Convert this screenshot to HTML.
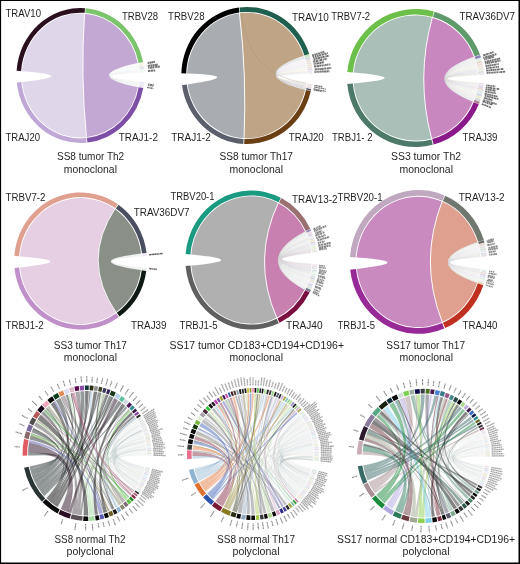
<!DOCTYPE html>
<html><head><meta charset="utf-8"><title>Figure</title>
<style>
html,body{margin:0;padding:0;background:#fff;}
body{width:520px;height:564px;overflow:hidden;font-family:"Liberation Sans",sans-serif;}
svg{display:block;}
</style></head><body>
<svg width="520" height="564" viewBox="0 0 520 564" font-family="Liberation Sans, sans-serif">
<rect width="520" height="564" fill="#fff"/>
<path d="M16.6 70.8A64 67.5 0 0 1 85 8.2L84.6 12.8A59.4 62.9 0 0 0 21.1 71.1Z" fill="#2a0f1e"/>
<path d="M85.6 8.2A64 67.5 0 0 1 143.1 61.9L138.6 62.9A59.4 62.9 0 0 0 85.3 12.8Z" fill="#7cc46c"/>
<path d="M143.3 88.1A64 67.5 0 0 1 87.4 142.6L86.9 138A59.4 62.9 0 0 0 138.7 87.3Z" fill="#7d4fa5"/>
<path d="M86.5 142.7A64 67.5 0 0 1 16.8 82.6L21.3 82.1A59.4 62.9 0 0 0 86.1 138.1Z" fill="#bfa8d6"/>
<path d="M22 71.2A58.5 62 0 0 1 84.6 13.7Q80.4 75.5 86.4 137.2A58.5 62 0 0 1 22.2 82Q80.4 75.5 22 71.2Z" fill="#e0d6ea"/>
<path d="M84.6 13.7A58.5 62 0 0 1 137.7 63Q80.4 75.5 137.9 87.1A58.5 62 0 0 1 86.4 137.2Q80.4 75.5 84.6 13.7Z" fill="#c4a8d4"/>
<path d="M84.6 13Q80.4 75.5 86.5 137.9" fill="none" stroke="#fff" stroke-width="0.9"/>
<g fill-opacity="0.04" stroke-opacity="0.25" stroke-width="0.25">
<path d="M137.7 63A58.5 62 0 0 1 138 64.7Q80.4 75.5 138.1 85.7A58.5 62 0 0 1 137.9 87.1Q80.4 75.5 137.7 63Z" fill="#c8ccd4" stroke="#c8ccd4"/>
<path d="M138 64.7A58.5 62 0 0 1 138.3 66.3Q80.4 75.5 138.3 84.2A58.5 62 0 0 1 138.1 85.7Q80.4 75.5 138 64.7Z" fill="#d0d8cc" stroke="#d0d8cc"/>
<path d="M138.3 66.3A58.5 62 0 0 1 138.5 67.9Q80.4 75.5 138.1 85.7A58.5 62 0 0 1 137.9 87.1Q80.4 75.5 138.3 66.3Z" fill="#d0ecd8" stroke="#d0ecd8"/>
<path d="M138.5 67.9A58.5 62 0 0 1 138.6 69.5Q80.4 75.5 138.3 84.2A58.5 62 0 0 1 138.1 85.7Q80.4 75.5 138.5 67.9Z" fill="#cfdfe8" stroke="#cfdfe8"/>
<path d="M138.6 69.5A58.5 62 0 0 1 138.7 70.4Q80.4 75.5 138.5 82.8A58.5 62 0 0 1 138.3 84.2Q80.4 75.5 138.6 69.5Z" fill="#d6e6d0" stroke="#d6e6d0"/>
<path d="M138.7 70.4A58.5 62 0 0 1 138.8 71.3Q80.4 75.5 138.6 81.4A58.5 62 0 0 1 138.5 82.8Q80.4 75.5 138.7 70.4Z" fill="#c8d8c8" stroke="#c8d8c8"/>
<path d="M138.8 71.3A58.5 62 0 0 1 138.8 72Q80.4 75.5 138.5 82.8A58.5 62 0 0 1 138.3 84.2Q80.4 75.5 138.8 71.3Z" fill="#c9c2dc" stroke="#c9c2dc"/>
<path d="M138.8 72A58.5 62 0 0 1 138.8 72.8Q80.4 75.5 138.6 81.4A58.5 62 0 0 1 138.5 82.8Q80.4 75.5 138.8 72Z" fill="#e6e2b8" stroke="#e6e2b8"/>
</g><g fill-opacity="0.4">
<path d="M143.1 62.2A64 67.5 0 0 1 143.7 65.5L139.1 66.2A59.4 62.9 0 0 0 138.6 63.1Z" fill="#e6e2b8"/>
<path d="M143.7 65.8A64 67.5 0 0 1 144.1 68.9L139.5 69.3A59.4 62.9 0 0 0 139.2 66.5Z" fill="#bfc7d6"/>
<path d="M144.1 69.2A64 67.5 0 0 1 144.2 70.8L139.7 71.2A59.4 62.9 0 0 0 139.5 69.6Z" fill="#d0ecd8"/>
<path d="M144.3 71.2A64 67.5 0 0 1 144.3 72.5L139.7 72.7A59.4 62.9 0 0 0 139.7 71.5Z" fill="#d0ecd8"/>
<path d="M143.8 85.1A64 67.5 0 0 1 143.3 87.9L138.8 87A59.4 62.9 0 0 0 139.2 84.4Z" fill="#c8c0dc"/>
<path d="M144.1 82A64 67.5 0 0 1 143.8 84.7L139.2 84.1A59.4 62.9 0 0 0 139.5 81.6Z" fill="#c9c2dc"/>
</g>
<path d="M147.6 63.1l1.9 -0.3M149.8 62.7l1.4 -0.3M151.4 62.4l2 -0.4M153.6 62l1.4 -0.3M147.8 65.9l2.2 -0.3M150.5 65.5l1.8 -0.3M152.7 65.2l2 -0.3M155.2 64.9l2.5 -0.4M148.3 67.9l1.1 -0.1M149.9 67.7l2.1 -0.2M152.3 67.4l2.1 -0.2M155.1 67.1l2.5 -0.3M158 66.8l1.8 -0.2M148 70.9l2.5 -0.2M151 70.7l2.5 -0.2M153.9 70.5l1.3 -0.1" fill="none" stroke="#4a4a4a" stroke-width="2" stroke-dasharray="none" stroke-opacity="0.78"/>
<path d="M148 84.1l1.5 0.2M150.1 84.4l2.2 0.3M152.8 84.7l1 0.1M148 85.3l1.5 0.2M150 85.6l1.7 0.2M152.1 85.9l1.2 0.2M147.1 87.4l1.3 0.2M148.6 87.7l1.2 0.2M150.4 88l1.8 0.3M152.6 88.4l0.7 0.1" fill="none" stroke="#4a4a4a" stroke-width="1.44" stroke-dasharray="none" stroke-opacity="0.78"/>
<path d="M181.3 73.3A65.6 68.5 0 0 1 238.8 7.5L239.4 12.4A60.7 63.6 0 0 0 186.2 73.5Z" fill="#000000"/>
<path d="M239.5 7.4A65.6 68.5 0 0 1 309.2 54L304.5 55.5A60.7 63.6 0 0 0 240 12.3Z" fill="#1f5f4f"/>
<path d="M310.8 91A65.6 68.5 0 0 1 244.2 143.9L244.4 139A60.7 63.6 0 0 0 306 89.9Z" fill="#6b3f14"/>
<path d="M243.3 143.9A65.6 68.5 0 0 1 182 85.3L186.8 84.6A60.7 63.6 0 0 0 243.6 139Z" fill="#5a5f6b"/>
<path d="M187.1 73.5A59.8 62.7 0 0 1 239.5 13.3Q246.9 75.5 244 138.1A59.8 62.7 0 0 1 187.7 84.4Q246.9 75.5 187.1 73.5Z" fill="#a9adb2"/>
<path d="M239.5 13.3A59.8 62.7 0 0 1 303.7 55.8Q246.9 75.5 305.1 89.7A59.8 62.7 0 0 1 244 138.1Q246.9 75.5 239.5 13.3Z" fill="#bfa585"/>
<path d="M239.4 12.6Q246.9 75.5 244 138.8" fill="none" stroke="#fff" stroke-width="0.9"/>
<path d="M241.7 13Q246.9 75.5 306.3 83.1" fill="none" stroke="#a39078" stroke-width="0.35"/>
<g fill-opacity="0.04" stroke-opacity="0.4" stroke-width="0.25">
<path d="M303.7 55.8A59.8 62.7 0 0 1 304 57Q246.9 75.5 305.3 88.8A59.8 62.7 0 0 1 305.1 89.7Q246.9 75.5 303.7 55.8Z" fill="#a8d0b0" stroke="#a8d0b0"/>
<path d="M304 57A59.8 62.7 0 0 1 304.4 58.2Q246.9 75.5 305.5 87.8A59.8 62.7 0 0 1 305.3 88.8Q246.9 75.5 304 57Z" fill="#3a4a7a" stroke="#3a4a7a"/>
<path d="M304.4 58.2A59.8 62.7 0 0 1 304.7 59.4Q246.9 75.5 305.3 88.8A59.8 62.7 0 0 1 305.1 89.7Q246.9 75.5 304.4 58.2Z" fill="#d9d9d9" stroke="#d9d9d9"/>
<path d="M304.7 59.4A59.8 62.7 0 0 1 305 60.6Q246.9 75.5 305.5 87.8A59.8 62.7 0 0 1 305.3 88.8Q246.9 75.5 304.7 59.4Z" fill="#dcd0e4" stroke="#dcd0e4"/>
<path d="M305 60.6A59.8 62.7 0 0 1 305.2 61.7Q246.9 75.5 305.3 88.8A59.8 62.7 0 0 1 305.1 89.7Q246.9 75.5 305 60.6Z" fill="#c8d8c8" stroke="#c8d8c8"/>
<path d="M305.2 61.7A59.8 62.7 0 0 1 305.5 62.8Q246.9 75.5 305.8 86.2A59.8 62.7 0 0 1 305.7 87Q246.9 75.5 305.2 61.7Z" fill="#dcd0e4" stroke="#dcd0e4"/>
<path d="M305.5 62.8A59.8 62.7 0 0 1 305.6 63.8Q246.9 75.5 305.7 87A59.8 62.7 0 0 1 305.5 87.8Q246.9 75.5 305.5 62.8Z" fill="#e8cfd8" stroke="#e8cfd8"/>
<path d="M305.6 63.8A59.8 62.7 0 0 1 305.8 64.8Q246.9 75.5 305.8 86.2A59.8 62.7 0 0 1 305.7 87Q246.9 75.5 305.6 63.8Z" fill="#c9c2dc" stroke="#c9c2dc"/>
<path d="M305.8 64.8A59.8 62.7 0 0 1 306 65.8Q246.9 75.5 305.7 87A59.8 62.7 0 0 1 305.5 87.8Q246.9 75.5 305.8 64.8Z" fill="#c9c2dc" stroke="#c9c2dc"/>
<path d="M306 65.8A59.8 62.7 0 0 1 306.1 66.8Q246.9 75.5 305.8 86.2A59.8 62.7 0 0 1 305.7 87Q246.9 75.5 306 65.8Z" fill="#d9d9d9" stroke="#d9d9d9"/>
<path d="M306.1 66.8A59.8 62.7 0 0 1 306.2 67.7Q246.9 75.5 306 85.4A59.8 62.7 0 0 1 305.8 86.2Q246.9 75.5 306.1 66.8Z" fill="#c8d8c8" stroke="#c8d8c8"/>
<path d="M306.2 67.7A59.8 62.7 0 0 1 306.3 68.6Q246.9 75.5 306.1 84.6A59.8 62.7 0 0 1 306 85.4Q246.9 75.5 306.2 67.7Z" fill="#d9d9d9" stroke="#d9d9d9"/>
<path d="M306.3 68.6A59.8 62.7 0 0 1 306.4 69.5Q246.9 75.5 306 85.4A59.8 62.7 0 0 1 305.8 86.2Q246.9 75.5 306.3 68.6Z" fill="#e6e2b8" stroke="#e6e2b8"/>
<path d="M306.4 69.5A59.8 62.7 0 0 1 306.5 70.5Q246.9 75.5 306.1 84.6A59.8 62.7 0 0 1 306 85.4Q246.9 75.5 306.4 69.5Z" fill="#e6e2b8" stroke="#e6e2b8"/>
<path d="M306.5 70.5A59.8 62.7 0 0 1 306.6 71.1Q246.9 75.5 306 85.4A59.8 62.7 0 0 1 305.8 86.2Q246.9 75.5 306.5 70.5Z" fill="#dcd0e4" stroke="#dcd0e4"/>
<path d="M306.6 71.1A59.8 62.7 0 0 1 306.6 71.8Q246.9 75.5 306.2 83.5A59.8 62.7 0 0 1 306.1 84Q246.9 75.5 306.6 71.1Z" fill="#e9d9c4" stroke="#e9d9c4"/>
<path d="M306.6 71.8A59.8 62.7 0 0 1 306.6 72.3Q246.9 75.5 306.1 84A59.8 62.7 0 0 1 306.1 84.6Q246.9 75.5 306.6 71.8Z" fill="#dcd0e4" stroke="#dcd0e4"/>
<path d="M306.6 72.3A59.8 62.7 0 0 1 306.6 72.7Q246.9 75.5 306.2 83.5A59.8 62.7 0 0 1 306.1 84Q246.9 75.5 306.6 72.3Z" fill="#e9d9c4" stroke="#e9d9c4"/>
<path d="M306.6 72.7A59.8 62.7 0 0 1 306.7 73.2Q246.9 75.5 306.1 84A59.8 62.7 0 0 1 306.1 84.6Q246.9 75.5 306.6 72.7Z" fill="#cfdfe8" stroke="#cfdfe8"/>
<path d="M306.7 73.2A59.8 62.7 0 0 1 306.7 73.6Q246.9 75.5 306.2 83.5A59.8 62.7 0 0 1 306.1 84Q246.9 75.5 306.7 73.2Z" fill="#cfdfe8" stroke="#cfdfe8"/>
</g><g fill-opacity="0.7">
<path d="M309.3 54.3A65.6 68.5 0 0 1 309.9 56.5L305.2 57.9A60.7 63.6 0 0 0 304.6 55.8Z" fill="#b0d8a0"/>
<path d="M310 56.9A65.6 68.5 0 0 1 310.6 59.1L305.8 60.3A60.7 63.6 0 0 0 305.3 58.2Z" fill="#c9c2dc"/>
<path d="M310.7 59.5A65.6 68.5 0 0 1 311.1 61.5L306.3 62.5A60.7 63.6 0 0 0 305.9 60.6Z" fill="#e9d9c4"/>
<path d="M311.2 61.9A65.6 68.5 0 0 1 311.5 63.8L306.7 64.6A60.7 63.6 0 0 0 306.4 62.9Z" fill="#d9d9d9"/>
<path d="M311.6 64.1A65.6 68.5 0 0 1 311.9 65.9L307 66.6A60.7 63.6 0 0 0 306.8 64.9Z" fill="#e9d9c4"/>
<path d="M311.9 66.3A65.6 68.5 0 0 1 312.1 67.9L307.2 68.5A60.7 63.6 0 0 0 307 66.9Z" fill="#e9d9c4"/>
<path d="M312.1 68.3A65.6 68.5 0 0 1 312.3 69.9L307.4 70.3A60.7 63.6 0 0 0 307.3 68.8Z" fill="#dcd0e4"/>
<path d="M312.3 70.3A65.6 68.5 0 0 1 312.4 71.4L307.5 71.7A60.7 63.6 0 0 0 307.4 70.7Z" fill="#dcd0e4"/>
<path d="M312.4 71.8A65.6 68.5 0 0 1 312.4 72.4L307.5 72.6A60.7 63.6 0 0 0 307.5 72Z" fill="#d9d9d9"/>
<path d="M312.4 72.8A65.6 68.5 0 0 1 312.5 73.4L307.6 73.6A60.7 63.6 0 0 0 307.6 73Z" fill="#dcd0e4"/>
<path d="M311.2 89A65.6 68.5 0 0 1 310.9 90.7L306.1 89.6A60.7 63.6 0 0 0 306.4 88Z" fill="#1a1a3a"/>
<path d="M311.5 87.2A65.6 68.5 0 0 1 311.3 88.7L306.5 87.7A60.7 63.6 0 0 0 306.7 86.4Z" fill="#e0c8b8"/>
<path d="M311.8 85.5A65.6 68.5 0 0 1 311.6 86.9L306.8 86.1A60.7 63.6 0 0 0 306.9 84.8Z" fill="#dcd0e4"/>
<path d="M312 84.3A65.6 68.5 0 0 1 311.8 85.2L307 84.5A60.7 63.6 0 0 0 307.1 83.6Z" fill="#e9d9c4"/>
</g>
<path d="M312.1 55.5l1.7 -0.5M314.4 54.8l1.5 -0.4M316.2 54.2l1.4 -0.4M318.2 53.6l1.6 -0.5M320.4 52.9l1.5 -0.5M322.4 52.3l1.9 -0.6M324.6 51.6l0 0M312.8 57.3l1.6 -0.4M315 56.7l1.4 -0.4M316.9 56.1l1.8 -0.5M319.1 55.5l1.9 -0.5M321.6 54.8l2.2 -0.6M324.3 54.1l2.3 -0.6M327.1 53.3l0.8 -0.2M313.5 59.4l1.8 -0.4M315.7 58.8l1.9 -0.5M318 58.3l2.1 -0.5M320.5 57.7l1.5 -0.4M322.4 57.2l2.3 -0.6M325.3 56.5l1.4 -0.3M326.9 56.1l1.7 -0.4M313.2 61.7l1.9 -0.4M315.6 61.2l2.4 -0.5M318.5 60.6l1.1 -0.2M319.9 60.3l2.3 -0.5M322.8 59.7l1 -0.2M324.3 59.4l2.1 -0.4M326.7 58.9l0.3 -0.1M313.7 64l1 -0.2M315.2 63.7l1.5 -0.3M317 63.4l2.5 -0.4M319.9 62.9l1.8 -0.3M321.9 62.5l1.9 -0.3M314 66.6l2.5 -0.3M316.9 66.2l2.2 -0.3M319.4 65.8l1.7 -0.2M321.5 65.6l1.8 -0.2M323.7 65.3l1 -0.1M325.1 65.1l1.6 -0.2M327.1 64.8l1.2 -0.2M328.8 64.6l1 -0.1M330.4 64.4l0.3 0M314.7 69.4l2.2 -0.2M317.4 69.2l1.5 -0.1M319.4 69l1.5 -0.1M321.2 68.9l2.5 -0.2M324.2 68.6l2.1 -0.2M326.9 68.4l2 -0.2M329.2 68.1l1.1 -0.1M330.7 68l0.6 -0.1M314.4 72l1.3 -0.1M316.3 71.9l1 -0.1M317.6 71.8l1.3 -0.1M319.4 71.7l2 -0.1M321.7 71.6l2.1 -0.1M324.1 71.5l2.2 -0.1M326.6 71.4l1.6 -0.1M328.5 71.3l0.9 0" fill="none" stroke="#4a4a4a" stroke-width="1.98" stroke-dasharray="none" stroke-opacity="0.78"/>
<path d="M314.5 85.5l1.1 0.2M315.8 85.7l2 0.3M318.2 86.1l1.8 0.3M320.4 86.4l2 0.3M314 87l0.9 0.2M315.3 87.3l2.4 0.4M318.3 87.8l1.9 0.3M320.7 88.2l2 0.3M323.1 88.6l0.9 0.2M324.6 88.9l1.1 0.2M313.5 88.9l2.3 0.5M316.3 89.5l1.1 0.2M317.6 89.8l2.2 0.4M320.3 90.3l2.2 0.5M322.8 90.8l1.9 0.4M325.2 91.3l0.8 0.2M313.4 89.7l2.1 0.4M315.8 90.3l1.7 0.4M317.8 90.7l1.5 0.3M319.8 91.1l1.1 0.2M321.2 91.4l0.1 0" fill="none" stroke="#4a4a4a" stroke-width="1.22" stroke-dasharray="none" stroke-opacity="0.78"/>
<path d="M347.3 72A68.5 69 0 0 1 433.9 11.5L432.4 16.9A62.9 63.4 0 0 0 352.8 72.5Z" fill="#6cc04a"/>
<path d="M434.6 11.7A68.5 69 0 0 1 480 54.6L474.7 56.5A62.9 63.4 0 0 0 433 17.1Z" fill="#5f9a6a"/>
<path d="M478.8 104.3A68.5 69 0 0 1 433.7 144.5L432.2 139.1A62.9 63.4 0 0 0 473.7 102.2Z" fill="#8a1a8a"/>
<path d="M432.8 144.8A68.5 69 0 0 1 347.3 84L352.8 83.5A62.9 63.4 0 0 0 431.4 139.4Z" fill="#4d7a68"/>
<path d="M353.7 72.6A62 62.5 0 0 1 432.2 17.8Q415.5 78 431.5 138.4A62 62.5 0 0 1 353.7 83.4Q415.5 78 353.7 72.6Z" fill="#a9bfb8"/>
<path d="M432.2 17.8A62 62.5 0 0 1 473.8 56.8Q415.5 78 472.8 101.8A62 62.5 0 0 1 431.5 138.4Q415.5 78 432.2 17.8Z" fill="#c987c0"/>
<path d="M432.4 17.1Q415.5 78 431.7 139" fill="none" stroke="#fff" stroke-width="0.9"/>
<g fill-opacity="0.04" stroke-opacity="0.6" stroke-width="0.25">
<path d="M473.8 56.8A62 62.5 0 0 1 474.3 58.2Q415.5 78 473.3 100.6A62 62.5 0 0 1 472.8 101.8Q415.5 78 473.8 56.8Z" fill="#9aa4b4" stroke="#9aa4b4"/>
<path d="M474.3 58.2A62 62.5 0 0 1 474.8 59.6Q415.5 78 473.8 99.4A62 62.5 0 0 1 473.3 100.6Q415.5 78 474.3 58.2Z" fill="#b8c8b0" stroke="#b8c8b0"/>
<path d="M474.8 59.6A62 62.5 0 0 1 475.1 60.8Q415.5 78 474.1 98.3A62 62.5 0 0 1 473.8 99.4Q415.5 78 474.8 59.6Z" fill="#c4c4cc" stroke="#c4c4cc"/>
<path d="M475.1 60.8A62 62.5 0 0 1 475.4 62Q415.5 78 474.5 97.1A62 62.5 0 0 1 474.1 98.3Q415.5 78 475.1 60.8Z" fill="#dcd8d0" stroke="#dcd8d0"/>
<path d="M475.4 62A62 62.5 0 0 1 475.7 63.1Q415.5 78 474.9 96A62 62.5 0 0 1 474.5 97.1Q415.5 78 475.4 62Z" fill="#c4c4cc" stroke="#c4c4cc"/>
<path d="M475.7 63.1A62 62.5 0 0 1 476 64.3Q415.5 78 475.2 94.9A62 62.5 0 0 1 474.9 96Q415.5 78 475.7 63.1Z" fill="#dcd8d0" stroke="#dcd8d0"/>
<path d="M476 64.3A62 62.5 0 0 1 476.2 65.4Q415.5 78 475.5 93.9A62 62.5 0 0 1 475.2 94.9Q415.5 78 476 64.3Z" fill="#e8cfd8" stroke="#e8cfd8"/>
<path d="M476.2 65.4A62 62.5 0 0 1 476.4 66.5Q415.5 78 475.7 92.9A62 62.5 0 0 1 475.5 93.9Q415.5 78 476.2 65.4Z" fill="#d6e6d0" stroke="#d6e6d0"/>
<path d="M476.4 66.5A62 62.5 0 0 1 476.6 67.4Q415.5 78 475.9 91.9A62 62.5 0 0 1 475.7 92.9Q415.5 78 476.4 66.5Z" fill="#d6e6d0" stroke="#d6e6d0"/>
<path d="M476.6 67.4A62 62.5 0 0 1 476.8 68.3Q415.5 78 476.2 90.9A62 62.5 0 0 1 475.9 91.9Q415.5 78 476.6 67.4Z" fill="#d6e6d0" stroke="#d6e6d0"/>
<path d="M476.8 68.3A62 62.5 0 0 1 476.9 69.1Q415.5 78 476.3 90A62 62.5 0 0 1 476.2 90.9Q415.5 78 476.8 68.3Z" fill="#e8cfd8" stroke="#e8cfd8"/>
<path d="M476.9 69.1A62 62.5 0 0 1 477 69.9Q415.5 78 476.5 89A62 62.5 0 0 1 476.3 90Q415.5 78 476.9 69.1Z" fill="#d8d4dc" stroke="#d8d4dc"/>
<path d="M477 69.9A62 62.5 0 0 1 477.1 70.7Q415.5 78 476.7 88.2A62 62.5 0 0 1 476.5 89Q415.5 78 477 69.9Z" fill="#c9c2dc" stroke="#c9c2dc"/>
<path d="M477.1 70.7A62 62.5 0 0 1 477.2 71.5Q415.5 78 476.8 87.3A62 62.5 0 0 1 476.7 88.2Q415.5 78 477.1 70.7Z" fill="#cfcfd4" stroke="#cfcfd4"/>
<path d="M477.2 71.5A62 62.5 0 0 1 477.2 72.3Q415.5 78 476.9 86.5A62 62.5 0 0 1 476.8 87.3Q415.5 78 477.2 71.5Z" fill="#c4c4cc" stroke="#c4c4cc"/>
<path d="M477.2 72.3A62 62.5 0 0 1 477.3 73Q415.5 78 477 85.6A62 62.5 0 0 1 476.9 86.5Q415.5 78 477.2 72.3Z" fill="#d8d4dc" stroke="#d8d4dc"/>
<path d="M477.3 73A62 62.5 0 0 1 477.3 73.6Q415.5 78 477.1 84.8A62 62.5 0 0 1 477 85.6Q415.5 78 477.3 73Z" fill="#e8cfd8" stroke="#e8cfd8"/>
<path d="M477.3 73.6A62 62.5 0 0 1 477.4 74.2Q415.5 78 477.2 84A62 62.5 0 0 1 477.1 84.8Q415.5 78 477.3 73.6Z" fill="#c8d0cc" stroke="#c8d0cc"/>
<path d="M477.4 74.2A62 62.5 0 0 1 477.4 74.7Q415.5 78 477.3 83.4A62 62.5 0 0 1 477.2 84Q415.5 78 477.4 74.2Z" fill="#dcd8d0" stroke="#dcd8d0"/>
<path d="M477.4 74.7A62 62.5 0 0 1 477.4 75.3Q415.5 78 477.3 82.9A62 62.5 0 0 1 477.3 83.4Q415.5 78 477.4 74.7Z" fill="#d6e6d0" stroke="#d6e6d0"/>
</g><g fill-opacity="0.7">
<path d="M480.1 54.9A68.5 69 0 0 1 480.9 57.6L475.6 59.3A62.9 63.4 0 0 0 474.8 56.8Z" fill="#5a4a9a"/>
<path d="M481.1 58A68.5 69 0 0 1 481.7 60.2L476.3 61.7A62.9 63.4 0 0 0 475.7 59.6Z" fill="#d0ecd8"/>
<path d="M481.8 60.6A68.5 69 0 0 1 482.3 62.8L476.9 64A62.9 63.4 0 0 0 476.4 62Z" fill="#e0c8b8"/>
<path d="M482.4 63.1A68.5 69 0 0 1 482.8 65.2L477.3 66.3A62.9 63.4 0 0 0 476.9 64.4Z" fill="#e8cfd8"/>
<path d="M482.9 65.6A68.5 69 0 0 1 483.2 67.3L477.6 68.1A62.9 63.4 0 0 0 477.4 66.6Z" fill="#e6e2b8"/>
<path d="M483.2 67.6A68.5 69 0 0 1 483.4 69L477.9 69.8A62.9 63.4 0 0 0 477.7 68.5Z" fill="#dcd0e4"/>
<path d="M483.5 69.4A68.5 69 0 0 1 483.6 70.8L478.1 71.3A62.9 63.4 0 0 0 477.9 70.1Z" fill="#e6e2b8"/>
<path d="M483.7 71.1A68.5 69 0 0 1 483.8 72.5L478.2 72.9A62.9 63.4 0 0 0 478.1 71.7Z" fill="#bfc7d6"/>
<path d="M483.8 72.8A68.5 69 0 0 1 483.9 73.8L478.3 74.1A62.9 63.4 0 0 0 478.2 73.2Z" fill="#d9d9d9"/>
<path d="M483.9 74.1A68.5 69 0 0 1 483.9 74.9L478.3 75.2A62.9 63.4 0 0 0 478.3 74.4Z" fill="#dcd0e4"/>
<path d="M479.8 101.7A68.5 69 0 0 1 478.9 104L473.8 101.9A62.9 63.4 0 0 0 474.6 99.8Z" fill="#8a4a5a"/>
<path d="M480.7 99.2A68.5 69 0 0 1 480 101.3L474.7 99.4A62.9 63.4 0 0 0 475.4 97.5Z" fill="#bfc7d6"/>
<path d="M481.4 96.7A68.5 69 0 0 1 480.8 98.9L475.5 97.2A62.9 63.4 0 0 0 476 95.2Z" fill="#e6e2b8"/>
<path d="M482 94.5A68.5 69 0 0 1 481.5 96.4L476.1 94.9A62.9 63.4 0 0 0 476.6 93.1Z" fill="#bfc7d6"/>
<path d="M482.5 92.3A68.5 69 0 0 1 482.1 94.1L476.7 92.8A62.9 63.4 0 0 0 477 91.2Z" fill="#cfdfe8"/>
<path d="M482.9 90.2A68.5 69 0 0 1 482.6 92L477.1 90.9A62.9 63.4 0 0 0 477.4 89.2Z" fill="#d9d9d9"/>
<path d="M483.2 88.3A68.5 69 0 0 1 483 89.9L477.5 88.9A62.9 63.4 0 0 0 477.7 87.5Z" fill="#e0c8b8"/>
<path d="M483.5 86.5A68.5 69 0 0 1 483.3 88L477.7 87.2A62.9 63.4 0 0 0 477.9 85.8Z" fill="#c9c2dc"/>
<path d="M483.7 84.7A68.5 69 0 0 1 483.5 86.1L478 85.5A62.9 63.4 0 0 0 478.1 84.1Z" fill="#e8cfd8"/>
<path d="M483.8 83.5A68.5 69 0 0 1 483.7 84.3L478.1 83.8A62.9 63.4 0 0 0 478.2 83Z" fill="#bfc7d6"/>
</g>
<path d="M483.2 55.5l2.4 -0.8M486.1 54.5l1.8 -0.6M488.4 53.8l1.2 -0.4M490.1 53.2l1.8 -0.6M492.2 52.5l1 -0.3M493.7 52l0.4 -0.1M483.3 58l1.3 -0.4M485.1 57.4l2.3 -0.7M487.7 56.7l1.9 -0.6M489.8 56.1l2 -0.6M492.2 55.4l2.3 -0.7M495 54.5l1.4 -0.4M484.1 59.6l0.9 -0.2M485.4 59.2l1.5 -0.4M487.4 58.7l1.1 -0.3M488.7 58.3l2.3 -0.6M491.4 57.6l2.4 -0.7M494.4 56.8l0.1 0M484.7 62l1.8 -0.4M487 61.5l2.4 -0.6M489.8 60.8l1.6 -0.4M491.9 60.3l1.3 -0.3M493.5 59.9l2.5 -0.6M496.5 59.3l1.8 -0.4M498.5 58.8l1.6 -0.4M485.1 63.7l1 -0.2M486.6 63.4l1.7 -0.3M488.7 63l1.5 -0.3M490.7 62.6l2.1 -0.4M493 62.1l1 -0.2M494.5 61.8l2.5 -0.5M497.3 61.2l1.6 -0.3M499.4 60.8l1 -0.2M485.6 66.2l1.4 -0.2M487.3 65.9l2.2 -0.4M489.8 65.5l1.8 -0.3M492.1 65.1l1.4 -0.2M493.8 64.8l2.2 -0.4M496.4 64.4l1.2 -0.2M498 64.1l0.7 -0.1M486.1 68.4l1.6 -0.2M488.3 68.1l1.2 -0.2M489.8 67.9l2 -0.3M492.4 67.6l1.7 -0.2M494.3 67.3l1.1 -0.1M495.9 67.1l1.2 -0.2M497.6 66.9l1.4 -0.2M486.2 70.7l2.3 -0.2M488.8 70.4l1.1 -0.1M490.3 70.2l2.2 -0.2M492.9 70l1.5 -0.2M494.7 69.8l1.6 -0.2M496.7 69.6l2.5 -0.3M499.5 69.3l0.9 -0.1M501 69.1l2.4 -0.2M486.7 73l1.3 -0.1M488.4 72.9l2.3 -0.2M491.2 72.7l1.8 -0.1M493.4 72.6l1.5 -0.1M495.2 72.4l1 -0.1M496.6 72.3l1.4 -0.1M498.6 72.2l1 -0.1M500.1 72.1l2.1 -0.1M502.8 71.9l2.4 -0.2" fill="none" stroke="#4a4a4a" stroke-width="1.85" stroke-dasharray="none" stroke-opacity="0.8"/>
<path d="M486.3 85.4l1.2 0.1M487.8 85.5l2 0.2M490.3 85.8l1.6 0.2M492.4 86l1.9 0.2M494.7 86.3l0.6 0.1M485.7 87.3l1.2 0.2M487.4 87.5l2.3 0.3M489.9 87.9l2.2 0.3M492.7 88.3l2.3 0.3M495.5 88.6l0.9 0.1M496.9 88.8l2.3 0.3M485.6 89.2l1.6 0.3M487.6 89.6l2.2 0.4M490 89.9l1 0.2M491.3 90.1l1.1 0.2M492.7 90.4l2.5 0.4M495.7 90.9l0.3 0.1M485.1 91.3l2 0.4M487.5 91.8l1.5 0.3M489.3 92.1l1.4 0.3M491 92.5l1.8 0.3M493.3 92.9l1.5 0.3M495.1 93.2l0.7 0.1M484.6 93.7l2.2 0.5M487.3 94.3l1.6 0.4M489.2 94.7l1.7 0.4M491.4 95.2l1.6 0.4M493.5 95.7l1.6 0.4M495.4 96.1l1.8 0.4M497.7 96.6l0.3 0.1M484.7 95.7l1.5 0.4M486.7 96.2l2.2 0.6M489.2 96.8l1.6 0.4M491.1 97.3l2.2 0.6M493.8 98l2.3 0.6M496.6 98.7l1.8 0.5M483.8 97.8l0.9 0.3M484.9 98.1l2.1 0.6M487.3 98.8l1 0.3M488.6 99.2l2.3 0.7M491.2 99.9l0.9 0.3M492.6 100.3l0.4 0.1M483.4 100l1.8 0.6M485.7 100.7l0.9 0.3M487.1 101.2l1.7 0.5M489.3 101.9l1 0.3M490.8 102.4l2.4 0.8M493.4 103.2l1.4 0.4M495.2 103.8l1.5 0.5M482.6 101.4l2.1 0.7M485.1 102.3l1.4 0.5M486.9 102.9l1.4 0.5M488.7 103.5l1 0.3M490 104l2.4 0.8M481.8 104l2 0.8M484.3 104.9l1.7 0.6M486.3 105.7l1.9 0.7M488.7 106.7l1.1 0.4M490 107.2l1 0.4" fill="none" stroke="#4a4a4a" stroke-width="1.73" stroke-dasharray="none" stroke-opacity="0.8"/>
<path d="M14.4 256A66.4 68.5 0 0 1 117.9 204.3L115.3 208.1A61.8 63.9 0 0 0 19 256.3Z" fill="#e0a090"/>
<path d="M118.5 204.8A66.4 68.5 0 0 1 146.5 253L142 253.5A61.8 63.9 0 0 0 115.9 208.5Z" fill="#4a4f60"/>
<path d="M146.3 270.9A66.4 68.5 0 0 1 119.5 316.5L116.8 312.8A61.8 63.9 0 0 0 141.8 270.2Z" fill="#101a14"/>
<path d="M118.8 317A66.4 68.5 0 0 1 14.5 267.9L19.1 267.5A61.8 63.9 0 0 0 116.1 313.3Z" fill="#c090c8"/>
<path d="M19.9 256.4A60.9 63 0 0 1 114.8 208.9Q80.6 261 116 312.3A60.9 63 0 0 1 20 267.4Q80.6 261 19.9 256.4Z" fill="#e6cfe3"/>
<path d="M114.8 208.9A60.9 63 0 0 1 141.1 253.6Q80.6 261 140.9 270.1A60.9 63 0 0 1 116 312.3Q80.6 261 114.8 208.9Z" fill="#8a9088"/>
<path d="M115.2 208.3Q80.6 261 116.4 312.9" fill="none" stroke="#fff" stroke-width="0.9"/>
<g fill-opacity="0.04" stroke-opacity="0.4" stroke-width="0.25">
<path d="M141.1 253.6A60.9 63 0 0 1 141.2 255Q80.6 261 141 268.7A60.9 63 0 0 1 140.9 270.1Q80.6 261 141.1 253.6Z" fill="#9aa4b4" stroke="#9aa4b4"/>
<path d="M141.2 255A60.9 63 0 0 1 141.3 256.4Q80.6 261 141.2 267.4A60.9 63 0 0 1 141 268.7Q80.6 261 141.2 255Z" fill="#b8c8b0" stroke="#b8c8b0"/>
</g><g fill-opacity="0.7">
<path d="M146.6 253.3A66.4 68.5 0 0 1 146.8 255.9L142.2 256.3A61.8 63.9 0 0 0 142 253.8Z" fill="#e8e0ec"/>
<path d="M146.7 268A66.4 68.5 0 0 1 146.3 270.6L141.8 269.9A61.8 63.9 0 0 0 142.1 267.5Z" fill="#e0e8e0"/>
</g>
<path d="M149.1 254.8l2.5 -0.2M152.1 254.5l2.2 -0.2M154.6 254.3l1.8 -0.2M156.7 254.1l1.2 -0.1M158.2 254l1.3 -0.1M160.1 253.8l2.3 -0.2M162.9 253.5l0.2 0" fill="none" stroke="#333" stroke-width="1.52" stroke-dasharray="none" stroke-opacity="0.8"/>
<path d="M149.3 268.6l2.3 0.3M152.2 268.9l1 0.1M153.7 269l2 0.2M156.1 269.3l0.7 0.1" fill="none" stroke="#333" stroke-width="1.52" stroke-dasharray="none" stroke-opacity="0.8"/>
<path d="M185.6 253.9A66 69.5 0 0 1 280.7 197.8L278.6 202.2A61.1 64.6 0 0 0 190.4 254.4Z" fill="#1a9a80"/>
<path d="M281.4 198.1A66 69.5 0 0 1 310.3 228.8L305.9 231A61.1 64.6 0 0 0 279.1 202.5Z" fill="#9a7070"/>
<path d="M309.6 292.5A66 69.5 0 0 1 279.6 322.8L277.5 318.4A61.1 64.6 0 0 0 305.3 290.2Z" fill="#7a1040"/>
<path d="M278.8 323.2A66 69.5 0 0 1 185.6 266.1L190.4 265.6A61.1 64.6 0 0 0 276.7 318.7Z" fill="#606060"/>
<path d="M191.3 254.4A60.2 63.7 0 0 1 278.2 203Q251.3 260 276.7 317.7A60.2 63.7 0 0 1 191.3 265.6Q251.3 260 191.3 254.4Z" fill="#b0b0b0"/>
<path d="M278.2 203A60.2 63.7 0 0 1 305.1 231.4Q251.3 260 304.5 289.8A60.2 63.7 0 0 1 276.7 317.7Q251.3 260 278.2 203Z" fill="#c880b0"/>
<path d="M278.5 202.4Q251.3 260 277 318.4" fill="none" stroke="#fff" stroke-width="0.9"/>
<g fill-opacity="0.04" stroke-opacity="0.6" stroke-width="0.25">
<path d="M305.1 231.4A60.2 63.7 0 0 1 305.5 232.3Q251.3 260 305.1 288.6A60.2 63.7 0 0 1 304.5 289.8Q251.3 260 305.1 231.4Z" fill="#9aa4b4" stroke="#9aa4b4"/>
<path d="M305.5 232.3A60.2 63.7 0 0 1 305.9 233.3Q251.3 260 305.7 287.4A60.2 63.7 0 0 1 305.1 288.6Q251.3 260 305.5 232.3Z" fill="#b8c8b0" stroke="#b8c8b0"/>
<path d="M305.1 231.4A60.2 63.7 0 0 1 305.5 232.3Q251.3 260 306.2 286.2A60.2 63.7 0 0 1 305.7 287.4Q251.3 260 305.1 231.4Z" fill="#dcd8d0" stroke="#dcd8d0"/>
<path d="M306.4 234.2A60.2 63.7 0 0 1 306.7 235.2Q251.3 260 306.7 285A60.2 63.7 0 0 1 306.2 286.2Q251.3 260 306.4 234.2Z" fill="#c9c2dc" stroke="#c9c2dc"/>
<path d="M305.9 233.3A60.2 63.7 0 0 1 306.4 234.2Q251.3 260 307.1 283.9A60.2 63.7 0 0 1 306.7 285Q251.3 260 305.9 233.3Z" fill="#c8d0cc" stroke="#c8d0cc"/>
<path d="M307.1 236.1A60.2 63.7 0 0 1 307.5 237.1Q251.3 260 307.5 282.7A60.2 63.7 0 0 1 307.1 283.9Q251.3 260 307.1 236.1Z" fill="#c8d0cc" stroke="#c8d0cc"/>
<path d="M306.7 235.2A60.2 63.7 0 0 1 307.1 236.1Q251.3 260 307.9 281.6A60.2 63.7 0 0 1 307.5 282.7Q251.3 260 306.7 235.2Z" fill="#d8d4dc" stroke="#d8d4dc"/>
<path d="M307.8 238.1A60.2 63.7 0 0 1 308.1 239Q251.3 260 308.3 280.4A60.2 63.7 0 0 1 307.9 281.6Q251.3 260 307.8 238.1Z" fill="#c8d0cc" stroke="#c8d0cc"/>
<path d="M307.5 237.1A60.2 63.7 0 0 1 307.8 238.1Q251.3 260 308.6 279.4A60.2 63.7 0 0 1 308.3 280.4Q251.3 260 307.5 237.1Z" fill="#d6e6d0" stroke="#d6e6d0"/>
<path d="M307.8 238.1A60.2 63.7 0 0 1 308.1 239Q251.3 260 308.9 278.4A60.2 63.7 0 0 1 308.6 279.4Q251.3 260 307.8 238.1Z" fill="#dcd8d0" stroke="#dcd8d0"/>
<path d="M308.1 239A60.2 63.7 0 0 1 308.4 239.9Q251.3 260 309.2 277.4A60.2 63.7 0 0 1 308.9 278.4Q251.3 260 308.1 239Z" fill="#c4c4cc" stroke="#c4c4cc"/>
<path d="M308.4 239.9A60.2 63.7 0 0 1 308.7 240.8Q251.3 260 309.5 276.5A60.2 63.7 0 0 1 309.2 277.4Q251.3 260 308.4 239.9Z" fill="#c9c2dc" stroke="#c9c2dc"/>
<path d="M308.7 240.8A60.2 63.7 0 0 1 309 241.7Q251.3 260 309.7 275.5A60.2 63.7 0 0 1 309.5 276.5Q251.3 260 308.7 240.8Z" fill="#d6e6d0" stroke="#d6e6d0"/>
<path d="M309 241.7A60.2 63.7 0 0 1 309.2 242.5Q251.3 260 309.9 274.5A60.2 63.7 0 0 1 309.7 275.5Q251.3 260 309 241.7Z" fill="#d8d4dc" stroke="#d8d4dc"/>
<path d="M309.2 242.5A60.2 63.7 0 0 1 309.4 243.4Q251.3 260 310.1 273.8A60.2 63.7 0 0 1 309.9 274.5Q251.3 260 309.2 242.5Z" fill="#d8d4dc" stroke="#d8d4dc"/>
<path d="M309.4 243.4A60.2 63.7 0 0 1 309.6 244.3Q251.3 260 310.2 273.1A60.2 63.7 0 0 1 310.1 273.8Q251.3 260 309.4 243.4Z" fill="#dcd8d0" stroke="#dcd8d0"/>
<path d="M309.6 244.3A60.2 63.7 0 0 1 309.8 245.1Q251.3 260 310.3 272.5A60.2 63.7 0 0 1 310.2 273.1Q251.3 260 309.6 244.3Z" fill="#cfcfd4" stroke="#cfcfd4"/>
<path d="M309.8 245.1A60.2 63.7 0 0 1 310 245.9Q251.3 260 310.5 271.8A60.2 63.7 0 0 1 310.3 272.5Q251.3 260 309.8 245.1Z" fill="#c9c2dc" stroke="#c9c2dc"/>
<path d="M309.6 244.3A60.2 63.7 0 0 1 309.8 245.1Q251.3 260 310.6 271.2A60.2 63.7 0 0 1 310.5 271.8Q251.3 260 309.6 244.3Z" fill="#dcd8d0" stroke="#dcd8d0"/>
<path d="M310.2 246.7A60.2 63.7 0 0 1 310.3 247.5Q251.3 260 310.7 270.5A60.2 63.7 0 0 1 310.6 271.2Q251.3 260 310.2 246.7Z" fill="#c4c4cc" stroke="#c4c4cc"/>
<path d="M310 245.9A60.2 63.7 0 0 1 310.2 246.7Q251.3 260 310.8 269.9A60.2 63.7 0 0 1 310.7 270.5Q251.3 260 310 245.9Z" fill="#c9c2dc" stroke="#c9c2dc"/>
<path d="M310.4 248.1A60.2 63.7 0 0 1 310.6 248.8Q251.3 260 310.9 269.2A60.2 63.7 0 0 1 310.8 269.9Q251.3 260 310.4 248.1Z" fill="#cfcfd4" stroke="#cfcfd4"/>
<path d="M310.3 247.5A60.2 63.7 0 0 1 310.4 248.1Q251.3 260 310.9 268.6A60.2 63.7 0 0 1 310.9 269.2Q251.3 260 310.3 247.5Z" fill="#dcd8d0" stroke="#dcd8d0"/>
<path d="M310.7 249.5A60.2 63.7 0 0 1 310.8 250.2Q251.3 260 311 268A60.2 63.7 0 0 1 310.9 268.6Q251.3 260 310.7 249.5Z" fill="#c9c2dc" stroke="#c9c2dc"/>
<path d="M310.6 248.8A60.2 63.7 0 0 1 310.7 249.5Q251.3 260 311.1 267.4A60.2 63.7 0 0 1 311 268Q251.3 260 310.6 248.8Z" fill="#dcd8d0" stroke="#dcd8d0"/>
<path d="M310.7 249.5A60.2 63.7 0 0 1 310.8 250.2Q251.3 260 311.2 266.9A60.2 63.7 0 0 1 311.1 267.4Q251.3 260 310.7 249.5Z" fill="#e8cfd8" stroke="#e8cfd8"/>
<path d="M310.8 250.2A60.2 63.7 0 0 1 310.9 250.7Q251.3 260 311.2 266.3A60.2 63.7 0 0 1 311.2 266.9Q251.3 260 310.8 250.2Z" fill="#c9c2dc" stroke="#c9c2dc"/>
<path d="M310.9 250.7A60.2 63.7 0 0 1 310.9 251.2Q251.3 260 311.3 265.7A60.2 63.7 0 0 1 311.2 266.3Q251.3 260 310.9 250.7Z" fill="#d8d4dc" stroke="#d8d4dc"/>
<path d="M310.9 251.2A60.2 63.7 0 0 1 311 251.6Q251.3 260 311.3 265.2A60.2 63.7 0 0 1 311.3 265.7Q251.3 260 310.9 251.2Z" fill="#e8cfd8" stroke="#e8cfd8"/>
<path d="M311 251.6A60.2 63.7 0 0 1 311 252.1Q251.3 260 311.3 264.8A60.2 63.7 0 0 1 311.3 265.2Q251.3 260 311 251.6Z" fill="#e8cfd8" stroke="#e8cfd8"/>
<path d="M311 252.1A60.2 63.7 0 0 1 311.1 252.4Q251.3 260 311.4 264.3A60.2 63.7 0 0 1 311.3 264.8Q251.3 260 311 252.1Z" fill="#d8d4dc" stroke="#d8d4dc"/>
<path d="M311.1 252.4A60.2 63.7 0 0 1 311.1 252.8Q251.3 260 311.4 263.9A60.2 63.7 0 0 1 311.4 264.3Q251.3 260 311.1 252.4Z" fill="#c4c4cc" stroke="#c4c4cc"/>
</g><g fill-opacity="0.7">
<path d="M310.4 229A66 69.5 0 0 1 311.2 230.8L306.7 232.8A61.1 64.6 0 0 0 306 231.2Z" fill="#6a5a9a"/>
<path d="M311.3 231.1A66 69.5 0 0 1 312.1 232.9L307.6 234.8A61.1 64.6 0 0 0 306.9 233.1Z" fill="#e8cfd8"/>
<path d="M312.2 233.2A66 69.5 0 0 1 312.9 235L308.3 236.7A61.1 64.6 0 0 0 307.7 235.1Z" fill="#c9c2dc"/>
<path d="M313 235.3A66 69.5 0 0 1 313.6 237.1L309 238.7A61.1 64.6 0 0 0 308.4 237Z" fill="#e4e4ee"/>
<path d="M313.7 237.4A66 69.5 0 0 1 314.2 239L309.5 240.5A61.1 64.6 0 0 0 309.1 239Z" fill="#d9d9d9"/>
<path d="M314.3 239.3A66 69.5 0 0 1 314.8 240.9L310 242.2A61.1 64.6 0 0 0 309.6 240.8Z" fill="#e6e2b8"/>
<path d="M314.8 241.2A66 69.5 0 0 1 315.2 242.8L310.5 244A61.1 64.6 0 0 0 310.1 242.5Z" fill="#c9c2dc"/>
<path d="M315.3 243.1A66 69.5 0 0 1 315.6 244.5L310.9 245.6A61.1 64.6 0 0 0 310.6 244.3Z" fill="#dcd0e4"/>
<path d="M315.7 244.9A66 69.5 0 0 1 316 246.3L311.2 247.2A61.1 64.6 0 0 0 310.9 245.9Z" fill="#d0ecd8"/>
<path d="M316.1 246.6A66 69.5 0 0 1 316.3 247.7L311.4 248.6A61.1 64.6 0 0 0 311.3 247.6Z" fill="#e6e2b8"/>
<path d="M316.3 248.1A66 69.5 0 0 1 316.5 249.2L311.7 250A61.1 64.6 0 0 0 311.5 248.9Z" fill="#d9d9d9"/>
<path d="M316.6 249.6A66 69.5 0 0 1 316.7 250.4L311.8 251A61.1 64.6 0 0 0 311.7 250.3Z" fill="#e6e2b8"/>
<path d="M316.7 250.7A66 69.5 0 0 1 316.8 251.3L311.9 251.9A61.1 64.6 0 0 0 311.9 251.4Z" fill="#bfc7d6"/>
<path d="M316.8 251.6A66 69.5 0 0 1 316.9 252.1L312 252.6A61.1 64.6 0 0 0 312 252.2Z" fill="#c9c2dc"/>
<path d="M310.9 289.9A66 69.5 0 0 1 309.8 292.3L305.4 290A61.1 64.6 0 0 0 306.4 287.8Z" fill="#3a3a5a"/>
<path d="M312 287.3A66 69.5 0 0 1 311 289.6L306.6 287.5A61.1 64.6 0 0 0 307.5 285.4Z" fill="#c8d8c8"/>
<path d="M312.9 284.8A66 69.5 0 0 1 312.1 287L307.6 285.1A61.1 64.6 0 0 0 308.4 283.1Z" fill="#c9c2dc"/>
<path d="M313.8 282.3A66 69.5 0 0 1 313.1 284.5L308.5 282.8A61.1 64.6 0 0 0 309.2 280.8Z" fill="#e4e4ee"/>
<path d="M314.5 280.1A66 69.5 0 0 1 313.9 282L309.3 280.5A61.1 64.6 0 0 0 309.8 278.7Z" fill="#e9d9c4"/>
<path d="M315 278A66 69.5 0 0 1 314.6 279.8L309.9 278.4A61.1 64.6 0 0 0 310.3 276.7Z" fill="#bfc7d6"/>
<path d="M315.5 275.9A66 69.5 0 0 1 315.1 277.7L310.4 276.4A61.1 64.6 0 0 0 310.8 274.8Z" fill="#cfdfe8"/>
<path d="M315.9 274.4A66 69.5 0 0 1 315.6 275.6L310.8 274.5A61.1 64.6 0 0 0 311.1 273.4Z" fill="#d6e6d0"/>
<path d="M316.1 273A66 69.5 0 0 1 315.9 274L311.1 273A61.1 64.6 0 0 0 311.3 272Z" fill="#d0ecd8"/>
<path d="M316.4 271.5A66 69.5 0 0 1 316.2 272.6L311.4 271.7A61.1 64.6 0 0 0 311.6 270.7Z" fill="#cfdfe8"/>
<path d="M316.6 270.1A66 69.5 0 0 1 316.4 271.2L311.6 270.4A61.1 64.6 0 0 0 311.7 269.4Z" fill="#c8d8c8"/>
<path d="M316.8 268.8A66 69.5 0 0 1 316.6 269.8L311.8 269.1A61.1 64.6 0 0 0 311.9 268.2Z" fill="#d9d9d9"/>
<path d="M316.9 267.5A66 69.5 0 0 1 316.8 268.4L311.9 267.9A61.1 64.6 0 0 0 312 267Z" fill="#dcd0e4"/>
<path d="M317 266.3A66 69.5 0 0 1 316.9 267.2L312.1 266.7A61.1 64.6 0 0 0 312.1 265.8Z" fill="#d9d9d9"/>
<path d="M317.1 265.3A66 69.5 0 0 1 317.1 265.9L312.2 265.5A61.1 64.6 0 0 0 312.2 264.9Z" fill="#dcd0e4"/>
<path d="M317.2 264.3A66 69.5 0 0 1 317.1 264.9L312.2 264.6A61.1 64.6 0 0 0 312.3 264Z" fill="#e8cfd8"/>
</g>
<path d="M313.5 229.5l2 -1M316 228.2l0.9 -0.4M317.4 227.6l0.9 -0.5M318.7 226.9l1.7 -0.9M314.1 231.4l1.3 -0.6M315.8 230.6l1.1 -0.5M317.1 230l1 -0.5M318.6 229.3l2.4 -1.1M321.2 228.1l0.9 -0.4M322.7 227.5l1.6 -0.8M324.7 226.5l1.2 -0.5M326.3 225.8l0.1 0M315.4 233.5l0.9 -0.4M316.6 233l2.1 -0.9M319 232l2 -0.8M321.6 231l0.6 -0.3M315.4 235.7l2.2 -0.8M317.9 234.8l1.6 -0.6M320 234l2.2 -0.8M322.8 232.9l1.6 -0.6M324.8 232.2l0 0M316.2 238.2l1.5 -0.5M318.2 237.5l2.4 -0.8M321.1 236.6l1.7 -0.6M323.1 235.9l1 -0.3M324.4 235.4l1.1 -0.4M317.4 240.4l2 -0.6M319.9 239.7l2.1 -0.6M322.3 238.9l2 -0.6M324.7 238.2l1.7 -0.5M326.8 237.6l2 -0.6M329.2 236.9l0.2 -0.1M317.9 243l1.3 -0.3M319.6 242.6l1.6 -0.4M321.8 242l1.9 -0.5M324.2 241.4l0.5 -0.1M318.2 245.5l2.3 -0.5M321 244.9l2 -0.4M323.6 244.4l2.5 -0.5M326.5 243.7l1.8 -0.4M328.6 243.3l2.1 -0.5M318.9 247.6l2.1 -0.4M321.3 247.2l2.2 -0.4M324 246.7l2 -0.4M326.4 246.2l1.9 -0.4M328.8 245.8l1.8 -0.3M319 249.6l2 -0.3M321.3 249.2l2 -0.3M323.8 248.8l1 -0.1M325.2 248.6l1.3 -0.2M326.7 248.4l0.3 0" fill="none" stroke="#555" stroke-width="1.98" stroke-dasharray="none" stroke-opacity="0.7"/>
<path d="M319.1 265.6l1.7 0.1M321.2 265.8l1.9 0.2M323.6 266l1.3 0.1M325.4 266.1l0 0M319 267.5l2.3 0.3M321.7 267.8l1 0.1M323.1 268l1.1 0.1M324.6 268.1l1.2 0.1M319 270l2.3 0.3M321.7 270.4l1.5 0.2M323.5 270.7l1.9 0.3M325.9 271.1l0.7 0.1M319.2 271.6l0.9 0.2M320.4 271.8l1.8 0.3M322.7 272.2l1.1 0.2M324.3 272.4l1.6 0.3M318.4 273.1l2.5 0.5M321.3 273.7l2.5 0.5M324.3 274.3l0.4 0.1M318.1 275.5l1.4 0.3M320.1 275.9l1.7 0.4M322.1 276.4l1.7 0.4M324 276.9l0.8 0.2M318.2 276.7l0.9 0.2M319.5 277l1.3 0.3M321.4 277.5l2.2 0.5M323.9 278.1l1.3 0.3M325.5 278.5l0 0M317.5 278.7l1.9 0.5M319.9 279.4l1.1 0.3M321.4 279.8l1.4 0.4M323.2 280.3l1 0.3M316.8 280.3l2.1 0.6M319.3 281.1l0.9 0.3M320.6 281.5l1.6 0.5M322.7 282.2l0.7 0.2M316.5 281.6l1.8 0.6M318.8 282.4l1.9 0.6M321 283.1l2.3 0.8M315.7 283.7l1.3 0.5M317.5 284.3l0.9 0.3M318.9 284.9l2 0.7M321.3 285.7l1.3 0.5M315.1 286l1.7 0.7M317.2 286.8l1.4 0.6M318.8 287.5l1.8 0.7M315.1 287l2.1 0.9M317.6 288.1l0.9 0.4M318.9 288.6l2.1 0.9M314.2 289.3l1.2 0.5M315.7 290l2.3 1.1M318.5 291.3l1 0.5M313.2 291.1l1.4 0.7M314.9 291.9l1.7 0.9M316.8 292.9l1 0.5M318.2 293.6l0.6 0.3M312.7 292.5l1 0.5M314.1 293.2l1.3 0.7M315.8 294.1l1.5 0.8M317.8 295.2l1.4 0.7" fill="none" stroke="#555" stroke-width="1.51" stroke-dasharray="none" stroke-opacity="0.7"/>
<path d="M350 257.1A68.6 71.9 0 0 1 444.5 195.4L442.3 200.8A62.8 66.1 0 0 0 355.7 257.5Z" fill="#c0a8c0"/>
<path d="M445.2 195.7A68.6 71.9 0 0 1 483.8 240L478.2 241.8A62.8 66.1 0 0 0 442.9 201.1Z" fill="#707870"/>
<path d="M483.3 285.2A68.6 71.9 0 0 1 445.2 328.1L442.9 322.7A62.8 66.1 0 0 0 477.8 283.3Z" fill="#c03020"/>
<path d="M444.3 328.5A68.6 71.9 0 0 1 350.2 269.7L356 269A62.8 66.1 0 0 0 442.1 323.1Z" fill="#982a98"/>
<path d="M356.6 257.6A61.9 65.2 0 0 1 442 201.6Q418.4 261.9 442.2 322.1A61.9 65.2 0 0 1 356.9 268.9Q418.4 261.9 356.6 257.6Z" fill="#c88abf"/>
<path d="M442 201.6A61.9 65.2 0 0 1 477.4 242.1Q418.4 261.9 477 283A61.9 65.2 0 0 1 442.2 322.1Q418.4 261.9 442 201.6Z" fill="#e0a090"/>
<path d="M442.3 201Q418.4 261.9 442.5 322.7" fill="none" stroke="#fff" stroke-width="0.9"/>
<g fill-opacity="0.04" stroke-opacity="0.5" stroke-width="0.25">
<path d="M477.4 242.1A61.9 65.2 0 0 1 477.7 243.2Q418.4 261.9 477.3 282A61.9 65.2 0 0 1 477 283Q418.4 261.9 477.4 242.1Z" fill="#7a8494" stroke="#7a8494"/>
<path d="M477.7 243.2A61.9 65.2 0 0 1 478 244.4Q418.4 261.9 477.6 280.9A61.9 65.2 0 0 1 477.3 282Q418.4 261.9 477.7 243.2Z" fill="#e8e0a8" stroke="#e8e0a8"/>
<path d="M478 244.4A61.9 65.2 0 0 1 478.3 245.6Q418.4 261.9 477.9 279.9A61.9 65.2 0 0 1 477.6 280.9Q418.4 261.9 478 244.4Z" fill="#cfcfd4" stroke="#cfcfd4"/>
<path d="M478.3 245.6A61.9 65.2 0 0 1 478.6 246.7Q418.4 261.9 478.2 278.9A61.9 65.2 0 0 1 477.9 279.9Q418.4 261.9 478.3 245.6Z" fill="#d6e6d0" stroke="#d6e6d0"/>
<path d="M478.6 246.7A61.9 65.2 0 0 1 478.8 247.8Q418.4 261.9 478.4 277.9A61.9 65.2 0 0 1 478.2 278.9Q418.4 261.9 478.6 246.7Z" fill="#c9c2dc" stroke="#c9c2dc"/>
<path d="M478.8 247.8A61.9 65.2 0 0 1 479.1 249Q418.4 261.9 478.6 276.9A61.9 65.2 0 0 1 478.4 277.9Q418.4 261.9 478.8 247.8Z" fill="#cfcfd4" stroke="#cfcfd4"/>
<path d="M479.1 249A61.9 65.2 0 0 1 479.3 250Q418.4 261.9 478.9 275.9A61.9 65.2 0 0 1 478.6 276.9Q418.4 261.9 479.1 249Z" fill="#c9c2dc" stroke="#c9c2dc"/>
<path d="M479.3 250A61.9 65.2 0 0 1 479.4 251.1Q418.4 261.9 479 274.9A61.9 65.2 0 0 1 478.9 275.9Q418.4 261.9 479.3 250Z" fill="#d6e6d0" stroke="#d6e6d0"/>
<path d="M479.4 251.1A61.9 65.2 0 0 1 479.6 251.9Q418.4 261.9 479.2 274.1A61.9 65.2 0 0 1 479 274.9Q418.4 261.9 479.4 251.1Z" fill="#dcd8d0" stroke="#dcd8d0"/>
<path d="M479.6 251.9A61.9 65.2 0 0 1 479.7 252.8Q418.4 261.9 479.4 273.2A61.9 65.2 0 0 1 479.2 274.1Q418.4 261.9 479.6 251.9Z" fill="#e8cfd8" stroke="#e8cfd8"/>
<path d="M479.7 252.8A61.9 65.2 0 0 1 479.8 253.7Q418.4 261.9 479.5 272.5A61.9 65.2 0 0 1 479.4 273.2Q418.4 261.9 479.7 252.8Z" fill="#cfcfd4" stroke="#cfcfd4"/>
<path d="M479.8 253.7A61.9 65.2 0 0 1 479.9 254.6Q418.4 261.9 479.6 271.7A61.9 65.2 0 0 1 479.5 272.5Q418.4 261.9 479.8 253.7Z" fill="#c8d0cc" stroke="#c8d0cc"/>
<path d="M479.9 254.6A61.9 65.2 0 0 1 480 255.2Q418.4 261.9 479.7 271A61.9 65.2 0 0 1 479.6 271.7Q418.4 261.9 479.9 254.6Z" fill="#dcd8d0" stroke="#dcd8d0"/>
<path d="M480 255.2A61.9 65.2 0 0 1 480 255.9Q418.4 261.9 479.8 270.3A61.9 65.2 0 0 1 479.7 271Q418.4 261.9 480 255.2Z" fill="#cfcfd4" stroke="#cfcfd4"/>
<path d="M480 255.9A61.9 65.2 0 0 1 480.1 256.4Q418.4 261.9 479.9 269.7A61.9 65.2 0 0 1 479.8 270.3Q418.4 261.9 480 255.9Z" fill="#c4c4cc" stroke="#c4c4cc"/>
<path d="M480.1 256.4A61.9 65.2 0 0 1 480.1 256.8Q418.4 261.9 479.9 269.1A61.9 65.2 0 0 1 479.9 269.7Q418.4 261.9 480.1 256.4Z" fill="#c8d0cc" stroke="#c8d0cc"/>
</g><g fill-opacity="0.7">
<path d="M483.8 240.3A68.6 71.9 0 0 1 484.5 242.5L478.9 244.1A62.8 66.1 0 0 0 478.3 242.1Z" fill="#2a2a2a"/>
<path d="M484.6 242.9A68.6 71.9 0 0 1 485.1 245.1L479.5 246.4A62.8 66.1 0 0 0 479 244.4Z" fill="#e0c8b8"/>
<path d="M485.2 245.4A68.6 71.9 0 0 1 485.6 247.6L479.9 248.7A62.8 66.1 0 0 0 479.5 246.8Z" fill="#d9d9d9"/>
<path d="M485.7 247.9A68.6 71.9 0 0 1 486 249.9L480.3 250.8A62.8 66.1 0 0 0 480 249.1Z" fill="#c8d8c8"/>
<path d="M486.1 250.2A68.6 71.9 0 0 1 486.3 251.8L480.6 252.6A62.8 66.1 0 0 0 480.4 251.2Z" fill="#cfdfe8"/>
<path d="M486.4 252.2A68.6 71.9 0 0 1 486.6 253.7L480.8 254.4A62.8 66.1 0 0 0 480.6 253Z" fill="#dcd0e4"/>
<path d="M486.6 254.1A68.6 71.9 0 0 1 486.7 255.2L480.9 255.8A62.8 66.1 0 0 0 480.8 254.8Z" fill="#bfc7d6"/>
<path d="M486.7 255.6A68.6 71.9 0 0 1 486.8 256.2L481 256.7A62.8 66.1 0 0 0 481 256.1Z" fill="#e0c8b8"/>
<path d="M484 282.9A68.6 71.9 0 0 1 483.4 284.9L477.9 283A62.8 66.1 0 0 0 478.4 281.3Z" fill="#d8c8a0"/>
<path d="M484.6 280.7A68.6 71.9 0 0 1 484.1 282.6L478.5 280.9A62.8 66.1 0 0 0 479 279.2Z" fill="#e4e4ee"/>
<path d="M485.2 278.5A68.6 71.9 0 0 1 484.7 280.3L479.1 278.8A62.8 66.1 0 0 0 479.5 277.1Z" fill="#d0ecd8"/>
<path d="M485.6 276.3A68.6 71.9 0 0 1 485.2 278.1L479.6 276.8A62.8 66.1 0 0 0 479.9 275.2Z" fill="#dcd0e4"/>
<path d="M485.9 274.5A68.6 71.9 0 0 1 485.7 276L480 274.8A62.8 66.1 0 0 0 480.2 273.5Z" fill="#c9c2dc"/>
<path d="M486.2 272.8A68.6 71.9 0 0 1 486 274.1L480.3 273.1A62.8 66.1 0 0 0 480.5 271.9Z" fill="#e0c8b8"/>
<path d="M486.4 271.2A68.6 71.9 0 0 1 486.3 272.4L480.5 271.6A62.8 66.1 0 0 0 480.7 270.5Z" fill="#d9d9d9"/>
<path d="M486.6 269.9A68.6 71.9 0 0 1 486.5 270.9L480.7 270.1A62.8 66.1 0 0 0 480.8 269.2Z" fill="#cfdfe8"/>
</g>
<path d="M486.7 241.1l1 -0.3M488.2 240.6l1.7 -0.5M490.2 240l1.9 -0.6M492.5 239.3l1.2 -0.4M487.4 242.7l2 -0.6M489.6 242.1l2.1 -0.6M492 241.4l1.4 -0.4M494 240.9l0.2 -0.1M487.3 245.3l2.5 -0.6M490.1 244.7l1.6 -0.4M492.2 244.2l1.5 -0.4M494.3 243.6l0.8 -0.2M488.5 247.9l1.6 -0.3M490.7 247.5l2.2 -0.4M493.3 247l1.7 -0.3M495.5 246.5l1.6 -0.3M497.3 246.2l0.4 -0.1M488.2 249.8l0.9 -0.2M489.4 249.6l1.9 -0.3M491.7 249.2l1.3 -0.2M493.4 249l2.4 -0.4M496.2 248.5l1.6 -0.3M488.8 252.2l1.7 -0.2M490.8 251.9l1.5 -0.2M492.7 251.6l2.2 -0.3M495.3 251.3l0.8 -0.1M489.2 254.7l1.4 -0.1M491 254.5l1.7 -0.2M493.3 254.3l2.5 -0.3M496.1 254l0.9 -0.1" fill="none" stroke="#555" stroke-width="1.86" stroke-dasharray="none" stroke-opacity="0.7"/>
<path d="M489.1 271.2l1.1 0.1M490.7 271.4l1.5 0.2M492.8 271.7l1.4 0.2M488.7 273.2l1.6 0.3M490.8 273.5l2.3 0.4M493.5 274l1.7 0.3M495.5 274.3l1 0.2M487.9 275.4l1.9 0.4M490.1 275.9l1.1 0.2M491.7 276.2l1.7 0.3M493.9 276.6l0.7 0.1M487.6 276.7l1.9 0.4M490.1 277.3l2.4 0.5M493 277.9l1.6 0.4M487.9 279.4l2.4 0.6M490.6 280.1l2.2 0.5M486.8 280.5l2.2 0.6M489.5 281.3l1.3 0.4M491.4 281.8l1 0.3M493 282.2l0.7 0.2M486.2 282.5l1 0.3M487.7 282.9l1.9 0.6M490.1 283.7l0.9 0.3M491.3 284l1.5 0.4M493 284.5l0.7 0.2M485.8 284.9l1 0.3M487.3 285.4l1 0.4M488.7 285.9l1.6 0.5M490.7 286.5l1 0.3M492 287l0.6 0.2" fill="none" stroke="#555" stroke-width="1.55" stroke-dasharray="none" stroke-opacity="0.7"/>
<g fill-opacity="0.5" stroke-opacity="0.16" stroke-width="0.3">
<path d="M44.1 410.8A58.9 62.1 0 0 1 44.4 410.5Q87 453.2 112.6 509.2A58.9 62.1 0 0 1 112.3 509.4Q87 453.2 44.1 410.8Z" fill="#1a1a1a" stroke="#1a1a1a"/>
<path d="M30.5 436.2A58.9 62.1 0 0 1 30.5 436Q87 453.2 72.1 513.4A58.9 62.1 0 0 1 72 513.3Q87 453.2 30.5 436.2Z" fill="#5a5058" stroke="#5a5058"/>
<path d="M98 392.2A58.9 62.1 0 0 1 99.8 392.6Q87 453.2 38.9 489A58.9 62.1 0 0 1 38 487.6Q87 453.2 98 392.2Z" fill="#2a3536" stroke="#2a3536"/>
<path d="M43.4 411.6A58.9 62.1 0 0 1 44.1 410.8Q87 453.2 91.2 515.2A58.9 62.1 0 0 1 90.2 515.3Q87 453.2 43.4 411.6Z" fill="#a6dca0" stroke="#a6dca0"/>
<path d="M133.3 414.9A58.9 62.1 0 0 1 134.2 416Q87 453.2 81.7 515.1A58.9 62.1 0 0 1 80.6 515Q87 453.2 133.3 414.9Z" fill="#5a5058" stroke="#5a5058"/>
<path d="M31.2 433.8A58.9 62.1 0 0 1 31.3 433.3Q87 453.2 134.1 490.7A58.9 62.1 0 0 1 133.8 491Q87 453.2 31.2 433.8Z" fill="#2a2a2a" stroke="#2a2a2a"/>
<path d="M36.7 421A58.9 62.1 0 0 1 37.1 420.3Q87 453.2 109.4 510.8A58.9 62.1 0 0 1 108.7 511Q87 453.2 36.7 421Z" fill="#6a5a20" stroke="#6a5a20"/>
<path d="M105.7 394.3A58.9 62.1 0 0 1 106.7 394.7Q87 453.2 39.4 489.8A58.9 62.1 0 0 1 38.9 489Q87 453.2 105.7 394.3Z" fill="#2a3536" stroke="#2a3536"/>
<path d="M111.4 396.7A58.9 62.1 0 0 1 113.3 397.6Q87 453.2 57.6 507.1A58.9 62.1 0 0 1 56 506Q87 453.2 111.4 396.7Z" fill="#0a0a0a" stroke="#0a0a0a"/>
<path d="M53.7 402A58.9 62.1 0 0 1 55.2 401Q87 453.2 102.8 513.1A58.9 62.1 0 0 1 101.3 513.6Q87 453.2 53.7 402Z" fill="#5a5ab0" stroke="#5a5ab0"/>
<path d="M31.6 432.3A58.9 62.1 0 0 1 32.7 429.5Q87 453.2 31.7 474.3A58.9 62.1 0 0 1 30.9 471.8Q87 453.2 31.6 432.3Z" fill="#2a3536" stroke="#2a3536"/>
<path d="M67.6 394.6A58.9 62.1 0 0 1 69.1 394Q87 453.2 92.6 515.1A58.9 62.1 0 0 1 91.2 515.2Q87 453.2 67.6 394.6Z" fill="#a6dca0" stroke="#a6dca0"/>
<path d="M60.9 397.6A58.9 62.1 0 0 1 61.9 397.1Q87 453.2 76.3 514.4A58.9 62.1 0 0 1 75.4 514.2Q87 453.2 60.9 397.6Z" fill="#5a5058" stroke="#5a5058"/>
<path d="M30.5 436A58.9 62.1 0 0 1 30.8 434.9Q87 453.2 108.7 511A58.9 62.1 0 0 1 107.9 511.4Q87 453.2 30.5 436Z" fill="#6a5a20" stroke="#6a5a20"/>
<path d="M55.9 400.5A58.9 62.1 0 0 1 59.4 398.4Q87 453.2 34.4 481.1A58.9 62.1 0 0 1 32.9 477.6Q87 453.2 55.9 400.5Z" fill="#2a3536" stroke="#2a3536"/>
<path d="M34.2 425.8A58.9 62.1 0 0 1 36 422.3Q87 453.2 75.4 514.2A58.9 62.1 0 0 1 72.1 513.4Q87 453.2 34.2 425.8Z" fill="#5a5058" stroke="#5a5058"/>
<path d="M127 407.6A58.9 62.1 0 0 1 127.1 407.7Q87 453.2 113.9 508.6A58.9 62.1 0 0 1 113.7 508.6Q87 453.2 127 407.6Z" fill="#1a1a1a" stroke="#1a1a1a"/>
<path d="M50.8 404.3A58.9 62.1 0 0 1 53.7 402Q87 453.2 49.7 501.3A58.9 62.1 0 0 1 47.3 499.1Q87 453.2 50.8 404.3Z" fill="#0a0a0a" stroke="#0a0a0a"/>
<path d="M28.2 455.5A58.9 62.1 0 0 1 28.2 452.6Q87 453.2 30.1 469A58.9 62.1 0 0 1 29.6 466.5Q87 453.2 28.2 455.5Z" fill="#2a3536" stroke="#2a3536"/>
<path d="M135.1 417.4A58.9 62.1 0 0 1 135.2 417.6Q87 453.2 114 508.5A58.9 62.1 0 0 1 113.9 508.6Q87 453.2 135.1 417.4Z" fill="#1a1a1a" stroke="#1a1a1a"/>
<path d="M30.8 434.9A58.9 62.1 0 0 1 30.8 434.9Q87 453.2 122.6 502.8A58.9 62.1 0 0 1 122.5 502.8Q87 453.2 30.8 434.9Z" fill="#7a6a70" stroke="#7a6a70"/>
<path d="M128.7 409.3A58.9 62.1 0 0 1 129.3 410Q87 453.2 80.6 515A58.9 62.1 0 0 1 79.8 514.9Q87 453.2 128.7 409.3Z" fill="#5a5058" stroke="#5a5058"/>
<path d="M33.2 428.2A58.9 62.1 0 0 1 33.3 427.9Q87 453.2 112.3 509.4A58.9 62.1 0 0 1 112 509.5Q87 453.2 33.2 428.2Z" fill="#1a1a1a" stroke="#1a1a1a"/>
<path d="M61.9 397.1A58.9 62.1 0 0 1 65 395.6Q87 453.2 124.9 500.8A58.9 62.1 0 0 1 122.6 502.8Q87 453.2 61.9 397.1Z" fill="#7a6a70" stroke="#7a6a70"/>
<path d="M65.8 395.3A58.9 62.1 0 0 1 67.6 394.6Q87 453.2 35.2 482.6A58.9 62.1 0 0 1 34.4 481.1Q87 453.2 65.8 395.3Z" fill="#2a3536" stroke="#2a3536"/>
<path d="M118.5 400.7A58.9 62.1 0 0 1 121.7 403Q87 453.2 43.4 495A58.9 62.1 0 0 1 41.2 492.2Q87 453.2 118.5 400.7Z" fill="#2a3536" stroke="#2a3536"/>
<path d="M114.1 398A58.9 62.1 0 0 1 114.9 398.5Q87 453.2 41.2 492.2A58.9 62.1 0 0 1 40.7 491.5Q87 453.2 114.1 398Z" fill="#2a3536" stroke="#2a3536"/>
<path d="M129.3 410A58.9 62.1 0 0 1 130.6 411.5Q87 453.2 127.6 498.3A58.9 62.1 0 0 1 126.3 499.5Q87 453.2 129.3 410Z" fill="#5ac040" stroke="#5ac040"/>
<path d="M86.1 391.1A58.9 62.1 0 0 1 88.7 391.1Q87 453.2 52.2 503.3A58.9 62.1 0 0 1 50.4 501.9Q87 453.2 86.1 391.1Z" fill="#0a0a0a" stroke="#0a0a0a"/>
<path d="M46 408.7A58.9 62.1 0 0 1 46.8 407.9Q87 453.2 32.9 477.6A58.9 62.1 0 0 1 32.5 476.7Q87 453.2 46 408.7Z" fill="#2a3536" stroke="#2a3536"/>
<path d="M32.7 429.5A58.9 62.1 0 0 1 33.2 428.2Q87 453.2 47.3 499.1A58.9 62.1 0 0 1 46.5 498.3Q87 453.2 32.7 429.5Z" fill="#0a0a0a" stroke="#0a0a0a"/>
<path d="M28.2 452.6A58.9 62.1 0 0 1 29 442.8Q87 453.2 68.4 512.2A58.9 62.1 0 0 1 60.9 508.9Q87 453.2 28.2 452.6Z" fill="#2a0f24" stroke="#2a0f24"/>
<path d="M85 391.1A58.9 62.1 0 0 1 86.1 391.1Q87 453.2 37.4 486.6A58.9 62.1 0 0 1 36.9 485.8Q87 453.2 85 391.1Z" fill="#2a3536" stroke="#2a3536"/>
<path d="M125.7 406.4A58.9 62.1 0 0 1 127 407.6Q87 453.2 44.4 496.1A58.9 62.1 0 0 1 43.4 495Q87 453.2 125.7 406.4Z" fill="#2a3536" stroke="#2a3536"/>
<path d="M80.3 391.5A58.9 62.1 0 0 1 84.2 391.2Q87 453.2 36.9 485.8A58.9 62.1 0 0 1 35.2 482.6Q87 453.2 80.3 391.5Z" fill="#2a3536" stroke="#2a3536"/>
<path d="M135.2 417.6A58.9 62.1 0 0 1 136 418.8Q87 453.2 117.5 506.5A58.9 62.1 0 0 1 116.4 507.1Q87 453.2 135.2 417.6Z" fill="#8ab0d0" stroke="#8ab0d0"/>
<path d="M41.6 413.8A58.9 62.1 0 0 1 43.4 411.6Q87 453.2 32.5 476.7A58.9 62.1 0 0 1 31.7 474.3Q87 453.2 41.6 413.8Z" fill="#2a3536" stroke="#2a3536"/>
<path d="M89.5 391.2A58.9 62.1 0 0 1 90.7 391.2Q87 453.2 38 487.6A58.9 62.1 0 0 1 37.4 486.6Q87 453.2 89.5 391.2Z" fill="#2a3536" stroke="#2a3536"/>
<path d="M46.8 407.9A58.9 62.1 0 0 1 48.7 406.1Q87 453.2 120.8 504.1A58.9 62.1 0 0 1 119 505.4Q87 453.2 46.8 407.9Z" fill="#8a8a70" stroke="#8a8a70"/>
<path d="M44.4 410.5A58.9 62.1 0 0 1 45.4 409.3Q87 453.2 129.1 496.7A58.9 62.1 0 0 1 128.2 497.7Q87 453.2 44.4 410.5Z" fill="#2a8a2a" stroke="#2a8a2a"/>
<path d="M75.5 392.3A58.9 62.1 0 0 1 79.5 391.6Q87 453.2 79.8 514.9A58.9 62.1 0 0 1 76.3 514.4Q87 453.2 75.5 392.3Z" fill="#5a5058" stroke="#5a5058"/>
<path d="M109.2 395.7A58.9 62.1 0 0 1 111.4 396.7Q87 453.2 40.7 491.5A58.9 62.1 0 0 1 39.4 489.8Q87 453.2 109.2 395.7Z" fill="#2a3536" stroke="#2a3536"/>
<path d="M36 422.3A58.9 62.1 0 0 1 36.7 421Q87 453.2 90.2 515.3A58.9 62.1 0 0 1 89 515.4Q87 453.2 36 422.3Z" fill="#a6dca0" stroke="#a6dca0"/>
<path d="M29.7 439.4A58.9 62.1 0 0 1 30.5 436.2Q87 453.2 30.9 471.8A58.9 62.1 0 0 1 30.1 469Q87 453.2 29.7 439.4Z" fill="#2a3536" stroke="#2a3536"/>
<path d="M90.7 391.2A58.9 62.1 0 0 1 91.7 391.3Q87 453.2 116.4 507.1A58.9 62.1 0 0 1 115.7 507.6Q87 453.2 90.7 391.2Z" fill="#8ab0d0" stroke="#8ab0d0"/>
<path d="M102 393.1A58.9 62.1 0 0 1 103.5 393.6Q87 453.2 94 515A58.9 62.1 0 0 1 92.6 515.1Q87 453.2 102 393.1Z" fill="#a6dca0" stroke="#a6dca0"/>
<path d="M122.3 403.5A58.9 62.1 0 0 1 125.1 405.8Q87 453.2 98 514.3A58.9 62.1 0 0 1 94.9 514.8Q87 453.2 122.3 403.5Z" fill="#0a0a0a" stroke="#0a0a0a"/>
<path d="M134.2 416A58.9 62.1 0 0 1 134.7 416.7Q87 453.2 107.1 511.7A58.9 62.1 0 0 1 106.4 512Q87 453.2 134.2 416Z" fill="#0a0a0a" stroke="#0a0a0a"/>
<path d="M103.5 393.6A58.9 62.1 0 0 1 104.9 394Q87 453.2 121.9 503.4A58.9 62.1 0 0 1 120.8 504.1Q87 453.2 103.5 393.6Z" fill="#8a8a70" stroke="#8a8a70"/>
<path d="M29 442.8A58.9 62.1 0 0 1 29.5 440.2Q87 453.2 101.3 513.6A58.9 62.1 0 0 1 99.2 514.1Q87 453.2 29 442.8Z" fill="#5a5ab0" stroke="#5a5ab0"/>
<path d="M40.6 415A58.9 62.1 0 0 1 41.1 414.5Q87 453.2 130.8 494.8A58.9 62.1 0 0 1 130.4 495.3Q87 453.2 40.6 415Z" fill="#8a2a4a" stroke="#8a2a4a"/>
<path d="M131.2 412.1A58.9 62.1 0 0 1 132.8 414.2Q87 453.2 106.4 512A58.9 62.1 0 0 1 104.3 512.7Q87 453.2 131.2 412.1Z" fill="#0a0a0a" stroke="#0a0a0a"/>
<path d="M114.9 398.5A58.9 62.1 0 0 1 117.8 400.2Q87 453.2 71.2 513.1A58.9 62.1 0 0 1 68.4 512.2Q87 453.2 114.9 398.5Z" fill="#2a0f24" stroke="#2a0f24"/>
<path d="M71.5 393.3A58.9 62.1 0 0 1 72.8 392.9Q87 453.2 131.6 493.9A58.9 62.1 0 0 1 130.8 494.8Q87 453.2 71.5 393.3Z" fill="#8a2a4a" stroke="#8a2a4a"/>
<path d="M30.8 434.9A58.9 62.1 0 0 1 31.2 433.8Q87 453.2 126.3 499.5A58.9 62.1 0 0 1 125.6 500.2Q87 453.2 30.8 434.9Z" fill="#5ac040" stroke="#5ac040"/>
<path d="M106.7 394.7A58.9 62.1 0 0 1 108.4 395.3Q87 453.2 56 506A58.9 62.1 0 0 1 54.6 505.1Q87 453.2 106.7 394.7Z" fill="#0a0a0a" stroke="#0a0a0a"/>
<path d="M99.8 392.6A58.9 62.1 0 0 1 101.2 392.9Q87 453.2 113.7 508.6A58.9 62.1 0 0 1 112.6 509.2Q87 453.2 99.8 392.6Z" fill="#1a1a1a" stroke="#1a1a1a"/>
<path d="M37.6 419.6A58.9 62.1 0 0 1 40.6 415Q87 453.2 88.2 515.4A58.9 62.1 0 0 1 83.6 515.3Q87 453.2 37.6 419.6Z" fill="#0a0a0a" stroke="#0a0a0a"/>
<path d="M59.4 398.4A58.9 62.1 0 0 1 60.1 398Q87 453.2 104.3 512.7A58.9 62.1 0 0 1 103.6 512.9Q87 453.2 59.4 398.4Z" fill="#0a0a0a" stroke="#0a0a0a"/>
<path d="M72.8 392.9A58.9 62.1 0 0 1 74.7 392.5Q87 453.2 133.3 491.6A58.9 62.1 0 0 1 132.3 493Q87 453.2 72.8 392.9Z" fill="#b06080" stroke="#b06080"/>
<path d="M93.8 391.5A58.9 62.1 0 0 1 97.2 392Q87 453.2 54.6 505.1A58.9 62.1 0 0 1 52.2 503.3Q87 453.2 93.8 391.5Z" fill="#0a0a0a" stroke="#0a0a0a"/>
<path d="M70.6 393.6A58.9 62.1 0 0 1 71.5 393.3Q87 453.2 50.4 501.9A58.9 62.1 0 0 1 49.7 501.3Q87 453.2 70.6 393.6Z" fill="#0a0a0a" stroke="#0a0a0a"/>
</g><g fill-opacity="0.14" stroke="#a8b0b4" stroke-opacity="0.28" stroke-width="0.2">
<path d="M138.7 423.5A58.9 62.1 0 0 1 139.3 424.6Q87 453.2 129.9 495.9A58.9 62.1 0 0 1 129.1 496.7Q87 453.2 138.7 423.5Z" fill="#c9c2dc"/>
<path d="M136.6 419.8A58.9 62.1 0 0 1 137.2 420.8Q87 453.2 110.3 510.3A58.9 62.1 0 0 1 109.4 510.8Q87 453.2 136.6 419.8Z" fill="#e0c8b8"/>
<path d="M145.8 450A58.9 62.1 0 0 1 145.9 451.2Q87 453.2 60.1 508.5A58.9 62.1 0 0 1 59.2 508Q87 453.2 145.8 450Z" fill="#e4e4ee"/>
<path d="M145.5 445.7A58.9 62.1 0 0 1 145.6 446.9Q87 453.2 136.5 487A58.9 62.1 0 0 1 135.9 487.9Q87 453.2 145.5 445.7Z" fill="#c9c2dc"/>
<path d="M142 430.9A58.9 62.1 0 0 1 142 431.1Q87 453.2 140 480.3A58.9 62.1 0 0 1 140 480.4Q87 453.2 142 430.9Z" fill="#cfdfe8"/>
<path d="M141.7 430.3A58.9 62.1 0 0 1 141.8 430.3Q87 453.2 114 508.5A58.9 62.1 0 0 1 114 508.5Q87 453.2 141.7 430.3Z" fill="#e9d9c4"/>
<path d="M141.8 430.3A58.9 62.1 0 0 1 141.8 430.4Q87 453.2 124.9 500.8A58.9 62.1 0 0 1 124.9 500.8Q87 453.2 141.8 430.3Z" fill="#e6e2b8"/>
<path d="M144.8 441.3A58.9 62.1 0 0 1 145 442.5Q87 453.2 45.2 496.9A58.9 62.1 0 0 1 44.4 496.1Q87 453.2 144.8 441.3Z" fill="#c8d8c8"/>
<path d="M145.1 442.8A58.9 62.1 0 0 1 145.2 444Q87 453.2 140.5 479.3A58.9 62.1 0 0 1 140 480.3Q87 453.2 145.1 442.8Z" fill="#d9d9d9"/>
<path d="M145.9 452.9A58.9 62.1 0 0 1 145.9 454.2Q87 453.2 134.7 489.8A58.9 62.1 0 0 1 134.1 490.7Q87 453.2 145.9 452.9Z" fill="#e4e4ee"/>
<path d="M143.1 434.3A58.9 62.1 0 0 1 143.4 435.4Q87 453.2 142 475.4A58.9 62.1 0 0 1 141.7 476.4Q87 453.2 143.1 434.3Z" fill="#d9d9d9"/>
<path d="M144.5 439.9A58.9 62.1 0 0 1 144.7 440.9Q87 453.2 59.2 508A58.9 62.1 0 0 1 58.5 507.6Q87 453.2 144.5 439.9Z" fill="#e6e2b8"/>
<path d="M145.8 449.2A58.9 62.1 0 0 1 145.8 449.6Q87 453.2 138.6 483.2A58.9 62.1 0 0 1 138.4 483.6Q87 453.2 145.8 449.2Z" fill="#cfdfe8"/>
<path d="M127.1 407.7A58.9 62.1 0 0 1 128.1 408.7Q87 453.2 141 478A58.9 62.1 0 0 1 140.6 479.1Q87 453.2 127.1 407.7Z" fill="#bfc7d6"/>
<path d="M136 418.8A58.9 62.1 0 0 1 136.1 418.9Q87 453.2 138.1 484.2A58.9 62.1 0 0 1 138 484.3Q87 453.2 136 418.8Z" fill="#e9d9c4"/>
<path d="M142.2 431.5A58.9 62.1 0 0 1 142.6 432.7Q87 453.2 144.5 466.8A58.9 62.1 0 0 1 144.2 467.9Q87 453.2 142.2 431.5Z" fill="#d6e6d0"/>
<path d="M141.7 430.2A58.9 62.1 0 0 1 141.7 430.3Q87 453.2 110.3 510.3A58.9 62.1 0 0 1 110.3 510.3Q87 453.2 141.7 430.2Z" fill="#dcd0e4"/>
<path d="M140 426.1A58.9 62.1 0 0 1 140.5 427.2Q87 453.2 118.3 505.9A58.9 62.1 0 0 1 117.5 506.5Q87 453.2 140 426.1Z" fill="#d0ecd8"/>
<path d="M141.9 430.6A58.9 62.1 0 0 1 141.9 430.8Q87 453.2 135.7 488.2A58.9 62.1 0 0 1 135.6 488.4Q87 453.2 141.9 430.6Z" fill="#c9c2dc"/>
<path d="M141.2 428.8A58.9 62.1 0 0 1 141.6 429.9Q87 453.2 143.4 471.2A58.9 62.1 0 0 1 143.1 472.3Q87 453.2 141.2 428.8Z" fill="#d9d9d9"/>
<path d="M144.7 440.9A58.9 62.1 0 0 1 144.7 440.9Q87 453.2 125 500.8A58.9 62.1 0 0 1 124.9 500.8Q87 453.2 144.7 440.9Z" fill="#d6e6d0"/>
<path d="M31.3 433.3A58.9 62.1 0 0 1 31.4 433.1Q87 453.2 138.8 482.9A58.9 62.1 0 0 1 138.7 483Q87 453.2 31.3 433.3Z" fill="#d0ecd8"/>
<path d="M136.1 418.9A58.9 62.1 0 0 1 136.2 419.1Q87 453.2 142.7 473.5A58.9 62.1 0 0 1 142.6 473.7Q87 453.2 136.1 418.9Z" fill="#e4e4ee"/>
<path d="M144.7 440.9A58.9 62.1 0 0 1 144.8 441.1Q87 453.2 142.1 475.3A58.9 62.1 0 0 1 142 475.4Q87 453.2 144.7 440.9Z" fill="#e0c8b8"/>
<path d="M49.1 405.7A58.9 62.1 0 0 1 50.2 404.8Q87 453.2 142.6 473.9A58.9 62.1 0 0 1 142.2 475Q87 453.2 49.1 405.7Z" fill="#e6e2b8"/>
<path d="M142.6 432.9A58.9 62.1 0 0 1 143 434Q87 453.2 144.1 468.4A58.9 62.1 0 0 1 143.9 469.4Q87 453.2 142.6 432.9Z" fill="#bfc7d6"/>
<path d="M145.8 449A58.9 62.1 0 0 1 145.8 449.2Q87 453.2 137.2 485.8A58.9 62.1 0 0 1 137.1 485.9Q87 453.2 145.8 449Z" fill="#bfc7d6"/>
<path d="M145.8 449.6A58.9 62.1 0 0 1 145.8 449.8Q87 453.2 144.2 468.3A58.9 62.1 0 0 1 144.1 468.4Q87 453.2 145.8 449.6Z" fill="#cfdfe8"/>
<path d="M140.6 427.5A58.9 62.1 0 0 1 141.1 428.6Q87 453.2 58.5 507.6A58.9 62.1 0 0 1 57.6 507.1Q87 453.2 140.6 427.5Z" fill="#dcd0e4"/>
<path d="M143.5 435.7A58.9 62.1 0 0 1 143.8 436.8Q87 453.2 111.3 509.9A58.9 62.1 0 0 1 110.3 510.3Q87 453.2 143.5 435.7Z" fill="#bfc7d6"/>
<path d="M145.6 447.1A58.9 62.1 0 0 1 145.7 448.3Q87 453.2 137.1 485.9A58.9 62.1 0 0 1 136.6 486.8Q87 453.2 145.6 447.1Z" fill="#d9d9d9"/>
<path d="M145.9 454.4A58.9 62.1 0 0 1 145.9 455.6Q87 453.2 45.9 497.7A58.9 62.1 0 0 1 45.2 496.9Q87 453.2 145.9 454.4Z" fill="#d0ecd8"/>
<path d="M141.9 430.8A58.9 62.1 0 0 1 142 430.9Q87 453.2 135.9 487.9A58.9 62.1 0 0 1 135.8 488Q87 453.2 141.9 430.8Z" fill="#d0ecd8"/>
<path d="M141.7 430.1A58.9 62.1 0 0 1 141.7 430.2Q87 453.2 94.1 514.9A58.9 62.1 0 0 1 94 515Q87 453.2 141.7 430.1Z" fill="#e8cfd8"/>
<path d="M48.7 406.1A58.9 62.1 0 0 1 49.1 405.7Q87 453.2 141.3 477.2A58.9 62.1 0 0 1 141.1 477.8Q87 453.2 48.7 406.1Z" fill="#e8cfd8"/>
<path d="M145.7 448.6A58.9 62.1 0 0 1 145.8 449Q87 453.2 98.4 514.2A58.9 62.1 0 0 1 98 514.3Q87 453.2 145.7 448.6Z" fill="#d6e6d0"/>
<path d="M138.1 422.3A58.9 62.1 0 0 1 138.6 423.3Q87 453.2 139.3 481.9A58.9 62.1 0 0 1 138.8 482.9Q87 453.2 138.1 422.3Z" fill="#e4e4ee"/>
<path d="M139.4 424.8A58.9 62.1 0 0 1 139.5 425.1Q87 453.2 138.2 484A58.9 62.1 0 0 1 138.1 484.2Q87 453.2 139.4 424.8Z" fill="#e4e4ee"/>
<path d="M145.3 444.2A58.9 62.1 0 0 1 145.4 445.4Q87 453.2 82.7 515.2A58.9 62.1 0 0 1 81.7 515.1Q87 453.2 145.3 444.2Z" fill="#d0ecd8"/>
<path d="M144 437.6A58.9 62.1 0 0 1 144.2 438.2Q87 453.2 143.8 469.7A58.9 62.1 0 0 1 143.7 470.2Q87 453.2 144 437.6Z" fill="#e9d9c4"/>
<path d="M137.4 421A58.9 62.1 0 0 1 138 422.1Q87 453.2 135.6 488.4A58.9 62.1 0 0 1 135 489.3Q87 453.2 137.4 421Z" fill="#e6e2b8"/>
<path d="M143.9 437.1A58.9 62.1 0 0 1 144 437.6Q87 453.2 138.4 483.6A58.9 62.1 0 0 1 138.2 484Q87 453.2 143.9 437.1Z" fill="#e9d9c4"/>
<path d="M91.7 391.3A58.9 62.1 0 0 1 93 391.4Q87 453.2 137.9 484.5A58.9 62.1 0 0 1 137.3 485.6Q87 453.2 91.7 391.3Z" fill="#d9d9d9"/>
<path d="M142 431.1A58.9 62.1 0 0 1 142.1 431.3Q87 453.2 143.4 471.1A58.9 62.1 0 0 1 143.4 471.2Q87 453.2 142 431.1Z" fill="#dcd0e4"/>
<path d="M69.1 394A58.9 62.1 0 0 1 69.8 393.8Q87 453.2 143.7 470.2A58.9 62.1 0 0 1 143.5 470.9Q87 453.2 69.1 394Z" fill="#e4e4ee"/>
<path d="M144.2 438.5A58.9 62.1 0 0 1 144.5 439.7Q87 453.2 115 508A58.9 62.1 0 0 1 114 508.5Q87 453.2 144.2 438.5Z" fill="#d9d9d9"/>
<path d="M139.8 425.8A58.9 62.1 0 0 1 139.9 425.9Q87 453.2 144.2 467.9A58.9 62.1 0 0 1 144.2 468Q87 453.2 139.8 425.8Z" fill="#d0ecd8"/>
<path d="M141.8 430.4A58.9 62.1 0 0 1 141.9 430.6Q87 453.2 131.7 493.7A58.9 62.1 0 0 1 131.6 493.9Q87 453.2 141.8 430.4Z" fill="#e6e2b8"/>
<path d="M145.9 451.5A58.9 62.1 0 0 1 145.9 452.7Q87 453.2 143 472.5A58.9 62.1 0 0 1 142.7 473.5Q87 453.2 145.9 451.5Z" fill="#d0ecd8"/>
<path d="M33.3 427.9A58.9 62.1 0 0 1 33.9 426.6Q87 453.2 139.9 480.6A58.9 62.1 0 0 1 139.4 481.7Q87 453.2 33.3 427.9Z" fill="#e9d9c4"/>
<path d="M139.5 425.1A58.9 62.1 0 0 1 139.8 425.8Q87 453.2 141.6 476.6A58.9 62.1 0 0 1 141.3 477.2Q87 453.2 139.5 425.1Z" fill="#e6e2b8"/>
</g>
<path d="M22.6 455.7A64.5 67.8 0 0 1 24 439L28.5 440A59.9 63.1 0 0 0 27.2 455.6Z" fill="#e05a62"/>
<path d="M24.2 438.1A64.5 67.8 0 0 1 26.1 431.3L30.4 432.8A59.9 63.1 0 0 0 28.7 439.2Z" fill="#8a6a6a"/>
<path d="M26.4 430.4A64.5 67.8 0 0 1 28.8 424.2L33 426.2A59.9 63.1 0 0 0 30.7 432Z" fill="#7a6a9c"/>
<path d="M29.2 423.3A64.5 67.8 0 0 1 32.4 417.3L36.3 419.8A59.9 63.1 0 0 0 33.3 425.4Z" fill="#4e4e4e"/>
<path d="M32.9 416.5A64.5 67.8 0 0 1 36.7 411L40.3 413.9A59.9 63.1 0 0 0 36.7 419Z" fill="#b45a5a"/>
<path d="M37.2 410.2A64.5 67.8 0 0 1 41.5 405.3L44.7 408.6A59.9 63.1 0 0 0 40.8 413.2Z" fill="#1a0a1c"/>
<path d="M42.1 404.7A64.5 67.8 0 0 1 46.7 400.4L49.5 404A59.9 63.1 0 0 0 45.3 408Z" fill="#f0a6bc"/>
<path d="M47.4 399.9A64.5 67.8 0 0 1 52.1 396.3L54.6 400.2A59.9 63.1 0 0 0 50.2 403.5Z" fill="#0a0a0a"/>
<path d="M52.9 395.8A64.5 67.8 0 0 1 57.6 393L59.7 397.1A59.9 63.1 0 0 0 55.3 399.7Z" fill="#0c3a1c"/>
<path d="M58.4 392.6A64.5 67.8 0 0 1 62.9 390.4L64.6 394.7A59.9 63.1 0 0 0 60.4 396.7Z" fill="#e08c54"/>
<path d="M63.7 390.1A64.5 67.8 0 0 1 68.2 388.5L69.6 392.9A59.9 63.1 0 0 0 65.4 394.4Z" fill="#dcdcf2"/>
<path d="M69.1 388.2A64.5 67.8 0 0 1 73.5 387L74.5 391.5A59.9 63.1 0 0 0 70.4 392.6Z" fill="#dcbcc4"/>
<path d="M74.4 386.8A64.5 67.8 0 0 1 78.7 386.1L79.3 390.6A59.9 63.1 0 0 0 75.3 391.3Z" fill="#5a0a4c"/>
<path d="M79.6 385.9A64.5 67.8 0 0 1 83.9 385.6L84.1 390.2A59.9 63.1 0 0 0 80.2 390.5Z" fill="#8c4cac"/>
<path d="M84.8 385.5A64.5 67.8 0 0 1 88.8 385.5L88.7 390.1A59.9 63.1 0 0 0 85 390.1Z" fill="#0c3a3c"/>
<path d="M89.7 385.6A64.5 67.8 0 0 1 93.6 385.8L93.1 390.4A59.9 63.1 0 0 0 89.6 390.2Z" fill="#2a2a10"/>
<path d="M94.5 385.9A64.5 67.8 0 0 1 98.1 386.5L97.3 391A59.9 63.1 0 0 0 93.9 390.5Z" fill="#8a8a8a"/>
<path d="M99 386.7A64.5 67.8 0 0 1 102.5 387.5L101.4 391.9A59.9 63.1 0 0 0 98.2 391.2Z" fill="#3a4020"/>
<path d="M103.4 387.7A64.5 67.8 0 0 1 106.6 388.7L105.2 393.1A59.9 63.1 0 0 0 102.2 392.2Z" fill="#3a3a5a"/>
<path d="M107.5 389A64.5 67.8 0 0 1 110.5 390.1L108.8 394.4A59.9 63.1 0 0 0 106 393.4Z" fill="#3a2a5a"/>
<path d="M111.3 390.5A64.5 67.8 0 0 1 115.8 392.6L113.8 396.8A59.9 63.1 0 0 0 109.6 394.7Z" fill="#1a3a1a"/>
<path d="M116.7 393.1A64.5 67.8 0 0 1 120.7 395.5L118.3 399.4A59.9 63.1 0 0 0 114.5 397.2Z" fill="#b8d0e8"/>
<path d="M121.4 396A64.5 67.8 0 0 1 125 398.5L122.3 402.2A59.9 63.1 0 0 0 119 399.8Z" fill="#60c0a0"/>
<path d="M125.7 399A64.5 67.8 0 0 1 128.7 401.6L125.7 405.1A59.9 63.1 0 0 0 122.9 402.7Z" fill="#d0d8e0"/>
<path d="M129.4 402.2A64.5 67.8 0 0 1 132 404.7L128.8 408A59.9 63.1 0 0 0 126.4 405.7Z" fill="#4a1a5a"/>
<path d="M132.6 405.3A64.5 67.8 0 0 1 134.8 407.7L131.4 410.8A59.9 63.1 0 0 0 129.4 408.6Z" fill="#309090"/>
<path d="M135.4 408.4A64.5 67.8 0 0 1 137.2 410.7L133.6 413.6A59.9 63.1 0 0 0 131.9 411.5Z" fill="#3a1a4a"/>
<path d="M137.7 411.4A64.5 67.8 0 0 1 139.2 413.4L135.5 416.1A59.9 63.1 0 0 0 134.1 414.3Z" fill="#8a4aaa"/>
<path d="M139.7 414.2A64.5 67.8 0 0 1 140.9 416L137 418.5A59.9 63.1 0 0 0 136 416.8Z" fill="#2a2a2a"/>
<path d="M141.3 416.7A64.5 67.8 0 0 1 142 417.9L138.1 420.3A59.9 63.1 0 0 0 137.5 419.2Z" fill="#dfe8df"/>
<path d="M142.1 418.1A64.5 67.8 0 0 1 142.8 419.2L138.8 421.6A59.9 63.1 0 0 0 138.2 420.5Z" fill="#eae4f0"/>
<path d="M142.9 419.5A64.5 67.8 0 0 1 143.5 420.6L139.5 422.8A59.9 63.1 0 0 0 138.9 421.8Z" fill="#dfe8df"/>
<path d="M143.7 420.9A64.5 67.8 0 0 1 144.3 422L140.2 424.2A59.9 63.1 0 0 0 139.6 423.1Z" fill="#dfe8df"/>
<path d="M144.4 422.3A64.5 67.8 0 0 1 144.9 423.5L140.8 425.5A59.9 63.1 0 0 0 140.3 424.4Z" fill="#eae4f0"/>
<path d="M145 423.7A64.5 67.8 0 0 1 145.6 424.9L141.4 426.8A59.9 63.1 0 0 0 140.9 425.7Z" fill="#dde2ea"/>
<path d="M145.7 425.1A64.5 67.8 0 0 1 146.2 426.4L142 428.2A59.9 63.1 0 0 0 141.5 427Z" fill="#e2ecf2"/>
<path d="M146.3 426.6A64.5 67.8 0 0 1 146.8 427.8L142.5 429.5A59.9 63.1 0 0 0 142.1 428.4Z" fill="#f0e8dc"/>
<path d="M146.9 428.1A64.5 67.8 0 0 1 147.3 429.3L143 430.9A59.9 63.1 0 0 0 142.6 429.8Z" fill="#eae4f0"/>
<path d="M147.4 429.5A64.5 67.8 0 0 1 147.9 430.8L143.5 432.3A59.9 63.1 0 0 0 143.1 431.2Z" fill="#dfe8df"/>
<path d="M147.9 431A64.5 67.8 0 0 1 148.3 432.3L144 433.7A59.9 63.1 0 0 0 143.6 432.5Z" fill="#f2f2f6"/>
<path d="M148.4 432.5A64.5 67.8 0 0 1 148.8 433.8L144.4 435.1A59.9 63.1 0 0 0 144 434Z" fill="#dde2ea"/>
<path d="M148.9 434.1A64.5 67.8 0 0 1 149.2 435.4L144.8 436.6A59.9 63.1 0 0 0 144.5 435.4Z" fill="#f0e8dc"/>
<path d="M149.3 435.6A64.5 67.8 0 0 1 149.6 436.9L145.1 438A59.9 63.1 0 0 0 144.8 436.8Z" fill="#e6f0e2"/>
<path d="M149.7 437.1A64.5 67.8 0 0 1 149.9 438.4L145.5 439.4A59.9 63.1 0 0 0 145.2 438.2Z" fill="#dfe8df"/>
<path d="M150 438.7A64.5 67.8 0 0 1 150.3 440L145.7 440.9A59.9 63.1 0 0 0 145.5 439.7Z" fill="#f0e2e8"/>
<path d="M150.3 440.3A64.5 67.8 0 0 1 150.5 441.6L146 442.4A59.9 63.1 0 0 0 145.8 441.1Z" fill="#f0e8dc"/>
<path d="M150.6 441.8A64.5 67.8 0 0 1 150.8 443.1L146.2 443.8A59.9 63.1 0 0 0 146 442.6Z" fill="#e6f0e2"/>
<path d="M150.8 443.4A64.5 67.8 0 0 1 151 444.7L146.4 445.3A59.9 63.1 0 0 0 146.3 444.1Z" fill="#eae4f0"/>
<path d="M151 445A64.5 67.8 0 0 1 151.2 446.3L146.6 446.8A59.9 63.1 0 0 0 146.5 445.5Z" fill="#e2f2e8"/>
<path d="M151.2 446.5A64.5 67.8 0 0 1 151.3 447.9L146.7 448.2A59.9 63.1 0 0 0 146.6 447Z" fill="#f2f2f6"/>
<path d="M151.3 448.1A64.5 67.8 0 0 1 151.4 449.5L146.8 449.7A59.9 63.1 0 0 0 146.7 448.5Z" fill="#e4e0ee"/>
<path d="M151.4 449.7A64.5 67.8 0 0 1 151.5 451.1L146.9 451.2A59.9 63.1 0 0 0 146.8 450Z" fill="#dde2ea"/>
<path d="M151.5 451.3A64.5 67.8 0 0 1 151.5 452.6L146.9 452.7A59.9 63.1 0 0 0 146.9 451.4Z" fill="#eeecd4"/>
<path d="M151.5 452.9A64.5 67.8 0 0 1 151.5 454.2L146.9 454.2A59.9 63.1 0 0 0 146.9 452.9Z" fill="#dfe8df"/>
<path d="M151.5 454.5A64.5 67.8 0 0 1 151.5 455.8L146.9 455.7A59.9 63.1 0 0 0 146.9 454.4Z" fill="#f2f2f6"/>
<path d="M42 501.7A64.5 67.8 0 0 1 24.1 467.7L28.6 466.7A59.9 63.1 0 0 0 45.2 498.4Z" fill="#2a3536"/>
<path d="M57.6 513.5A64.5 67.8 0 0 1 42.6 502.3L45.8 499A59.9 63.1 0 0 0 59.7 509.4Z" fill="#0a0a0a"/>
<path d="M69.7 518.5A64.5 67.8 0 0 1 58.4 513.9L60.4 509.8A59.9 63.1 0 0 0 71 514.1Z" fill="#2a0f24"/>
<path d="M82.3 520.8A64.5 67.8 0 0 1 70.6 518.8L71.8 514.3A59.9 63.1 0 0 0 82.7 516.2Z" fill="#5a5058"/>
<path d="M88.3 521A64.5 67.8 0 0 1 83.2 520.9L83.5 516.3A59.9 63.1 0 0 0 88.2 516.4Z" fill="#0a0a0a"/>
<path d="M94.8 520.5A64.5 67.8 0 0 1 89.2 521L89 516.4A59.9 63.1 0 0 0 94.2 515.9Z" fill="#a6dca0"/>
<path d="M99.5 519.7A64.5 67.8 0 0 1 95.7 520.4L95.1 515.8A59.9 63.1 0 0 0 98.6 515.2Z" fill="#0a0a0a"/>
<path d="M104.3 518.5A64.5 67.8 0 0 1 100.3 519.5L99.4 515A59.9 63.1 0 0 0 103 514.1Z" fill="#5a5ab0"/>
<path d="M109 517A64.5 67.8 0 0 1 105.1 518.3L103.8 513.9A59.9 63.1 0 0 0 107.4 512.6Z" fill="#0a0a0a"/>
<path d="M113.6 515A64.5 67.8 0 0 1 109.8 516.6L108.2 512.3A59.9 63.1 0 0 0 111.7 510.8Z" fill="#6a5a20"/>
<path d="M117.6 512.9A64.5 67.8 0 0 1 114.4 514.6L112.4 510.4A59.9 63.1 0 0 0 115.4 508.9Z" fill="#1a1a1a"/>
<path d="M121.3 510.6A64.5 67.8 0 0 1 118.4 512.4L116.2 508.4A59.9 63.1 0 0 0 118.9 506.7Z" fill="#8ab0d0"/>
<path d="M125.2 507.9A64.5 67.8 0 0 1 122.1 510.1L119.6 506.3A59.9 63.1 0 0 0 122.5 504.2Z" fill="#8a8a70"/>
<path d="M128.6 505.1A64.5 67.8 0 0 1 125.9 507.3L123.1 503.6A59.9 63.1 0 0 0 125.6 501.6Z" fill="#7a6a70"/>
<path d="M131.5 502.3A64.5 67.8 0 0 1 129.2 504.5L126.2 501A59.9 63.1 0 0 0 128.3 499Z" fill="#5ac040"/>
<path d="M133.9 499.7A64.5 67.8 0 0 1 132.1 501.7L128.9 498.4A59.9 63.1 0 0 0 130.6 496.6Z" fill="#2a8a2a"/>
<path d="M136 497.3A64.5 67.8 0 0 1 134.5 499.1L131.1 495.9A59.9 63.1 0 0 0 132.5 494.3Z" fill="#8a2a4a"/>
<path d="M137.7 495.1A64.5 67.8 0 0 1 136.6 496.6L133 493.7A59.9 63.1 0 0 0 134.1 492.2Z" fill="#b06080"/>
<path d="M139.2 493.1A64.5 67.8 0 0 1 138.2 494.4L134.6 491.6A59.9 63.1 0 0 0 135.5 490.4Z" fill="#2a2a2a"/>
<path d="M140.3 491.4A64.5 67.8 0 0 1 139.6 492.5L135.8 489.8A59.9 63.1 0 0 0 136.5 488.8Z" fill="#e2f2e8"/>
<path d="M141.2 490.1A64.5 67.8 0 0 1 140.5 491.2L136.6 488.6A59.9 63.1 0 0 0 137.3 487.6Z" fill="#dde2ea"/>
<path d="M142 488.7A64.5 67.8 0 0 1 141.3 489.8L137.4 487.4A59.9 63.1 0 0 0 138 486.3Z" fill="#f2f2f6"/>
<path d="M142.7 487.3A64.5 67.8 0 0 1 142.1 488.5L138.2 486.1A59.9 63.1 0 0 0 138.8 485Z" fill="#f0e8dc"/>
<path d="M143.5 485.9A64.5 67.8 0 0 1 142.9 487.1L138.9 484.8A59.9 63.1 0 0 0 139.5 483.7Z" fill="#dde2ea"/>
<path d="M144.2 484.5A64.5 67.8 0 0 1 143.6 485.7L139.6 483.5A59.9 63.1 0 0 0 140.1 482.4Z" fill="#e4e0ee"/>
<path d="M144.9 483.1A64.5 67.8 0 0 1 144.3 484.3L140.2 482.2A59.9 63.1 0 0 0 140.8 481.1Z" fill="#eae4f0"/>
<path d="M145.6 481.7A64.5 67.8 0 0 1 145 482.9L140.9 480.9A59.9 63.1 0 0 0 141.4 479.7Z" fill="#e6f0e2"/>
<path d="M146.2 480.2A64.5 67.8 0 0 1 145.7 481.4L141.5 479.5A59.9 63.1 0 0 0 142 478.4Z" fill="#e4e0ee"/>
<path d="M146.8 478.7A64.5 67.8 0 0 1 146.3 480L142.1 478.2A59.9 63.1 0 0 0 142.5 477Z" fill="#e4e0ee"/>
<path d="M147.3 477.2A64.5 67.8 0 0 1 146.9 478.5L142.6 476.8A59.9 63.1 0 0 0 143 475.6Z" fill="#e2ecf2"/>
<path d="M147.8 475.7A64.5 67.8 0 0 1 147.4 477L143.1 475.4A59.9 63.1 0 0 0 143.5 474.2Z" fill="#e2ecf2"/>
<path d="M148.3 474.2A64.5 67.8 0 0 1 147.9 475.5L143.6 474A59.9 63.1 0 0 0 144 472.8Z" fill="#dde2ea"/>
<path d="M148.8 472.7A64.5 67.8 0 0 1 148.4 474L144 472.6A59.9 63.1 0 0 0 144.4 471.4Z" fill="#e4e0ee"/>
<path d="M149.2 471.2A64.5 67.8 0 0 1 148.9 472.4L144.4 471.1A59.9 63.1 0 0 0 144.8 469.9Z" fill="#dfe8df"/>
<path d="M149.6 469.6A64.5 67.8 0 0 1 149.3 470.9L144.8 469.7A59.9 63.1 0 0 0 145.1 468.5Z" fill="#e8e8e8"/>
<path d="M149.9 468A64.5 67.8 0 0 1 149.7 469.4L145.2 468.3A59.9 63.1 0 0 0 145.5 467Z" fill="#dfe8df"/>
<path d="M19.7 447.1l-5.4 -0.5M22 433.8l-6.3 -1.9M24.3 425.9l-4.8 -2.1M27.6 418.6l-6 -3.5M32.1 411.9l-4.1 -3.1M36.9 405.6l-5 -4.8M42.2 400.1l-3.5 -4.2M48 395.5l-3 -4.4M53.6 391.5l-2.9 -5.3M59.4 388.7l-2.1 -5M64.9 386.1l-1.8 -5.5M70.5 384.6l-1.2 -5.1M76 383.2l-0.8 -5.4M81.5 382.3l-0.5 -6M86.8 382.5l0 -6.3M91.9 382.5l0.4 -5.5M96.8 382.9l0.8 -5.6M101.5 383.8l1.2 -5.7M105.9 385.3l1.8 -6.5M110.1 386.4l1.9 -5.6M115 388.4l2.4 -5.6M120.3 391.4l3.3 -6.1M125 394.5l3.7 -5.8M129.4 397.5l4.2 -5.5M133 400.9l4 -4.6M136.1 404.3l4.1 -4.1M138.8 407.5l4.2 -3.7M27.6 487.7l-5.4 3.1M47.9 511l-3.6 5.3M62.8 519.4l-1.9 5.2M75.9 523.3l-1.1 6.8M85.7 524.1l-0.1 6.3M92.3 524.2l0.5 6.3M98.1 523.2l0.8 5M103 522l1.1 4.9M108.1 520.7l1.6 5.2M113.1 519.1l2.4 6.1M117.4 516.6l2.3 4.8M121.5 514.4l3.4 6.1M125.5 511.7l3.1 4.8M129.2 508.6l3.6 4.8M132.7 506l4.4 5.1M135.5 503.2l4.1 4.2" fill="none" stroke="#4a4a4a" stroke-width="1.1" stroke-dasharray="1 0.4" stroke-opacity="0.75"/>
<path d="M140.8 410.7l5 -4M142.5 413.6l5.6 -4M143.5 416.1l11 -7.2M143.9 417.8l10.3 -6.4M145.1 419l10.5 -6.2M145.7 420.5l10 -5.6M146.1 422.1l10.4 -5.5M147.1 423.5l8.7 -4.3M148 424.8l10.1 -4.7M148.7 426.3l8.9 -3.9M149.2 427.9l8.5 -3.5M149.8 429.4l8.8 -3.3M149.7 431.1l7.8 -2.7M150.9 432.5l11.8 -3.9M151.4 434l8.4 -2.5M151.6 435.7l9 -2.5M151.7 437.3l8 -2M152.5 438.9l8.4 -1.9M152.1 440.6l9.8 -1.9M152.4 442.2l9.9 -1.7M153 443.8l10.2 -1.5M153.3 445.4l11.4 -1.4M153.5 447l10 -0.9M153.1 448.7l12.5 -0.9M153.2 450.3l9.6 -0.4M153.5 451.9l10.6 -0.2M153.6 453.6l9.7 0M153.3 455.2l12.7 0.4M137.6 500.3l5.9 5.5M139.5 497.8l5.2 4.4M140.7 495.3l5.2 4.1M141.9 493.3l7.1 5.2M142.4 491.6l9.3 6.4M143.6 490.5l10.2 6.7M144.3 489l7.6 4.8M144.9 487.5l9.6 5.7M145.8 486.1l8.5 4.8M146.5 484.7l9.2 4.9M147.1 483.1l11.2 5.6M147.4 481.5l11.3 5.3M148.8 480.3l8.9 3.9M149.2 478.7l10.5 4.3M149.8 477.1l10 3.8M150.4 475.6l9.2 3.3M150.7 474l8.7 2.9M151.4 472.5l9.4 2.8M151.4 470.8l9.4 2.6M152.1 469.3l10.9 2.7" fill="none" stroke="#555" stroke-width="1.3" stroke-dasharray="1.5 0.3" stroke-opacity="0.55"/>
<g fill-opacity="0.43" stroke-opacity="0.14" stroke-width="0.3">
<path d="M289.8 406.2A60.3 60.4 0 0 1 291 407.2Q252.9 454 270.7 511.7A60.3 60.4 0 0 1 269.4 512.1Q252.9 454 289.8 406.2Z" fill="#b0d890" stroke="#b0d890"/>
<path d="M196.9 431.6A60.3 60.4 0 0 1 197.2 430.9Q252.9 454 264.3 513.3A60.3 60.4 0 0 1 263.7 513.4Q252.9 454 196.9 431.6Z" fill="#6a6a72" stroke="#6a6a72"/>
<path d="M261.3 394.2A60.3 60.4 0 0 1 262.8 394.4Q252.9 454 196.6 475.7A60.3 60.4 0 0 1 196.2 474.5Q252.9 454 261.3 394.2Z" fill="#90b4d0" stroke="#90b4d0"/>
<path d="M267.3 395.4A60.3 60.4 0 0 1 267.7 395.4Q252.9 454 261.3 513.8A60.3 60.4 0 0 1 260.9 513.9Q252.9 454 267.3 395.4Z" fill="#6a6a72" stroke="#6a6a72"/>
<path d="M193.5 443.4A60.3 60.4 0 0 1 194 441.1Q252.9 454 208.6 495A60.3 60.4 0 0 1 207.3 493.5Q252.9 454 193.5 443.4Z" fill="#2a50b0" stroke="#2a50b0"/>
<path d="M213.2 408.5A60.3 60.4 0 0 1 214 407.9Q252.9 454 260.6 513.9A60.3 60.4 0 0 1 259.7 514Q252.9 454 213.2 408.5Z" fill="#6a6a72" stroke="#6a6a72"/>
<path d="M266 395A60.3 60.4 0 0 1 267.3 395.4Q252.9 454 244.5 513.8A60.3 60.4 0 0 1 243.3 513.6Q252.9 454 266 395Z" fill="#90a8c0" stroke="#90a8c0"/>
<path d="M282 401.1A60.3 60.4 0 0 1 283.5 401.9Q252.9 454 197.5 477.9A60.3 60.4 0 0 1 197 476.6Q252.9 454 282 401.1Z" fill="#90b4d0" stroke="#90b4d0"/>
<path d="M212.2 409.4A60.3 60.4 0 0 1 213.2 408.5Q252.9 454 239.6 512.9A60.3 60.4 0 0 1 238.4 512.6Q252.9 454 212.2 409.4Z" fill="#6a6a72" stroke="#6a6a72"/>
<path d="M294.9 410.7A60.3 60.4 0 0 1 295 410.8Q252.9 454 292.3 499.7A60.3 60.4 0 0 1 292.2 499.8Q252.9 454 294.9 410.7Z" fill="#3a9a3a" stroke="#3a9a3a"/>
<path d="M293.3 409.1A60.3 60.4 0 0 1 294.4 410.2Q252.9 454 236.9 512.2A60.3 60.4 0 0 1 235.6 511.9Q252.9 454 293.3 409.1Z" fill="#2a3018" stroke="#2a3018"/>
<path d="M224.8 400.6A60.3 60.4 0 0 1 225.1 400.4Q252.9 454 260.9 513.9A60.3 60.4 0 0 1 260.6 513.9Q252.9 454 224.8 400.6Z" fill="#6a6a72" stroke="#6a6a72"/>
<path d="M198 429.1A60.3 60.4 0 0 1 198.5 428Q252.9 454 279.7 508.1A60.3 60.4 0 0 1 278.8 508.6Q252.9 454 198 429.1Z" fill="#2a2a8a" stroke="#2a2a8a"/>
<path d="M192.6 456A60.3 60.4 0 0 1 192.6 451.9Q252.9 454 218.2 503.4A60.3 60.4 0 0 1 215.4 501.3Q252.9 454 192.6 456Z" fill="#7a1a34" stroke="#7a1a34"/>
<path d="M232.4 397.2A60.3 60.4 0 0 1 234.2 396.6Q252.9 454 202.6 487.4A60.3 60.4 0 0 1 201.7 486Q252.9 454 232.4 397.2Z" fill="#e07030" stroke="#e07030"/>
<path d="M194 441.1A60.3 60.4 0 0 1 194.2 440.2Q252.9 454 233.1 511A60.3 60.4 0 0 1 232.3 510.8Q252.9 454 194 441.1Z" fill="#2a3018" stroke="#2a3018"/>
<path d="M288.4 405.2A60.3 60.4 0 0 1 288.6 405.4Q252.9 454 205.4 491.2A60.3 60.4 0 0 1 205.2 491Q252.9 454 288.4 405.2Z" fill="#e07030" stroke="#e07030"/>
<path d="M222.1 402.1A60.3 60.4 0 0 1 223.9 401Q252.9 454 283.5 506A60.3 60.4 0 0 1 281.9 506.9Q252.9 454 222.1 402.1Z" fill="#4a4aa0" stroke="#4a4aa0"/>
<path d="M212.1 409.5A60.3 60.4 0 0 1 212.2 409.4Q252.9 454 211 497.5A60.3 60.4 0 0 1 210.9 497.3Q252.9 454 212.1 409.5Z" fill="#2a50b0" stroke="#2a50b0"/>
<path d="M288.6 405.4A60.3 60.4 0 0 1 289.3 405.8Q252.9 454 258.9 514.1A60.3 60.4 0 0 1 258.2 514.2Q252.9 454 288.6 405.4Z" fill="#a8c850" stroke="#a8c850"/>
<path d="M192.8 458.7A60.3 60.4 0 0 1 192.6 456Q252.9 454 195 470.8A60.3 60.4 0 0 1 194.4 468.5Q252.9 454 192.8 458.7Z" fill="#90b4d0" stroke="#90b4d0"/>
<path d="M259.1 393.9A60.3 60.4 0 0 1 260.6 394.1Q252.9 454 227.2 508.6A60.3 60.4 0 0 1 226 508Q252.9 454 259.1 393.9Z" fill="#8a7a20" stroke="#8a7a20"/>
<path d="M208.3 413.3A60.3 60.4 0 0 1 208.9 412.7Q252.9 454 290.4 501.3A60.3 60.4 0 0 1 289.8 501.8Q252.9 454 208.3 413.3Z" fill="#7ac0a0" stroke="#7ac0a0"/>
<path d="M219.6 403.6A60.3 60.4 0 0 1 221.4 402.5Q252.9 454 221.8 505.7A60.3 60.4 0 0 1 220.2 504.7Q252.9 454 219.6 403.6Z" fill="#7a1a34" stroke="#7a1a34"/>
<path d="M291.6 407.7A60.3 60.4 0 0 1 292.8 408.7Q252.9 454 198.9 480.9A60.3 60.4 0 0 1 198.3 479.6Q252.9 454 291.6 407.7Z" fill="#90b4d0" stroke="#90b4d0"/>
<path d="M235 396.3A60.3 60.4 0 0 1 236.7 395.8Q252.9 454 274.5 510.4A60.3 60.4 0 0 1 273 510.9Q252.9 454 235 396.3Z" fill="#6a6a72" stroke="#6a6a72"/>
<path d="M256.8 393.7A60.3 60.4 0 0 1 258.4 393.9Q252.9 454 235.6 511.9A60.3 60.4 0 0 1 234.2 511.4Q252.9 454 256.8 393.7Z" fill="#2a3018" stroke="#2a3018"/>
<path d="M273.2 397.1A60.3 60.4 0 0 1 273.3 397.1Q252.9 454 241.3 513.3A60.3 60.4 0 0 1 241.2 513.3Q252.9 454 273.2 397.1Z" fill="#6a6a72" stroke="#6a6a72"/>
<path d="M295 410.8A60.3 60.4 0 0 1 296 411.7Q252.9 454 294.8 497.4A60.3 60.4 0 0 1 294 498.2Q252.9 454 295 410.8Z" fill="#c080a0" stroke="#c080a0"/>
<path d="M229.8 398.2A60.3 60.4 0 0 1 231.3 397.6Q252.9 454 222.9 506.4A60.3 60.4 0 0 1 221.8 505.7Q252.9 454 229.8 398.2Z" fill="#7a1a34" stroke="#7a1a34"/>
<path d="M296.4 412.2A60.3 60.4 0 0 1 297.5 413.3Q252.9 454 213 499.3A60.3 60.4 0 0 1 212 498.4Q252.9 454 296.4 412.2Z" fill="#2a50b0" stroke="#2a50b0"/>
<path d="M192.6 451.9A60.3 60.4 0 0 1 192.7 450.7Q252.9 454 285.7 504.7A60.3 60.4 0 0 1 284.8 505.2Q252.9 454 192.6 451.9Z" fill="#6a6a72" stroke="#6a6a72"/>
<path d="M275.5 398A60.3 60.4 0 0 1 277.1 398.7Q252.9 454 246 514A60.3 60.4 0 0 1 244.5 513.8Q252.9 454 275.5 398Z" fill="#90a8c0" stroke="#90a8c0"/>
<path d="M270.8 396.3A60.3 60.4 0 0 1 272.2 396.8Q252.9 454 262.5 513.6A60.3 60.4 0 0 1 261.3 513.8Q252.9 454 270.8 396.3Z" fill="#6a6a72" stroke="#6a6a72"/>
<path d="M225.7 400.1A60.3 60.4 0 0 1 226 400Q252.9 454 280 508A60.3 60.4 0 0 1 279.7 508.1Q252.9 454 225.7 400.1Z" fill="#2a2a8a" stroke="#2a2a8a"/>
<path d="M204.2 418.3A60.3 60.4 0 0 1 205 417.4Q252.9 454 272.5 511.1A60.3 60.4 0 0 1 271.5 511.4Q252.9 454 204.2 418.3Z" fill="#6a6a72" stroke="#6a6a72"/>
<path d="M243.6 394.3A60.3 60.4 0 0 1 244.3 394.2Q252.9 454 249.5 514.3A60.3 60.4 0 0 1 248.9 514.3Q252.9 454 243.6 394.3Z" fill="#6a6a72" stroke="#6a6a72"/>
<path d="M242.5 394.5A60.3 60.4 0 0 1 243.6 394.3Q252.9 454 226 508A60.3 60.4 0 0 1 225.1 507.6Q252.9 454 242.5 394.5Z" fill="#8a7a20" stroke="#8a7a20"/>
<path d="M195.1 436.8A60.3 60.4 0 0 1 195.5 435.4Q252.9 454 286.7 504A60.3 60.4 0 0 1 285.7 504.7Q252.9 454 195.1 436.8Z" fill="#6a6a72" stroke="#6a6a72"/>
<path d="M214.6 407.3A60.3 60.4 0 0 1 216.4 405.9Q252.9 454 196.2 474.5A60.3 60.4 0 0 1 195.5 472.6Q252.9 454 214.6 407.3Z" fill="#90b4d0" stroke="#90b4d0"/>
<path d="M245 394.1A60.3 60.4 0 0 1 246.7 393.9Q252.9 454 269.4 512.1A60.3 60.4 0 0 1 268 512.5Q252.9 454 245 394.1Z" fill="#b0d890" stroke="#b0d890"/>
<path d="M288 404.9A60.3 60.4 0 0 1 288.4 405.2Q252.9 454 198.3 479.6A60.3 60.4 0 0 1 198.1 479.2Q252.9 454 288 404.9Z" fill="#90b4d0" stroke="#90b4d0"/>
<path d="M193.1 446.2A60.3 60.4 0 0 1 193.2 445.2Q252.9 454 224.4 507.2A60.3 60.4 0 0 1 223.7 506.8Q252.9 454 193.1 446.2Z" fill="#8a7a20" stroke="#8a7a20"/>
<path d="M263.5 394.5A60.3 60.4 0 0 1 264.5 394.7Q252.9 454 197 476.6A60.3 60.4 0 0 1 196.6 475.7Q252.9 454 263.5 394.5Z" fill="#90b4d0" stroke="#90b4d0"/>
<path d="M192.7 449.8A60.3 60.4 0 0 1 193.1 446.2Q252.9 454 201.1 484.9A60.3 60.4 0 0 1 199.6 482.2Q252.9 454 192.7 449.8Z" fill="#e07030" stroke="#e07030"/>
<path d="M247.4 393.8A60.3 60.4 0 0 1 249.1 393.7Q252.9 454 203.5 488.6A60.3 60.4 0 0 1 202.6 487.4Q252.9 454 247.4 393.8Z" fill="#e07030" stroke="#e07030"/>
<path d="M195.8 434.6A60.3 60.4 0 0 1 196.1 433.8Q252.9 454 225.1 507.6A60.3 60.4 0 0 1 224.4 507.2Q252.9 454 195.8 434.6Z" fill="#8a7a20" stroke="#8a7a20"/>
<path d="M284.1 402.3A60.3 60.4 0 0 1 285.5 403.2Q252.9 454 198.1 479.2A60.3 60.4 0 0 1 197.5 477.9Q252.9 454 284.1 402.3Z" fill="#90b4d0" stroke="#90b4d0"/>
<path d="M218.7 404.3A60.3 60.4 0 0 1 218.9 404.1Q252.9 454 292 500A60.3 60.4 0 0 1 291.9 500.1Q252.9 454 218.7 404.3Z" fill="#3a9a3a" stroke="#3a9a3a"/>
<path d="M252.2 393.6A60.3 60.4 0 0 1 253.8 393.6Q252.9 454 204.3 489.7A60.3 60.4 0 0 1 203.5 488.6Q252.9 454 252.2 393.6Z" fill="#e07030" stroke="#e07030"/>
<path d="M279.9 400A60.3 60.4 0 0 1 281.4 400.8Q252.9 454 228.5 509.2A60.3 60.4 0 0 1 227.2 508.6Q252.9 454 279.9 400Z" fill="#8a7a20" stroke="#8a7a20"/>
<path d="M217.1 405.4A60.3 60.4 0 0 1 218.2 404.6Q252.9 454 201.7 486A60.3 60.4 0 0 1 201.1 484.9Q252.9 454 217.1 405.4Z" fill="#e07030" stroke="#e07030"/>
<path d="M209.5 412A60.3 60.4 0 0 1 210.4 411.2Q252.9 454 256.8 514.3A60.3 60.4 0 0 1 255.7 514.3Q252.9 454 209.5 412Z" fill="#a8c850" stroke="#a8c850"/>
<path d="M227.2 399.3A60.3 60.4 0 0 1 229 398.5Q252.9 454 266 513A60.3 60.4 0 0 1 264.3 513.3Q252.9 454 227.2 399.3Z" fill="#6a6a72" stroke="#6a6a72"/>
<path d="M197.5 430.1A60.3 60.4 0 0 1 198 429.1Q252.9 454 195.5 472.6A60.3 60.4 0 0 1 195.2 471.7Q252.9 454 197.5 430.1Z" fill="#90b4d0" stroke="#90b4d0"/>
<path d="M277.7 399A60.3 60.4 0 0 1 279.3 399.7Q252.9 454 276.7 509.5A60.3 60.4 0 0 1 275.3 510.1Q252.9 454 277.7 399Z" fill="#d8a0c0" stroke="#d8a0c0"/>
<path d="M224.7 400.6A60.3 60.4 0 0 1 224.8 400.6Q252.9 454 239.6 512.9A60.3 60.4 0 0 1 239.6 512.9Q252.9 454 224.7 400.6Z" fill="#6a6a72" stroke="#6a6a72"/>
<path d="M268.4 395.6A60.3 60.4 0 0 1 270.1 396.1Q252.9 454 205.2 491A60.3 60.4 0 0 1 204.3 489.7Q252.9 454 268.4 395.6Z" fill="#e07030" stroke="#e07030"/>
<path d="M201.8 422A60.3 60.4 0 0 1 203.7 419Q252.9 454 254.6 514.4A60.3 60.4 0 0 1 251.4 514.4Q252.9 454 201.8 422Z" fill="#6a6a72" stroke="#6a6a72"/>
<path d="M231.3 397.6A60.3 60.4 0 0 1 231.4 397.6Q252.9 454 266.1 512.9A60.3 60.4 0 0 1 266 513Q252.9 454 231.3 397.6Z" fill="#6a6a72" stroke="#6a6a72"/>
<path d="M272.2 396.8A60.3 60.4 0 0 1 272.5 396.9Q252.9 454 280.2 507.8A60.3 60.4 0 0 1 280 508Q252.9 454 272.2 396.8Z" fill="#2a2a8a" stroke="#2a2a8a"/>
<path d="M196.1 433.8A60.3 60.4 0 0 1 196.9 431.6Q252.9 454 248.9 514.3A60.3 60.4 0 0 1 246.8 514.1Q252.9 454 196.1 433.8Z" fill="#6a6a72" stroke="#6a6a72"/>
<path d="M264.5 394.7A60.3 60.4 0 0 1 264.5 394.7Q252.9 454 241.2 513.3A60.3 60.4 0 0 1 241.2 513.3Q252.9 454 264.5 394.7Z" fill="#6a6a72" stroke="#6a6a72"/>
<path d="M207.8 413.9A60.3 60.4 0 0 1 208.3 413.3Q252.9 454 238.4 512.6A60.3 60.4 0 0 1 237.7 512.4Q252.9 454 207.8 413.9Z" fill="#6a6a72" stroke="#6a6a72"/>
<path d="M254.5 393.6A60.3 60.4 0 0 1 256.1 393.7Q252.9 454 258.2 514.2A60.3 60.4 0 0 1 256.8 514.3Q252.9 454 254.5 393.6Z" fill="#a8c850" stroke="#a8c850"/>
<path d="M199.5 425.9A60.3 60.4 0 0 1 201.3 422.7Q252.9 454 210.9 497.3A60.3 60.4 0 0 1 208.6 495Q252.9 454 199.5 425.9Z" fill="#2a50b0" stroke="#2a50b0"/>
<path d="M193.4 444.3A60.3 60.4 0 0 1 193.5 443.4Q252.9 454 195.2 471.7A60.3 60.4 0 0 1 195 470.8Q252.9 454 193.4 444.3Z" fill="#90b4d0" stroke="#90b4d0"/>
<path d="M240.1 395A60.3 60.4 0 0 1 241.4 394.7Q252.9 454 243.3 513.6A60.3 60.4 0 0 1 242.1 513.4Q252.9 454 240.1 395Z" fill="#90a8c0" stroke="#90a8c0"/>
<path d="M286 403.5A60.3 60.4 0 0 1 287.4 404.5Q252.9 454 229.8 509.8A60.3 60.4 0 0 1 228.5 509.2Q252.9 454 286 403.5Z" fill="#8a7a20" stroke="#8a7a20"/>
<path d="M241.4 394.7A60.3 60.4 0 0 1 241.8 394.6Q252.9 454 294 498.2A60.3 60.4 0 0 1 293.7 498.5Q252.9 454 241.4 394.7Z" fill="#c080a0" stroke="#c080a0"/>
<path d="M194.4 439.4A60.3 60.4 0 0 1 195.1 436.8Q252.9 454 220.2 504.7A60.3 60.4 0 0 1 218.2 503.4Q252.9 454 194.4 439.4Z" fill="#7a1a34" stroke="#7a1a34"/>
<path d="M237.5 395.6A60.3 60.4 0 0 1 239.3 395.2Q252.9 454 241.2 513.3A60.3 60.4 0 0 1 239.6 512.9Q252.9 454 237.5 395.6Z" fill="#6a6a72" stroke="#6a6a72"/>
<path d="M249.8 393.7A60.3 60.4 0 0 1 251.5 393.6Q252.9 454 212 498.4A60.3 60.4 0 0 1 211 497.5Q252.9 454 249.8 393.7Z" fill="#2a50b0" stroke="#2a50b0"/>
<path d="M218.2 404.6A60.3 60.4 0 0 1 218.7 404.3Q252.9 454 273 510.9A60.3 60.4 0 0 1 272.5 511.1Q252.9 454 218.2 404.6Z" fill="#6a6a72" stroke="#6a6a72"/>
<path d="M206.8 415A60.3 60.4 0 0 1 207.8 413.9Q252.9 454 234.2 511.4A60.3 60.4 0 0 1 233.1 511Q252.9 454 206.8 415Z" fill="#2a3018" stroke="#2a3018"/>
<path d="M226 400A60.3 60.4 0 0 1 226.2 399.8Q252.9 454 292.2 499.8A60.3 60.4 0 0 1 292 500Q252.9 454 226 400Z" fill="#3a9a3a" stroke="#3a9a3a"/>
<path d="M225.1 400.4A60.3 60.4 0 0 1 225.7 400.1Q252.9 454 268 512.5A60.3 60.4 0 0 1 267.5 512.6Q252.9 454 225.1 400.4Z" fill="#b0d890" stroke="#b0d890"/>
</g><g fill-opacity="0.14" stroke="#a8b0b4" stroke-opacity="0.28" stroke-width="0.2">
<path d="M311.6 440.1A60.3 60.4 0 0 1 311.9 441.3Q252.9 454 214.7 500.7A60.3 60.4 0 0 1 213.9 500Q252.9 454 311.6 440.1Z" fill="#e0c8b8"/>
<path d="M308.3 430.2A60.3 60.4 0 0 1 308.8 431.3Q252.9 454 311.3 468.9A60.3 60.4 0 0 1 311.1 469.9Q252.9 454 308.3 430.2Z" fill="#e6e2b8"/>
<path d="M312.8 447.5A60.3 60.4 0 0 1 313 448.7Q252.9 454 306.3 482A60.3 60.4 0 0 1 305.8 483Q252.9 454 312.8 447.5Z" fill="#cfdfe8"/>
<path d="M312.9 459.8A60.3 60.4 0 0 1 312.9 460Q252.9 454 305.6 483.4A60.3 60.4 0 0 1 305.5 483.6Q252.9 454 312.9 459.8Z" fill="#e9d9c4"/>
<path d="M313.2 452A60.3 60.4 0 0 1 313.2 453.2Q252.9 454 206.8 492.9A60.3 60.4 0 0 1 206.1 492Q252.9 454 313.2 452Z" fill="#e8cfd8"/>
<path d="M301.7 418.5A60.3 60.4 0 0 1 302.4 419.5Q252.9 454 250.6 514.4A60.3 60.4 0 0 1 249.5 514.3Q252.9 454 301.7 418.5Z" fill="#bfc7d6"/>
<path d="M305.7 424.8A60.3 60.4 0 0 1 306.3 425.9Q252.9 454 297.3 494.9A60.3 60.4 0 0 1 296.6 495.7Q252.9 454 305.7 424.8Z" fill="#d6e6d0"/>
<path d="M306.4 426.1A60.3 60.4 0 0 1 307 427.2Q252.9 454 308.2 478A60.3 60.4 0 0 1 307.8 479Q252.9 454 306.4 426.1Z" fill="#d9d9d9"/>
<path d="M312.9 460A60.3 60.4 0 0 1 312.9 460.2Q252.9 454 309.5 474.9A60.3 60.4 0 0 1 309.5 475Q252.9 454 312.9 460Z" fill="#c8d8c8"/>
<path d="M226.2 399.8A60.3 60.4 0 0 1 226.5 399.7Q252.9 454 306.5 481.6A60.3 60.4 0 0 1 306.4 481.8Q252.9 454 226.2 399.8Z" fill="#e0c8b8"/>
<path d="M312.2 443A60.3 60.4 0 0 1 312.3 443.8Q252.9 454 303.1 487.4A60.3 60.4 0 0 1 302.8 488Q252.9 454 312.2 443Z" fill="#c8d8c8"/>
<path d="M300.8 417.3A60.3 60.4 0 0 1 301.2 417.9Q252.9 454 284.1 505.7A60.3 60.4 0 0 1 283.5 506Q252.9 454 300.8 417.3Z" fill="#dcd0e4"/>
<path d="M304.5 422.8A60.3 60.4 0 0 1 304.8 423.3Q252.9 454 309.7 474.2A60.3 60.4 0 0 1 309.6 474.6Q252.9 454 304.5 422.8Z" fill="#d6e6d0"/>
<path d="M312.9 460.2A60.3 60.4 0 0 1 312.8 460.7Q252.9 454 310 473.4A60.3 60.4 0 0 1 309.9 473.8Q252.9 454 312.9 460.2Z" fill="#e6e2b8"/>
<path d="M313.2 455A60.3 60.4 0 0 1 313.2 456.2Q252.9 454 278 508.9A60.3 60.4 0 0 1 277 509.4Q252.9 454 313.2 455Z" fill="#e0c8b8"/>
<path d="M302.5 419.7A60.3 60.4 0 0 1 303.2 420.7Q252.9 454 281.2 507.3A60.3 60.4 0 0 1 280.2 507.8Q252.9 454 302.5 419.7Z" fill="#e6e2b8"/>
<path d="M308.9 431.6A60.3 60.4 0 0 1 309.3 432.7Q252.9 454 298.3 493.7A60.3 60.4 0 0 1 297.6 494.6Q252.9 454 308.9 431.6Z" fill="#cfdfe8"/>
<path d="M313.2 453.5A60.3 60.4 0 0 1 313.2 454.7Q252.9 454 310.9 470.4A60.3 60.4 0 0 1 310.6 471.4Q252.9 454 313.2 453.5Z" fill="#e9d9c4"/>
<path d="M310.8 437.2A60.3 60.4 0 0 1 311.2 438.4Q252.9 454 293.1 499A60.3 60.4 0 0 1 292.3 499.7Q252.9 454 310.8 437.2Z" fill="#bfc7d6"/>
<path d="M205.4 416.8A60.3 60.4 0 0 1 206.3 415.7Q252.9 454 310.5 471.9A60.3 60.4 0 0 1 310.1 473.1Q252.9 454 205.4 416.8Z" fill="#e0c8b8"/>
<path d="M304.9 423.5A60.3 60.4 0 0 1 305.4 424.2Q252.9 454 231.5 510.5A60.3 60.4 0 0 1 230.8 510.2Q252.9 454 304.9 423.5Z" fill="#e9d9c4"/>
<path d="M273.3 397.1A60.3 60.4 0 0 1 273.4 397.2Q252.9 454 297.6 494.6A60.3 60.4 0 0 1 297.5 494.7Q252.9 454 273.3 397.1Z" fill="#e0c8b8"/>
<path d="M311.2 438.7A60.3 60.4 0 0 1 311.5 439.9Q252.9 454 303.8 486.3A60.3 60.4 0 0 1 303.3 487.2Q252.9 454 311.2 438.7Z" fill="#bfc7d6"/>
<path d="M307.5 428.4A60.3 60.4 0 0 1 307.6 428.6Q252.9 454 295.9 496.4A60.3 60.4 0 0 1 295.8 496.5Q252.9 454 307.5 428.4Z" fill="#e9d9c4"/>
<path d="M313.1 458A60.3 60.4 0 0 1 313 459.2Q252.9 454 302.2 488.7A60.3 60.4 0 0 1 301.6 489.6Q252.9 454 313.1 458Z" fill="#d6e6d0"/>
<path d="M312.6 445.2A60.3 60.4 0 0 1 312.6 445.8Q252.9 454 296.2 496A60.3 60.4 0 0 1 295.9 496.4Q252.9 454 312.6 445.2Z" fill="#dcd0e4"/>
<path d="M313.1 457A60.3 60.4 0 0 1 313.1 457.2Q252.9 454 301.6 489.6A60.3 60.4 0 0 1 301.5 489.8Q252.9 454 313.1 457Z" fill="#e4e4ee"/>
<path d="M313 449A60.3 60.4 0 0 1 313.1 450.2Q252.9 454 307 480.6A60.3 60.4 0 0 1 306.5 481.6Q252.9 454 313 449Z" fill="#e9d9c4"/>
<path d="M312.7 446A60.3 60.4 0 0 1 312.8 447.3Q252.9 454 206.1 492A60.3 60.4 0 0 1 205.4 491.2Q252.9 454 312.7 446Z" fill="#e4e4ee"/>
<path d="M309.9 434.4A60.3 60.4 0 0 1 310.3 435.6Q252.9 454 304.7 485A60.3 60.4 0 0 1 304.1 485.9Q252.9 454 309.9 434.4Z" fill="#d9d9d9"/>
<path d="M312.3 443.8A60.3 60.4 0 0 1 312.4 444Q252.9 454 308.3 477.8A60.3 60.4 0 0 1 308.2 478Q252.9 454 312.3 443.8Z" fill="#e0c8b8"/>
<path d="M312.4 444A60.3 60.4 0 0 1 312.4 444.3Q252.9 454 310.6 471.4A60.3 60.4 0 0 1 310.6 471.6Q252.9 454 312.4 444Z" fill="#bfc7d6"/>
<path d="M304.2 422.2A60.3 60.4 0 0 1 304.5 422.8Q252.9 454 295.8 496.5A60.3 60.4 0 0 1 295.3 496.9Q252.9 454 304.2 422.2Z" fill="#e0c8b8"/>
<path d="M264.5 394.7A60.3 60.4 0 0 1 265.2 394.9Q252.9 454 302.8 488A60.3 60.4 0 0 1 302.4 488.5Q252.9 454 264.5 394.7Z" fill="#e9d9c4"/>
<path d="M305.4 424.2A60.3 60.4 0 0 1 305.6 424.6Q252.9 454 262.9 513.6A60.3 60.4 0 0 1 262.5 513.6Q252.9 454 305.4 424.2Z" fill="#c9c2dc"/>
<path d="M301.2 417.9A60.3 60.4 0 0 1 301.4 418.1Q252.9 454 305.8 483A60.3 60.4 0 0 1 305.7 483.2Q252.9 454 301.2 417.9Z" fill="#cfdfe8"/>
<path d="M301.4 418.1A60.3 60.4 0 0 1 301.5 418.3Q252.9 454 309.3 475.4A60.3 60.4 0 0 1 309.2 475.6Q252.9 454 301.4 418.1Z" fill="#c8d8c8"/>
<path d="M297.9 413.8A60.3 60.4 0 0 1 298.7 414.8Q252.9 454 230.8 510.2A60.3 60.4 0 0 1 229.8 509.8Q252.9 454 297.9 413.8Z" fill="#e4e4ee"/>
<path d="M312.9 459.5A60.3 60.4 0 0 1 312.9 459.8Q252.9 454 304 486.1A60.3 60.4 0 0 1 303.8 486.3Q252.9 454 312.9 459.5Z" fill="#c8d8c8"/>
<path d="M192.7 450.6A60.3 60.4 0 0 1 192.7 450.6Q252.9 454 297.5 494.7A60.3 60.4 0 0 1 297.5 494.7Q252.9 454 192.7 450.6Z" fill="#e4e4ee"/>
<path d="M313.1 457.5A60.3 60.4 0 0 1 313.1 457.7Q252.9 454 308.9 476.3A60.3 60.4 0 0 1 308.8 476.5Q252.9 454 313.1 457.5Z" fill="#e9d9c4"/>
<path d="M307.1 427.5A60.3 60.4 0 0 1 307.5 428.4Q252.9 454 288.2 503A60.3 60.4 0 0 1 287.4 503.5Q252.9 454 307.1 427.5Z" fill="#e9d9c4"/>
<path d="M313.1 450.5A60.3 60.4 0 0 1 313.2 451.7Q252.9 454 305.5 483.6A60.3 60.4 0 0 1 304.9 484.6Q252.9 454 313.1 450.5Z" fill="#d6e6d0"/>
<path d="M299.9 416.1A60.3 60.4 0 0 1 300.1 416.4Q252.9 454 277 509.4A60.3 60.4 0 0 1 276.7 509.5Q252.9 454 299.9 416.1Z" fill="#c8d8c8"/>
<path d="M307.7 428.8A60.3 60.4 0 0 1 308.2 430Q252.9 454 289.1 502.3A60.3 60.4 0 0 1 288.2 503Q252.9 454 307.7 428.8Z" fill="#bfc7d6"/>
<path d="M198.5 428A60.3 60.4 0 0 1 199.1 426.7Q252.9 454 299.4 492.5A60.3 60.4 0 0 1 298.5 493.5Q252.9 454 198.5 428Z" fill="#e4e4ee"/>
<path d="M312.5 444.5A60.3 60.4 0 0 1 312.6 445.2Q252.9 454 266.7 512.8A60.3 60.4 0 0 1 266.1 512.9Q252.9 454 312.5 444.5Z" fill="#dcd0e4"/>
<path d="M300.1 416.4A60.3 60.4 0 0 1 300.3 416.6Q252.9 454 296.6 495.7A60.3 60.4 0 0 1 296.4 495.8Q252.9 454 300.1 416.4Z" fill="#dcd0e4"/>
<path d="M298.9 415A60.3 60.4 0 0 1 299.7 415.9Q252.9 454 291.2 500.6A60.3 60.4 0 0 1 290.4 501.3Q252.9 454 298.9 415Z" fill="#cfdfe8"/>
<path d="M300.3 416.6A60.3 60.4 0 0 1 300.6 417.1Q252.9 454 309.2 475.6A60.3 60.4 0 0 1 309 476.1Q252.9 454 300.3 416.6Z" fill="#e9d9c4"/>
<path d="M313.1 457.2A60.3 60.4 0 0 1 313.1 457.5Q252.9 454 304.8 484.8A60.3 60.4 0 0 1 304.7 485Q252.9 454 313.1 457.2Z" fill="#c8d8c8"/>
<path d="M309.4 433A60.3 60.4 0 0 1 309.7 433.8Q252.9 454 300.4 491.3A60.3 60.4 0 0 1 299.9 491.8Q252.9 454 309.4 433Z" fill="#d0ecd8"/>
<path d="M313.1 456.5A60.3 60.4 0 0 1 313.1 456.9Q252.9 454 254.9 514.4A60.3 60.4 0 0 1 254.6 514.4Q252.9 454 313.1 456.5Z" fill="#e9d9c4"/>
<path d="M303.4 420.9A60.3 60.4 0 0 1 304 422Q252.9 454 213.9 500A60.3 60.4 0 0 1 213 499.3Q252.9 454 303.4 420.9Z" fill="#e8cfd8"/>
<path d="M311.9 441.6A60.3 60.4 0 0 1 312.2 442.8Q252.9 454 308.8 476.5A60.3 60.4 0 0 1 308.4 477.5Q252.9 454 311.9 441.6Z" fill="#dcd0e4"/>
<path d="M309.7 433.8A60.3 60.4 0 0 1 309.8 434.1Q252.9 454 309.9 473.8A60.3 60.4 0 0 1 309.7 474.2Q252.9 454 309.7 433.8Z" fill="#dcd0e4"/>
<path d="M205 417.4A60.3 60.4 0 0 1 205.4 416.8Q252.9 454 299.9 491.8A60.3 60.4 0 0 1 299.5 492.3Q252.9 454 205 417.4Z" fill="#bfc7d6"/>
<path d="M313.1 456.9A60.3 60.4 0 0 1 313.1 457Q252.9 454 298.4 493.7A60.3 60.4 0 0 1 298.3 493.7Q252.9 454 313.1 456.9Z" fill="#cfdfe8"/>
<path d="M273.4 397.2A60.3 60.4 0 0 1 274.8 397.7Q252.9 454 307.7 479.2A60.3 60.4 0 0 1 307.1 480.4Q252.9 454 273.4 397.2Z" fill="#dcd0e4"/>
<path d="M192.7 450.7A60.3 60.4 0 0 1 192.7 450.6Q252.9 454 295.3 496.9A60.3 60.4 0 0 1 295.3 496.9Q252.9 454 192.7 450.7Z" fill="#e0c8b8"/>
<path d="M231.4 397.6A60.3 60.4 0 0 1 231.6 397.5Q252.9 454 311.1 469.9A60.3 60.4 0 0 1 311 470.1Q252.9 454 231.4 397.6Z" fill="#e8cfd8"/>
<path d="M310.6 436.5A60.3 60.4 0 0 1 310.8 437Q252.9 454 309.5 475A60.3 60.4 0 0 1 309.3 475.4Q252.9 454 310.6 436.5Z" fill="#e8cfd8"/>
<path d="M310.4 435.8A60.3 60.4 0 0 1 310.6 436.5Q252.9 454 199.2 481.4A60.3 60.4 0 0 1 198.9 480.9Q252.9 454 310.4 435.8Z" fill="#d6e6d0"/>
<path d="M210.4 411.2A60.3 60.4 0 0 1 211.5 410.1Q252.9 454 301.3 490A60.3 60.4 0 0 1 300.5 491.1Q252.9 454 210.4 411.2Z" fill="#e6e2b8"/>
<path d="M313 459.5A60.3 60.4 0 0 1 313 459.5Q252.9 454 206.8 492.9A60.3 60.4 0 0 1 206.8 492.9Q252.9 454 313 459.5Z" fill="#e9d9c4"/>
<path d="M313 459.5A60.3 60.4 0 0 1 312.9 459.5Q252.9 454 296.2 496A60.3 60.4 0 0 1 296.2 496Q252.9 454 313 459.5Z" fill="#dcd0e4"/>
</g>
<path d="M187.2 459.2A65.9 66 0 0 1 187.1 450.3L191.7 450.6A61.3 61.4 0 0 0 191.8 458.8Z" fill="#e8708c"/>
<path d="M187.2 449.4A65.9 66 0 0 1 187.7 444.4L192.3 445A61.3 61.4 0 0 0 191.7 449.7Z" fill="#3a3a3a"/>
<path d="M187.8 443.4A65.9 66 0 0 1 188.7 438.9L193.2 440A61.3 61.4 0 0 0 192.4 444.2Z" fill="#0a0a0a"/>
<path d="M189 438A65.9 66 0 0 1 190.2 433.7L194.6 435.1A61.3 61.4 0 0 0 193.4 439.1Z" fill="#0a0a0a"/>
<path d="M190.5 432.8A65.9 66 0 0 1 192 428.7L196.3 430.5A61.3 61.4 0 0 0 194.8 434.3Z" fill="#0a0a0a"/>
<path d="M192.4 427.9A65.9 66 0 0 1 194.1 424.1L198.2 426.2A61.3 61.4 0 0 0 196.6 429.7Z" fill="#1a3a10"/>
<path d="M194.6 423.3A65.9 66 0 0 1 196.5 419.8L200.5 422.2A61.3 61.4 0 0 0 198.6 425.5Z" fill="#7ab840"/>
<path d="M197 419A65.9 66 0 0 1 199.2 415.8L202.9 418.4A61.3 61.4 0 0 0 200.9 421.5Z" fill="#e0f0d8"/>
<path d="M199.7 415A65.9 66 0 0 1 202 412.1L205.5 415A61.3 61.4 0 0 0 203.4 417.7Z" fill="#a8a0a8"/>
<path d="M202.6 411.4A65.9 66 0 0 1 204.9 408.8L208.2 412A61.3 61.4 0 0 0 206.1 414.4Z" fill="#4a2a3a"/>
<path d="M205.5 408.2A65.9 66 0 0 1 207.6 406L210.8 409.4A61.3 61.4 0 0 0 208.8 411.3Z" fill="#3ac03a"/>
<path d="M208.3 405.4A65.9 66 0 0 1 210.4 403.6L213.3 407.1A61.3 61.4 0 0 0 211.4 408.8Z" fill="#0a0a0a"/>
<path d="M211.1 403A65.9 66 0 0 1 213.1 401.4L215.8 405.1A61.3 61.4 0 0 0 214 406.6Z" fill="#2a1a2a"/>
<path d="M213.8 400.9A65.9 66 0 0 1 215.8 399.5L218.4 403.3A61.3 61.4 0 0 0 216.5 404.6Z" fill="#c040b0"/>
<path d="M216.5 399A65.9 66 0 0 1 218.5 397.7L220.9 401.6A61.3 61.4 0 0 0 219.1 402.8Z" fill="#7a4aaa"/>
<path d="M219.3 397.2A65.9 66 0 0 1 221.3 396.1L223.5 400.1A61.3 61.4 0 0 0 221.6 401.2Z" fill="#a0a020"/>
<path d="M222.1 395.7A65.9 66 0 0 1 224 394.7L226 398.8A61.3 61.4 0 0 0 224.2 399.7Z" fill="#4a1a5a"/>
<path d="M224.8 394.3A65.9 66 0 0 1 226.8 393.4L228.7 397.6A61.3 61.4 0 0 0 226.8 398.4Z" fill="#d060c0"/>
<path d="M227.7 393A65.9 66 0 0 1 229.6 392.3L231.3 396.6A61.3 61.4 0 0 0 229.4 397.3Z" fill="#3a6ab0"/>
<path d="M230.5 391.9A65.9 66 0 0 1 232.4 391.3L233.9 395.6A61.3 61.4 0 0 0 232 396.3Z" fill="#4a1a2a"/>
<path d="M233.3 391A65.9 66 0 0 1 235.2 390.4L236.5 394.8A61.3 61.4 0 0 0 234.7 395.4Z" fill="#4a3a2a"/>
<path d="M236.1 390.2A65.9 66 0 0 1 238 389.7L239.1 394.2A61.3 61.4 0 0 0 237.2 394.6Z" fill="#8a9ab0"/>
<path d="M238.9 389.5A65.9 66 0 0 1 240.8 389.1L241.6 393.7A61.3 61.4 0 0 0 239.8 394Z" fill="#1a1a1a"/>
<path d="M241.6 389A65.9 66 0 0 1 243.5 388.7L244.1 393.2A61.3 61.4 0 0 0 242.4 393.5Z" fill="#2a2a2a"/>
<path d="M244.3 388.6A65.9 66 0 0 1 246.1 388.3L246.6 392.9A61.3 61.4 0 0 0 244.9 393.1Z" fill="#1a1a1a"/>
<path d="M246.9 388.3A65.9 66 0 0 1 248.8 388.1L249.1 392.7A61.3 61.4 0 0 0 247.3 392.9Z" fill="#c0c040"/>
<path d="M249.6 388.1A65.9 66 0 0 1 251.3 388L251.4 392.6A61.3 61.4 0 0 0 249.8 392.7Z" fill="#8a8a30"/>
<path d="M252.1 388A65.9 66 0 0 1 253.9 388L253.8 392.6A61.3 61.4 0 0 0 252.2 392.6Z" fill="#f090b0"/>
<path d="M254.6 388A65.9 66 0 0 1 256.4 388.1L256.2 392.7A61.3 61.4 0 0 0 254.5 392.6Z" fill="#0a0a0a"/>
<path d="M257.2 388.1A65.9 66 0 0 1 258.9 388.3L258.5 392.9A61.3 61.4 0 0 0 256.9 392.7Z" fill="#50c050"/>
<path d="M259.7 388.3A65.9 66 0 0 1 261.4 388.5L260.8 393.1A61.3 61.4 0 0 0 259.2 392.9Z" fill="#2a2a2a"/>
<path d="M262.1 388.6A65.9 66 0 0 1 263.7 388.9L263 393.4A61.3 61.4 0 0 0 261.4 393.2Z" fill="#1a1a1a"/>
<path d="M264.5 389A65.9 66 0 0 1 266.4 389.4L265.4 393.9A61.3 61.4 0 0 0 263.6 393.6Z" fill="#b0e0a0"/>
<path d="M267.2 389.6A65.9 66 0 0 1 269.1 390L267.9 394.5A61.3 61.4 0 0 0 266.2 394.1Z" fill="#2a2a2a"/>
<path d="M269.9 390.2A65.9 66 0 0 1 271.7 390.7L270.4 395.2A61.3 61.4 0 0 0 268.7 394.7Z" fill="#3a3a3a"/>
<path d="M272.5 391A65.9 66 0 0 1 274.3 391.6L272.8 395.9A61.3 61.4 0 0 0 271.1 395.4Z" fill="#9ad08a"/>
<path d="M275.1 391.8A65.9 66 0 0 1 276.8 392.5L275.2 396.8A61.3 61.4 0 0 0 273.5 396.2Z" fill="#1a1a1a"/>
<path d="M277.6 392.8A65.9 66 0 0 1 279.3 393.5L277.5 397.7A61.3 61.4 0 0 0 275.9 397.1Z" fill="#5a5a7a"/>
<path d="M280 393.9A65.9 66 0 0 1 281.7 394.6L279.7 398.8A61.3 61.4 0 0 0 278.1 398Z" fill="#2a2a2a"/>
<path d="M282.4 395A65.9 66 0 0 1 284 395.8L281.9 399.9A61.3 61.4 0 0 0 280.4 399.1Z" fill="#d0b0d0"/>
<path d="M284.7 396.2A65.9 66 0 0 1 286.3 397.1L284 401.1A61.3 61.4 0 0 0 282.5 400.2Z" fill="#a0a040"/>
<path d="M287 397.5A65.9 66 0 0 1 288.5 398.4L286 402.3A61.3 61.4 0 0 0 284.6 401.4Z" fill="#80c0c0"/>
<path d="M289.1 398.9A65.9 66 0 0 1 290.6 399.9L288 403.6A61.3 61.4 0 0 0 286.6 402.7Z" fill="#9ad08a"/>
<path d="M291.2 400.3A65.9 66 0 0 1 292.6 401.3L289.9 405A61.3 61.4 0 0 0 288.5 404Z" fill="#b0d890"/>
<path d="M293.2 401.8A65.9 66 0 0 1 294.6 402.9L291.7 406.4A61.3 61.4 0 0 0 290.4 405.4Z" fill="#9a8aca"/>
<path d="M295.2 403.4A65.9 66 0 0 1 296.5 404.5L293.4 407.9A61.3 61.4 0 0 0 292.2 406.9Z" fill="#111"/>
<path d="M297 405A65.9 66 0 0 1 298.3 406.1L295.1 409.5A61.3 61.4 0 0 0 293.9 408.4Z" fill="#9ad08a"/>
<path d="M298.8 406.6A65.9 66 0 0 1 300 407.8L296.7 411A61.3 61.4 0 0 0 295.6 409.9Z" fill="#d0b0d0"/>
<path d="M300.5 408.3A65.9 66 0 0 1 301.6 409.6L298.2 412.7A61.3 61.4 0 0 0 297.2 411.5Z" fill="#a0a040"/>
<path d="M302.1 410.1A65.9 66 0 0 1 303 411.1L299.5 414.1A61.3 61.4 0 0 0 298.7 413.2Z" fill="#f2f2f6"/>
<path d="M303.2 411.3A65.9 66 0 0 1 304.1 412.4L300.5 415.3A61.3 61.4 0 0 0 299.7 414.3Z" fill="#dfe8df"/>
<path d="M304.2 412.6A65.9 66 0 0 1 305.1 413.7L301.4 416.5A61.3 61.4 0 0 0 300.6 415.5Z" fill="#e2f2e8"/>
<path d="M305.2 413.9A65.9 66 0 0 1 306 415L302.3 417.7A61.3 61.4 0 0 0 301.6 416.7Z" fill="#dde2ea"/>
<path d="M306.2 415.2A65.9 66 0 0 1 307 416.3L303.2 418.9A61.3 61.4 0 0 0 302.5 417.9Z" fill="#e2ecf2"/>
<path d="M307.1 416.5A65.9 66 0 0 1 307.9 417.7L304.1 420.2A61.3 61.4 0 0 0 303.4 419.1Z" fill="#eae4f0"/>
<path d="M308.1 417.9A65.9 66 0 0 1 308.8 419L304.9 421.5A61.3 61.4 0 0 0 304.2 420.4Z" fill="#e4e0ee"/>
<path d="M308.9 419.3A65.9 66 0 0 1 309.6 420.4L305.7 422.8A61.3 61.4 0 0 0 305 421.7Z" fill="#f2f2f6"/>
<path d="M309.8 420.7A65.9 66 0 0 1 310.5 421.9L306.4 424.1A61.3 61.4 0 0 0 305.8 423Z" fill="#dde2ea"/>
<path d="M310.6 422.1A65.9 66 0 0 1 311.2 423.3L307.2 425.4A61.3 61.4 0 0 0 306.6 424.3Z" fill="#f0e8dc"/>
<path d="M311.4 423.5A65.9 66 0 0 1 312 424.8L307.9 426.8A61.3 61.4 0 0 0 307.3 425.7Z" fill="#dfe8df"/>
<path d="M312.1 425A65.9 66 0 0 1 312.7 426.2L308.5 428.2A61.3 61.4 0 0 0 308 427Z" fill="#e8e8e8"/>
<path d="M312.8 426.5A65.9 66 0 0 1 313.4 427.7L309.1 429.6A61.3 61.4 0 0 0 308.6 428.4Z" fill="#f0e8dc"/>
<path d="M313.5 428A65.9 66 0 0 1 314 429.2L309.7 431A61.3 61.4 0 0 0 309.2 429.8Z" fill="#e8e8e8"/>
<path d="M314.1 429.5A65.9 66 0 0 1 314.6 430.8L310.3 432.4A61.3 61.4 0 0 0 309.8 431.2Z" fill="#e2ecf2"/>
<path d="M314.7 431A65.9 66 0 0 1 315.1 432.3L310.8 433.8A61.3 61.4 0 0 0 310.4 432.6Z" fill="#e4e0ee"/>
<path d="M315.2 432.5A65.9 66 0 0 1 315.7 433.8L311.3 435.3A61.3 61.4 0 0 0 310.9 434Z" fill="#dde2ea"/>
<path d="M315.7 434.1A65.9 66 0 0 1 316.1 435.4L311.7 436.7A61.3 61.4 0 0 0 311.3 435.5Z" fill="#e2ecf2"/>
<path d="M316.2 435.7A65.9 66 0 0 1 316.6 437L312.1 438.2A61.3 61.4 0 0 0 311.8 436.9Z" fill="#e6f0e2"/>
<path d="M316.6 437.2A65.9 66 0 0 1 317 438.6L312.5 439.7A61.3 61.4 0 0 0 312.2 438.4Z" fill="#eae4f0"/>
<path d="M317 438.8A65.9 66 0 0 1 317.3 440.2L312.8 441.1A61.3 61.4 0 0 0 312.6 439.9Z" fill="#f2f2f6"/>
<path d="M317.4 440.4A65.9 66 0 0 1 317.7 441.8L313.1 442.6A61.3 61.4 0 0 0 312.9 441.4Z" fill="#e8e8e8"/>
<path d="M317.7 442A65.9 66 0 0 1 317.9 443.4L313.4 444.1A61.3 61.4 0 0 0 313.2 442.9Z" fill="#f2f2f6"/>
<path d="M318 443.6A65.9 66 0 0 1 318.2 445L313.6 445.6A61.3 61.4 0 0 0 313.4 444.4Z" fill="#eeecd4"/>
<path d="M318.2 445.3A65.9 66 0 0 1 318.4 446.6L313.8 447.1A61.3 61.4 0 0 0 313.7 445.9Z" fill="#e6f0e2"/>
<path d="M318.4 446.9A65.9 66 0 0 1 318.6 448.3L314 448.7A61.3 61.4 0 0 0 313.8 447.4Z" fill="#e4e0ee"/>
<path d="M318.6 448.5A65.9 66 0 0 1 318.7 449.9L314.1 450.2A61.3 61.4 0 0 0 314 448.9Z" fill="#e4e0ee"/>
<path d="M318.7 450.2A65.9 66 0 0 1 318.8 451.5L314.2 451.7A61.3 61.4 0 0 0 314.1 450.4Z" fill="#f2f2f6"/>
<path d="M318.8 451.8A65.9 66 0 0 1 318.8 453.2L314.2 453.2A61.3 61.4 0 0 0 314.2 451.9Z" fill="#eae4f0"/>
<path d="M318.8 453.4A65.9 66 0 0 1 318.8 454.8L314.2 454.7A61.3 61.4 0 0 0 314.2 453.5Z" fill="#e2ecf2"/>
<path d="M318.8 455.1A65.9 66 0 0 1 318.8 456.4L314.2 456.3A61.3 61.4 0 0 0 314.2 455Z" fill="#e6f0e2"/>
<path d="M318.7 456.7A65.9 66 0 0 1 318.7 458.1L314.1 457.8A61.3 61.4 0 0 0 314.1 456.5Z" fill="#eeecd4"/>
<path d="M318.7 458.3A65.9 66 0 0 1 318.6 459.7L314 459.3A61.3 61.4 0 0 0 314.1 458Z" fill="#dfe8df"/>
<path d="M318.5 460A65.9 66 0 0 1 318.4 461.3L313.8 460.8A61.3 61.4 0 0 0 313.9 459.5Z" fill="#e6f0e2"/>
<path d="M194.2 484A65.9 66 0 0 1 188.9 469.9L193.4 468.8A61.3 61.4 0 0 0 198.3 481.9Z" fill="#90b4d0"/>
<path d="M202.5 496.5A65.9 66 0 0 1 194.6 484.8L198.7 482.6A61.3 61.4 0 0 0 206 493.5Z" fill="#e07030"/>
<path d="M211.2 505.1A65.9 66 0 0 1 203.1 497.2L206.6 494.2A61.3 61.4 0 0 0 214.1 501.5Z" fill="#2a50b0"/>
<path d="M220.1 511.3A65.9 66 0 0 1 211.9 505.7L214.7 502.1A61.3 61.4 0 0 0 222.4 507.3Z" fill="#7a1a34"/>
<path d="M229.5 515.7A65.9 66 0 0 1 221 511.7L223.2 507.7A61.3 61.4 0 0 0 231.1 511.4Z" fill="#8a7a20"/>
<path d="M235.4 517.6A65.9 66 0 0 1 230.4 516L231.9 511.7A61.3 61.4 0 0 0 236.6 513.2Z" fill="#2a3018"/>
<path d="M240.2 518.8A65.9 66 0 0 1 236.3 517.9L237.4 513.4A61.3 61.4 0 0 0 241.1 514.3Z" fill="#0a0a0a"/>
<path d="M245.3 519.6A65.9 66 0 0 1 241.1 518.9L241.9 514.4A61.3 61.4 0 0 0 245.9 515Z" fill="#90a8c0"/>
<path d="M250.4 520A65.9 66 0 0 1 246.2 519.7L246.7 515.1A61.3 61.4 0 0 0 250.5 515.4Z" fill="#0a0a0a"/>
<path d="M255.1 520A65.9 66 0 0 1 251.3 520L251.4 515.4A61.3 61.4 0 0 0 254.9 515.4Z" fill="#0a0a0a"/>
<path d="M259.4 519.7A65.9 66 0 0 1 256 519.9L255.8 515.3A61.3 61.4 0 0 0 259 515.1Z" fill="#a8c850"/>
<path d="M263.8 519.1A65.9 66 0 0 1 260.4 519.6L259.8 515A61.3 61.4 0 0 0 263 514.6Z" fill="#3a3a3a"/>
<path d="M267.9 518.3A65.9 66 0 0 1 264.7 518.9L263.9 514.4A61.3 61.4 0 0 0 266.9 513.8Z" fill="#0a0a0a"/>
<path d="M272.4 517A65.9 66 0 0 1 268.8 518L267.7 513.6A61.3 61.4 0 0 0 271 512.6Z" fill="#b0d890"/>
<path d="M276.5 515.6A65.9 66 0 0 1 273.3 516.8L271.9 512.4A61.3 61.4 0 0 0 274.9 511.3Z" fill="#0a0a0a"/>
<path d="M280.3 514A65.9 66 0 0 1 277.4 515.3L275.7 511A61.3 61.4 0 0 0 278.4 509.8Z" fill="#d8a0c0"/>
<path d="M283.8 512.3A65.9 66 0 0 1 281.2 513.6L279.2 509.5A61.3 61.4 0 0 0 281.7 508.2Z" fill="#2a2a8a"/>
<path d="M287 510.5A65.9 66 0 0 1 284.6 511.8L282.4 507.8A61.3 61.4 0 0 0 284.6 506.5Z" fill="#4a4aa0"/>
<path d="M289.9 508.6A65.9 66 0 0 1 287.8 510L285.4 506.1A61.3 61.4 0 0 0 287.3 504.8Z" fill="#2a2a2a"/>
<path d="M292.5 506.8A65.9 66 0 0 1 290.6 508.1L288 504.3A61.3 61.4 0 0 0 289.7 503.1Z" fill="#a0a040"/>
<path d="M294.8 504.9A65.9 66 0 0 1 293.2 506.2L290.4 502.6A61.3 61.4 0 0 0 291.9 501.4Z" fill="#7ac0a0"/>
<path d="M296.9 503.1A65.9 66 0 0 1 295.5 504.4L292.5 500.9A61.3 61.4 0 0 0 293.8 499.7Z" fill="#3a9a3a"/>
<path d="M298.7 501.4A65.9 66 0 0 1 297.5 502.6L294.4 499.2A61.3 61.4 0 0 0 295.5 498.1Z" fill="#c080a0"/>
<path d="M300.3 499.9A65.9 66 0 0 1 299.3 500.9L296 497.6A61.3 61.4 0 0 0 297 496.7Z" fill="#f2f2f6"/>
<path d="M301.4 498.6A65.9 66 0 0 1 300.5 499.7L297.1 496.5A61.3 61.4 0 0 0 298.1 495.5Z" fill="#eeecd4"/>
<path d="M302.6 497.4A65.9 66 0 0 1 301.6 498.4L298.2 495.3A61.3 61.4 0 0 0 299.1 494.3Z" fill="#f0e8dc"/>
<path d="M303.7 496A65.9 66 0 0 1 302.8 497.2L299.3 494.1A61.3 61.4 0 0 0 300.1 493.1Z" fill="#eae4f0"/>
<path d="M304.8 494.7A65.9 66 0 0 1 303.9 495.8L300.3 492.9A61.3 61.4 0 0 0 301.1 491.9Z" fill="#e8e8e8"/>
<path d="M305.8 493.3A65.9 66 0 0 1 304.9 494.5L301.3 491.7A61.3 61.4 0 0 0 302.1 490.6Z" fill="#dde2ea"/>
<path d="M306.8 492A65.9 66 0 0 1 306 493.1L302.3 490.4A61.3 61.4 0 0 0 303 489.3Z" fill="#eae4f0"/>
<path d="M307.8 490.5A65.9 66 0 0 1 307 491.7L303.2 489.1A61.3 61.4 0 0 0 303.9 488Z" fill="#f0e8dc"/>
<path d="M308.7 489.1A65.9 66 0 0 1 307.9 490.3L304.1 487.8A61.3 61.4 0 0 0 304.8 486.6Z" fill="#e2f2e8"/>
<path d="M309.6 487.6A65.9 66 0 0 1 308.9 488.9L305 486.4A61.3 61.4 0 0 0 305.6 485.3Z" fill="#e4e0ee"/>
<path d="M310.5 486.1A65.9 66 0 0 1 309.7 487.4L305.8 485.1A61.3 61.4 0 0 0 306.4 483.9Z" fill="#eae4f0"/>
<path d="M311.3 484.6A65.9 66 0 0 1 310.6 485.9L306.6 483.7A61.3 61.4 0 0 0 307.2 482.5Z" fill="#f0e8dc"/>
<path d="M312 483.1A65.9 66 0 0 1 311.4 484.4L307.3 482.3A61.3 61.4 0 0 0 307.9 481.1Z" fill="#eae4f0"/>
<path d="M312.8 481.5A65.9 66 0 0 1 312.2 482.9L308 480.8A61.3 61.4 0 0 0 308.6 479.6Z" fill="#e6f0e2"/>
<path d="M313.5 480A65.9 66 0 0 1 312.9 481.3L308.7 479.4A61.3 61.4 0 0 0 309.3 478.2Z" fill="#eeecd4"/>
<path d="M314.1 478.4A65.9 66 0 0 1 313.6 479.7L309.4 477.9A61.3 61.4 0 0 0 309.9 476.7Z" fill="#dde2ea"/>
<path d="M314.7 476.8A65.9 66 0 0 1 314.2 478.1L310 476.5A61.3 61.4 0 0 0 310.4 475.2Z" fill="#eeecd4"/>
<path d="M315.3 475.2A65.9 66 0 0 1 314.8 476.5L310.5 475A61.3 61.4 0 0 0 311 473.7Z" fill="#f2f2f6"/>
<path d="M315.8 473.5A65.9 66 0 0 1 315.4 474.9L311 473.5A61.3 61.4 0 0 0 311.5 472.2Z" fill="#dde2ea"/>
<path d="M316.3 471.9A65.9 66 0 0 1 315.9 473.3L311.5 471.9A61.3 61.4 0 0 0 311.9 470.6Z" fill="#dfe8df"/>
<path d="M316.8 470.2A65.9 66 0 0 1 316.4 471.6L312 470.4A61.3 61.4 0 0 0 312.3 469.1Z" fill="#dfe8df"/>
<path d="M183.4 454.8l-5.5 0.1M184 446.5l-6.7 -0.7M185.3 440.6l-5.7 -1.1M186.6 435l-6.4 -1.8M188.2 429.6l-5.1 -1.9M190.4 424.7l-6.1 -2.9M192.4 419.8l-4.5 -2.5M195.2 415.5l-4.2 -2.8M198.3 411.6l-4.2 -3.2M201.3 407.9l-4 -3.6M204.1 404.6l-4.8 -4.9M207.3 402.2l-4 -4.6M210.1 399.7l-3.3 -4.2M212.7 397.3l-3.8 -5.4M188.3 478.1l-6 2.3M195.7 492.6l-4.4 3M204.8 503.5l-4.3 4.5M213.9 511.5l-3.4 5.1M223.8 516.7l-2.5 5.3M231.9 520l-1.9 5.9M237.6 521.4l-1.3 5.7M242.7 522.5l-0.9 6.3M248.1 523.1l-0.5 7M253.2 523.6l0 6.4M257.9 522.8l0.5 6.9M262.5 522.4l1 6.8M267 522l1.4 6.8M271.6 520.9l1.5 5.3M276 519.3l2 5.8M280.2 517.7l2.5 5.7M284 516l2.8 5.6M287.5 514.1l2.5 4.3M290.8 512.3l3.5 5.4" fill="none" stroke="#4a4a4a" stroke-width="1.1" stroke-dasharray="1 0.4" stroke-opacity="0.75"/>
<path d="M216 396.1l-3 -4.7M219 394.5l-4.1 -7.3M221.8 392.8l-2.6 -5.1M224.8 391.4l-3.4 -7.4M227.7 390.3l-2.8 -7.1M230.6 389.2l-2.4 -7.1M233.4 387.8l-2.1 -7M236.4 387.2l-2 -7.9M239.3 386.6l-1.7 -8.3M242 385.6l-1.3 -8.2M244.9 386l-1 -8.4M247.6 385.2l-0.5 -6.3M250.4 385.4l-0.3 -8.2M253 385.2l0 -7.8M255.6 385.6l0.2 -5.5M258.2 385.6l0.4 -5.5M260.9 385.5l1 -8.2M263.4 385.6l1.2 -8M266 386.2l1.3 -6.6M268.8 386.8l1.7 -7.3M271.7 387.4l1.6 -5.6M274.3 388.6l1.9 -5.7M277 389.3l2.6 -7.1M279.5 390.7l3.1 -7.4M282.2 391.5l2.7 -5.8M284.7 392.6l2.6 -5M286.9 394.3l3.2 -5.6M289.3 395.4l3.4 -5.5M291.3 397.3l3.4 -5M293.4 398.8l3.4 -4.6M296 399.8l4.6 -5.8M297.7 401.8l3.6 -4.2M299.5 403.6l4.5 -4.8M301.2 405.5l4.6 -4.6M303 407.1l4.9 -4.6M303.9 409.5l6.3 -5.5M305.3 410.4l10.1 -8.4M306.5 411.7l10.5 -8.3M307.1 413.3l9.6 -7.2M308.6 414.3l7 -5M309.4 415.8l9.7 -6.6M310.4 417.2l7.4 -4.7M310.7 419l9.4 -5.7M312.3 420l7.9 -4.5M312.4 421.9l10.1 -5.4M313.7 423.1l7.5 -3.8M314.2 424.7l9 -4.3M314.7 426.4l8 -3.6M315.6 427.8l9.9 -4.1M316 429.5l8.4 -3.3M316.5 431.1l9.8 -3.5M317.4 432.6l7.9 -2.6M318.1 434.1l7.9 -2.4M318.5 435.7l11.8 -3.3M318.5 437.5l12.8 -3.2M319.1 439.1l10.1 -2.3M319.9 440.6l8.2 -1.6M320.3 442.3l8.1 -1.4M320.5 444l11.6 -1.7M320.7 445.7l8.3 -1M320.8 447.3l13.2 -1.3M320.8 449l11.2 -0.8M321.1 450.7l10.6 -0.5M320.9 452.4l11.2 -0.3M321 454.1l10.2 0M321.2 455.8l11.2 0.3M320.6 457.5l12.2 0.6M320.4 459.1l11.9 0.9M320.5 460.9l10.6 1.1M293.2 509.8l4.2 5.8M295.6 507.6l3.7 4.6M297.8 505.6l5.4 6.2M299.8 503.8l5.6 6M301.3 501.9l7.2 7.1M302.4 500.5l5.9 5.6M303.6 499.2l9.2 8.2M304.5 497.7l6.8 5.8M305.6 496.3l10.3 8.3M307.1 495.2l9.3 7.1M308.1 493.8l7.7 5.6M308.9 492.1l9.7 6.6M310.4 491l7.9 5.1M311 489.3l7.8 4.7M312.1 487.9l9.1 5.2M312.9 486.4l11.2 6M313.6 484.7l10.2 5.2M314.4 483.1l7.7 3.6M315.3 481.6l9.5 4.2M315.4 479.7l9.3 3.8M316.7 478.3l9.4 3.6M317.2 476.6l10.1 3.6M317.3 474.8l7.9 2.6M318.1 473.2l9.1 2.7M319 471.6l8.4 2.2" fill="none" stroke="#555" stroke-width="1.3" stroke-dasharray="1.5 0.3" stroke-opacity="0.55"/>
<g fill-opacity="0.5" stroke-opacity="0.14" stroke-width="0.3">
<path d="M456.1 404A60.9 61.5 0 0 1 457.1 404.6Q423.5 455.9 424.5 517.4A60.9 61.5 0 0 1 423.5 517.4Q423.5 455.9 456.1 404Z" fill="#90d050" stroke="#90d050"/>
<path d="M472.5 419.4A60.9 61.5 0 0 1 473.8 421.3Q423.5 455.9 366.9 478.6A60.9 61.5 0 0 1 366.2 476.6Q423.5 455.9 472.5 419.4Z" fill="#3a6a68" stroke="#3a6a68"/>
<path d="M365.2 438.1A60.9 61.5 0 0 1 366.6 434Q423.5 455.9 414.6 516.7A60.9 61.5 0 0 1 410.7 516Q423.5 455.9 365.2 438.1Z" fill="#a0a890" stroke="#a0a890"/>
<path d="M448.4 399.8A60.9 61.5 0 0 1 449.3 400.2Q423.5 455.9 417.4 517.1A60.9 61.5 0 0 1 416.5 517Q423.5 455.9 448.4 399.8Z" fill="#a0a890" stroke="#a0a890"/>
<path d="M366.6 434A60.9 61.5 0 0 1 366.8 433.6Q423.5 455.9 437.3 515.8A60.9 61.5 0 0 1 436.9 515.9Q423.5 455.9 366.6 434Z" fill="#7a2a3a" stroke="#7a2a3a"/>
<path d="M394.3 401.9A60.9 61.5 0 0 1 395.5 401.3Q423.5 455.9 387.3 505.4A60.9 61.5 0 0 1 386.3 504.6Q423.5 455.9 394.3 401.9Z" fill="#b0a8e0" stroke="#b0a8e0"/>
<path d="M416.4 394.8A60.9 61.5 0 0 1 419.9 394.5Q423.5 455.9 421.6 517.4A60.9 61.5 0 0 1 418.2 517.2Q423.5 455.9 416.4 394.8Z" fill="#90d050" stroke="#90d050"/>
<path d="M376.7 416.6A60.9 61.5 0 0 1 378.5 414.4Q423.5 455.9 378 496.8A60.9 61.5 0 0 1 376.3 494.8Q423.5 455.9 376.7 416.6Z" fill="#1a8a3c" stroke="#1a8a3c"/>
<path d="M420.8 394.5A60.9 61.5 0 0 1 424.7 394.4Q423.5 455.9 364 469A60.9 61.5 0 0 1 363.3 465.4Q423.5 455.9 420.8 394.5Z" fill="#3a6a68" stroke="#3a6a68"/>
<path d="M379.9 412.9A60.9 61.5 0 0 1 381.8 411.1Q423.5 455.9 473 491.8A60.9 61.5 0 0 1 471.5 493.7Q423.5 455.9 379.9 412.9Z" fill="#0a0a0a" stroke="#0a0a0a"/>
<path d="M364.4 441A60.9 61.5 0 0 1 365.2 438.1Q423.5 455.9 405.6 514.7A60.9 61.5 0 0 1 403 513.8Q423.5 455.9 364.4 441Z" fill="#6a3a40" stroke="#6a3a40"/>
<path d="M395.5 401.3A60.9 61.5 0 0 1 397.8 400.1Q423.5 455.9 402.2 513.5A60.9 61.5 0 0 1 400 512.6Q423.5 455.9 395.5 401.3Z" fill="#2a7a5a" stroke="#2a7a5a"/>
<path d="M363.5 445.4A60.9 61.5 0 0 1 363.5 445.1Q423.5 455.9 432.3 516.8A60.9 61.5 0 0 1 431.9 516.8Q423.5 455.9 363.5 445.4Z" fill="#0a0a0a" stroke="#0a0a0a"/>
<path d="M439.4 396.5A60.9 61.5 0 0 1 440.7 396.9Q423.5 455.9 431.1 516.9A60.9 61.5 0 0 1 429.9 517.1Q423.5 455.9 439.4 396.5Z" fill="#80d0e8" stroke="#80d0e8"/>
<path d="M371.7 423.6A60.9 61.5 0 0 1 373.8 420.3Q423.5 455.9 456.9 507.4A60.9 61.5 0 0 1 453.8 509.2Q423.5 455.9 371.7 423.6Z" fill="#0a0a0a" stroke="#0a0a0a"/>
<path d="M452.4 401.8A60.9 61.5 0 0 1 454.2 402.8Q423.5 455.9 423.5 517.4A60.9 61.5 0 0 1 421.6 517.4Q423.5 455.9 452.4 401.8Z" fill="#90d050" stroke="#90d050"/>
<path d="M412.8 395.4A60.9 61.5 0 0 1 414.6 395.1Q423.5 455.9 474.7 489.3A60.9 61.5 0 0 1 473.7 490.6Q423.5 455.9 412.8 395.4Z" fill="#6a9a8a" stroke="#6a9a8a"/>
<path d="M415.4 394.9A60.9 61.5 0 0 1 416.4 394.8Q423.5 455.9 374 491.8A60.9 61.5 0 0 1 373.5 491Q423.5 455.9 415.4 394.9Z" fill="#a89094" stroke="#a89094"/>
<path d="M444 398A60.9 61.5 0 0 1 446 398.7Q423.5 455.9 416.5 517A60.9 61.5 0 0 1 414.6 516.7Q423.5 455.9 444 398Z" fill="#a0a890" stroke="#a0a890"/>
<path d="M404.8 397.4A60.9 61.5 0 0 1 409.6 396Q423.5 455.9 373.5 491A60.9 61.5 0 0 1 371 487.1Q423.5 455.9 404.8 397.4Z" fill="#a89094" stroke="#a89094"/>
<path d="M383.7 409.4A60.9 61.5 0 0 1 387.5 406.3Q423.5 455.9 429.9 517.1A60.9 61.5 0 0 1 425.4 517.4Q423.5 455.9 383.7 409.4Z" fill="#80d0e8" stroke="#80d0e8"/>
<path d="M399.7 399.3A60.9 61.5 0 0 1 403.8 397.7Q423.5 455.9 390.7 507.7A60.9 61.5 0 0 1 387.3 505.4Q423.5 455.9 399.7 399.3Z" fill="#b0a8e0" stroke="#b0a8e0"/>
<path d="M478.5 429.4A60.9 61.5 0 0 1 479.2 431Q423.5 455.9 375 493.1A60.9 61.5 0 0 1 374 491.8Q423.5 455.9 478.5 429.4Z" fill="#a89094" stroke="#a89094"/>
<path d="M440.7 396.9A60.9 61.5 0 0 1 443.2 397.7Q423.5 455.9 470.9 494.5A60.9 61.5 0 0 1 469.4 496.4Q423.5 455.9 440.7 396.9Z" fill="#2a2a2a" stroke="#2a2a2a"/>
<path d="M446 398.7A60.9 61.5 0 0 1 447.6 399.4Q423.5 455.9 440.2 515A60.9 61.5 0 0 1 438.7 515.5Q423.5 455.9 446 398.7Z" fill="#7a2a3a" stroke="#7a2a3a"/>
<path d="M474.3 422A60.9 61.5 0 0 1 475.4 423.8Q423.5 455.9 384.6 503.2A60.9 61.5 0 0 1 383.1 501.9Q423.5 455.9 474.3 422Z" fill="#1a8a3c" stroke="#1a8a3c"/>
<path d="M430.1 394.8A60.9 61.5 0 0 1 432.1 395Q423.5 455.9 392.3 508.7A60.9 61.5 0 0 1 390.7 507.7Q423.5 455.9 430.1 394.8Z" fill="#b0a8e0" stroke="#b0a8e0"/>
<path d="M475.9 424.5A60.9 61.5 0 0 1 476.9 426.3Q423.5 455.9 367.6 480.3A60.9 61.5 0 0 1 366.9 478.6Q423.5 455.9 475.9 424.5Z" fill="#3a6a68" stroke="#3a6a68"/>
<path d="M452.4 401.8A60.9 61.5 0 0 1 452.4 401.8Q423.5 455.9 364.6 471.6A60.9 61.5 0 0 1 364.6 471.6Q423.5 455.9 452.4 401.8Z" fill="#3a6a68" stroke="#3a6a68"/>
<path d="M425.6 394.4A60.9 61.5 0 0 1 429.3 394.7Q423.5 455.9 448.4 512A60.9 61.5 0 0 1 445.3 513.3Q423.5 455.9 425.6 394.4Z" fill="#5a5a6a" stroke="#5a5a6a"/>
<path d="M454.9 403.2A60.9 61.5 0 0 1 455 403.3Q423.5 455.9 471 494.4A60.9 61.5 0 0 1 470.9 494.5Q423.5 455.9 454.9 403.2Z" fill="#2a2a2a" stroke="#2a2a2a"/>
<path d="M477.4 427.3A60.9 61.5 0 0 1 477.4 427.4Q423.5 455.9 464.6 501.3A60.9 61.5 0 0 1 464.5 501.4Q423.5 455.9 477.4 427.3Z" fill="#1a1a1a" stroke="#1a1a1a"/>
<path d="M403.8 397.7A60.9 61.5 0 0 1 404 397.6Q423.5 455.9 437.6 515.7A60.9 61.5 0 0 1 437.3 515.8Q423.5 455.9 403.8 397.7Z" fill="#7a2a3a" stroke="#7a2a3a"/>
<path d="M382.4 410.5A60.9 61.5 0 0 1 383.7 409.4Q423.5 455.9 371 487.1A60.9 61.5 0 0 1 370.2 485.7Q423.5 455.9 382.4 410.5Z" fill="#a89094" stroke="#a89094"/>
<path d="M434.5 395.4A60.9 61.5 0 0 1 437.4 396Q423.5 455.9 364.6 471.6A60.9 61.5 0 0 1 364 469Q423.5 455.9 434.5 395.4Z" fill="#3a6a68" stroke="#3a6a68"/>
<path d="M465.6 411.4A60.9 61.5 0 0 1 467.6 413.4Q423.5 455.9 434.8 516.3A60.9 61.5 0 0 1 432.3 516.8Q423.5 455.9 465.6 411.4Z" fill="#0a0a0a" stroke="#0a0a0a"/>
<path d="M477.3 427A60.9 61.5 0 0 1 477.4 427.3Q423.5 455.9 440.5 514.9A60.9 61.5 0 0 1 440.2 515Q423.5 455.9 477.3 427Z" fill="#7a2a3a" stroke="#7a2a3a"/>
<path d="M368.1 430.3A60.9 61.5 0 0 1 369 428.5Q423.5 455.9 477.5 484.3A60.9 61.5 0 0 1 476.6 486Q423.5 455.9 368.1 430.3Z" fill="#3a3a3a" stroke="#3a3a3a"/>
<path d="M378.5 414.4A60.9 61.5 0 0 1 379.5 413.4Q423.5 455.9 450.9 510.8A60.9 61.5 0 0 1 449.7 511.4Q423.5 455.9 378.5 414.4Z" fill="#7aa890" stroke="#7aa890"/>
<path d="M366.8 433.6A60.9 61.5 0 0 1 368.1 430.3Q423.5 455.9 463.5 502.3A60.9 61.5 0 0 1 461 504.4Q423.5 455.9 366.8 433.6Z" fill="#2a5a4a" stroke="#2a5a4a"/>
<path d="M457.1 404.6A60.9 61.5 0 0 1 458.9 405.9Q423.5 455.9 476.2 486.7A60.9 61.5 0 0 1 475.2 488.5Q423.5 455.9 457.1 404.6Z" fill="#1a1a1a" stroke="#1a1a1a"/>
<path d="M397.8 400.1A60.9 61.5 0 0 1 398.9 399.7Q423.5 455.9 443.4 514A60.9 61.5 0 0 1 442.4 514.4Q423.5 455.9 397.8 400.1Z" fill="#0a0a0a" stroke="#0a0a0a"/>
<path d="M449.3 400.2A60.9 61.5 0 0 1 451.7 401.4Q423.5 455.9 453.1 509.7A60.9 61.5 0 0 1 450.9 510.8Q423.5 455.9 449.3 400.2Z" fill="#7aa890" stroke="#7aa890"/>
<path d="M410.5 395.8A60.9 61.5 0 0 1 412.8 395.4Q423.5 455.9 468.4 497.5A60.9 61.5 0 0 1 466.9 499.1Q423.5 455.9 410.5 395.8Z" fill="#4a8a6a" stroke="#4a8a6a"/>
<path d="M362.6 454.7A60.9 61.5 0 0 1 362.8 451Q423.5 455.9 370 485.3A60.9 61.5 0 0 1 368.5 482.3Q423.5 455.9 362.6 454.7Z" fill="#a89094" stroke="#a89094"/>
<path d="M470.4 416.7A60.9 61.5 0 0 1 472 418.7Q423.5 455.9 366.2 476.6A60.9 61.5 0 0 1 365.4 474.4Q423.5 455.9 470.4 416.7Z" fill="#3a6a68" stroke="#3a6a68"/>
<path d="M362.8 451A60.9 61.5 0 0 1 363.5 445.4Q423.5 455.9 400 512.6A60.9 61.5 0 0 1 395.3 510.4Q423.5 455.9 362.8 451Z" fill="#2a7a5a" stroke="#2a7a5a"/>
<path d="M454.2 402.8A60.9 61.5 0 0 1 454.9 403.2Q423.5 455.9 444.1 513.8A60.9 61.5 0 0 1 443.4 514Q423.5 455.9 454.2 402.8Z" fill="#0a0a0a" stroke="#0a0a0a"/>
<path d="M376.3 417A60.9 61.5 0 0 1 376.7 416.6Q423.5 455.9 370.2 485.7A60.9 61.5 0 0 1 370 485.3Q423.5 455.9 376.3 417Z" fill="#a89094" stroke="#a89094"/>
<path d="M363.8 443.9A60.9 61.5 0 0 1 363.9 443.4Q423.5 455.9 473.7 490.6A60.9 61.5 0 0 1 473.5 491Q423.5 455.9 363.8 443.9Z" fill="#6a9a8a" stroke="#6a9a8a"/>
<path d="M462.7 408.9A60.9 61.5 0 0 1 465 410.8Q423.5 455.9 383.1 501.9A60.9 61.5 0 0 1 381.1 500Q423.5 455.9 462.7 408.9Z" fill="#1a8a3c" stroke="#1a8a3c"/>
<path d="M437.4 396A60.9 61.5 0 0 1 438.6 396.3Q423.5 455.9 438.7 515.5A60.9 61.5 0 0 1 437.6 515.7Q423.5 455.9 437.4 396Z" fill="#7a2a3a" stroke="#7a2a3a"/>
<path d="M389.5 404.9A60.9 61.5 0 0 1 393.6 402.3Q423.5 455.9 381.1 500A60.9 61.5 0 0 1 378 496.8Q423.5 455.9 389.5 404.9Z" fill="#1a8a3c" stroke="#1a8a3c"/>
<path d="M468.5 414.4A60.9 61.5 0 0 1 468.8 414.8Q423.5 455.9 448.9 511.8A60.9 61.5 0 0 1 448.4 512Q423.5 455.9 468.5 414.4Z" fill="#5a5a6a" stroke="#5a5a6a"/>
<path d="M379.5 413.4A60.9 61.5 0 0 1 379.9 412.9Q423.5 455.9 464.5 501.4A60.9 61.5 0 0 1 464.1 501.7Q423.5 455.9 379.5 413.4Z" fill="#1a1a1a" stroke="#1a1a1a"/>
<path d="M373.8 420.3A60.9 61.5 0 0 1 375.8 417.7Q423.5 455.9 460 505.1A60.9 61.5 0 0 1 457.6 506.9Q423.5 455.9 373.8 420.3Z" fill="#3a3a3a" stroke="#3a3a3a"/>
<path d="M455 403.3A60.9 61.5 0 0 1 455.1 403.3Q423.5 455.9 474.7 489.2A60.9 61.5 0 0 1 474.7 489.3Q423.5 455.9 455 403.3Z" fill="#6a9a8a" stroke="#6a9a8a"/>
<path d="M468.1 414.1A60.9 61.5 0 0 1 468.5 414.4Q423.5 455.9 444.5 513.6A60.9 61.5 0 0 1 444.1 513.8Q423.5 455.9 468.1 414.1Z" fill="#0a0a0a" stroke="#0a0a0a"/>
<path d="M369.4 427.7A60.9 61.5 0 0 1 371.7 423.6Q423.5 455.9 409.9 515.8A60.9 61.5 0 0 1 405.6 514.7Q423.5 455.9 369.4 427.7Z" fill="#6a3a40" stroke="#6a3a40"/>
<path d="M459.6 406.4A60.9 61.5 0 0 1 462.1 408.3Q423.5 455.9 365.4 474.4A60.9 61.5 0 0 1 364.6 471.6Q423.5 455.9 459.6 406.4Z" fill="#3a6a68" stroke="#3a6a68"/>
<path d="M477.4 427.4A60.9 61.5 0 0 1 477.8 428Q423.5 455.9 468.8 497A60.9 61.5 0 0 1 468.4 497.5Q423.5 455.9 477.4 427.4Z" fill="#4a8a6a" stroke="#4a8a6a"/>
<path d="M363.5 445.1A60.9 61.5 0 0 1 363.8 443.9Q423.5 455.9 442.4 514.4A60.9 61.5 0 0 1 441.4 514.7Q423.5 455.9 363.5 445.1Z" fill="#0a0a0a" stroke="#0a0a0a"/>
</g><g fill-opacity="0.14" stroke="#a8b0b4" stroke-opacity="0.28" stroke-width="0.2">
<path d="M482.7 441.5A60.9 61.5 0 0 1 483 442.9Q423.5 455.9 480.5 477.5A60.9 61.5 0 0 1 480 478.8Q423.5 455.9 482.7 441.5Z" fill="#d9d9d9"/>
<path d="M455.1 403.3A60.9 61.5 0 0 1 455.2 403.4Q423.5 455.9 479.4 480.3A60.9 61.5 0 0 1 479.3 480.4Q423.5 455.9 455.1 403.3Z" fill="#bfc7d6"/>
<path d="M483.1 443.2A60.9 61.5 0 0 1 483.4 444.6Q423.5 455.9 375.8 494.1A60.9 61.5 0 0 1 375 493.1Q423.5 455.9 483.1 443.2Z" fill="#c9c2dc"/>
<path d="M483.6 446A60.9 61.5 0 0 1 483.6 446.2Q423.5 455.9 480.6 477.4A60.9 61.5 0 0 1 480.5 477.5Q423.5 455.9 483.6 446Z" fill="#dcd0e4"/>
<path d="M478.1 428.6A60.9 61.5 0 0 1 478.1 428.7Q423.5 455.9 482.3 471.9A60.9 61.5 0 0 1 482.3 472Q423.5 455.9 478.1 428.6Z" fill="#dcd0e4"/>
<path d="M480.1 433.3A60.9 61.5 0 0 1 480.6 434.6Q423.5 455.9 368.1 481.6A60.9 61.5 0 0 1 367.6 480.3Q423.5 455.9 480.1 433.3Z" fill="#d0ecd8"/>
<path d="M482.3 439.8A60.9 61.5 0 0 1 482.4 440.2Q423.5 455.9 460.3 504.9A60.9 61.5 0 0 1 460 505.1Q423.5 455.9 482.3 439.8Z" fill="#d0ecd8"/>
<path d="M483.9 448.3A60.9 61.5 0 0 1 484.1 449.7Q423.5 455.9 483.7 465.4A60.9 61.5 0 0 1 483.4 466.8Q423.5 455.9 483.9 448.3Z" fill="#e4e4ee"/>
<path d="M484.4 455.2A60.9 61.5 0 0 1 484.4 456.6Q423.5 455.9 482.6 470.6A60.9 61.5 0 0 1 482.3 471.9Q423.5 455.9 484.4 455.2Z" fill="#e9d9c4"/>
<path d="M483.4 444.9A60.9 61.5 0 0 1 483.6 446Q423.5 455.9 466.3 499.7A60.9 61.5 0 0 1 465.5 500.4Q423.5 455.9 483.4 444.9Z" fill="#d6e6d0"/>
<path d="M363.9 443.4A60.9 61.5 0 0 1 364.2 441.8Q423.5 455.9 479.2 480.7A60.9 61.5 0 0 1 478.6 482Q423.5 455.9 363.9 443.4Z" fill="#e4e4ee"/>
<path d="M455.3 403.4A60.9 61.5 0 0 1 455.4 403.5Q423.5 455.9 483.1 468.5A60.9 61.5 0 0 1 483.1 468.6Q423.5 455.9 455.3 403.4Z" fill="#d0ecd8"/>
<path d="M484.3 451.7A60.9 61.5 0 0 1 484.3 453.2Q423.5 455.9 481.7 474A60.9 61.5 0 0 1 481.3 475.3Q423.5 455.9 484.3 451.7Z" fill="#e6e2b8"/>
<path d="M481.3 436.5A60.9 61.5 0 0 1 481.7 437.9Q423.5 455.9 465.5 500.4A60.9 61.5 0 0 1 464.6 501.3Q423.5 455.9 481.3 436.5Z" fill="#e8cfd8"/>
<path d="M479.5 431.7A60.9 61.5 0 0 1 480 433Q423.5 455.9 393.4 509.4A60.9 61.5 0 0 1 392.3 508.7Q423.5 455.9 479.5 431.7Z" fill="#e6e2b8"/>
<path d="M478 428.4A60.9 61.5 0 0 1 478.1 428.6Q423.5 455.9 481.3 475.3A60.9 61.5 0 0 1 481.2 475.5Q423.5 455.9 478 428.4Z" fill="#e8cfd8"/>
<path d="M480.7 434.9A60.9 61.5 0 0 1 481.2 436.3Q423.5 455.9 394.6 510A60.9 61.5 0 0 1 393.4 509.4Q423.5 455.9 480.7 434.9Z" fill="#cfdfe8"/>
<path d="M483.7 446.6A60.9 61.5 0 0 1 483.9 448Q423.5 455.9 483.4 467.2A60.9 61.5 0 0 1 483.1 468.5Q423.5 455.9 483.7 446.6Z" fill="#e8cfd8"/>
<path d="M477.8 428A60.9 61.5 0 0 1 478 428.4Q423.5 455.9 480.8 476.7A60.9 61.5 0 0 1 480.7 477.1Q423.5 455.9 477.8 428Z" fill="#e8cfd8"/>
<path d="M468.8 414.8A60.9 61.5 0 0 1 469.9 416.1Q423.5 455.9 478.5 482.3A60.9 61.5 0 0 1 477.9 483.6Q423.5 455.9 468.8 414.8Z" fill="#d0ecd8"/>
<path d="M432.1 395A60.9 61.5 0 0 1 433.7 395.3Q423.5 455.9 482.2 472.3A60.9 61.5 0 0 1 481.8 473.8Q423.5 455.9 432.1 395Z" fill="#bfc7d6"/>
<path d="M483.6 446.2A60.9 61.5 0 0 1 483.7 446.3Q423.5 455.9 483.4 466.8A60.9 61.5 0 0 1 483.4 466.9Q423.5 455.9 483.6 446.2Z" fill="#e4e4ee"/>
<path d="M484.1 450A60.9 61.5 0 0 1 484.2 451.5Q423.5 455.9 385.6 504.1A60.9 61.5 0 0 1 384.6 503.2Q423.5 455.9 484.1 450Z" fill="#dcd0e4"/>
<path d="M481.8 438.2A60.9 61.5 0 0 1 482.2 439.6Q423.5 455.9 479.9 479.1A60.9 61.5 0 0 1 479.4 480.3Q423.5 455.9 481.8 438.2Z" fill="#e6e2b8"/>
<path d="M484.4 453.5A60.9 61.5 0 0 1 484.4 454.9Q423.5 455.9 436.1 516.1A60.9 61.5 0 0 1 434.8 516.3Q423.5 455.9 484.4 453.5Z" fill="#e8cfd8"/>
<path d="M482.4 440.2A60.9 61.5 0 0 1 482.6 441.2Q423.5 455.9 481.1 475.7A60.9 61.5 0 0 1 480.8 476.7Q423.5 455.9 482.4 440.2Z" fill="#e8cfd8"/>
<path d="M455.2 403.4A60.9 61.5 0 0 1 455.3 403.4Q423.5 455.9 482.3 472A60.9 61.5 0 0 1 482.3 472.1Q423.5 455.9 455.2 403.4Z" fill="#e4e4ee"/>
<path d="M387.5 406.3A60.9 61.5 0 0 1 388.8 405.4Q423.5 455.9 483 468.9A60.9 61.5 0 0 1 482.7 470.4Q423.5 455.9 387.5 406.3Z" fill="#e4e4ee"/>
</g>
<path d="M357 454.6A66.5 67.1 0 0 1 358.8 440.5L363.2 441.6A61.9 62.5 0 0 0 361.6 454.6Z" fill="#c8acb4"/>
<path d="M359 439.6A66.5 67.1 0 0 1 364 426L368.1 428.1A61.9 62.5 0 0 0 363.5 440.7Z" fill="#2a1a2c"/>
<path d="M364.4 425.2A66.5 67.1 0 0 1 371.4 414.2L375 417A61.9 62.5 0 0 0 368.5 427.3Z" fill="#8a7a9c"/>
<path d="M372 413.4A66.5 67.1 0 0 1 377.9 407L381.1 410.4A61.9 62.5 0 0 0 375.6 416.4Z" fill="#58a888"/>
<path d="M378.6 406.4A66.5 67.1 0 0 1 385.6 400.8L388.2 404.5A61.9 62.5 0 0 0 381.7 409.8Z" fill="#1a2010"/>
<path d="M386.4 400.2A66.5 67.1 0 0 1 390.8 397.5L393.1 401.5A61.9 62.5 0 0 0 388.9 404.1Z" fill="#12303c"/>
<path d="M391.6 397A66.5 67.1 0 0 1 396.6 394.5L398.5 398.7A61.9 62.5 0 0 0 393.8 401.1Z" fill="#0a0a0a"/>
<path d="M397.5 394.2A66.5 67.1 0 0 1 402.2 392.3L403.7 396.7A61.9 62.5 0 0 0 399.3 398.4Z" fill="#d0e0d8"/>
<path d="M403.1 392A66.5 67.1 0 0 1 408.4 390.6L409.4 395A61.9 62.5 0 0 0 404.5 396.4Z" fill="#7ad050"/>
<path d="M409.3 390.4A66.5 67.1 0 0 1 413.7 389.5L414.4 394.1A61.9 62.5 0 0 0 410.3 394.8Z" fill="#9aaca0"/>
<path d="M414.6 389.4A66.5 67.1 0 0 1 419.6 388.9L419.9 393.5A61.9 62.5 0 0 0 415.3 394Z" fill="#0a0a4a"/>
<path d="M420.5 388.9A66.5 67.1 0 0 1 424.8 388.8L424.7 393.4A61.9 62.5 0 0 0 420.7 393.5Z" fill="#3a4044"/>
<path d="M425.8 388.8A66.5 67.1 0 0 1 429.8 389.1L429.4 393.7A61.9 62.5 0 0 0 425.6 393.4Z" fill="#4a7020"/>
<path d="M430.7 389.2A66.5 67.1 0 0 1 434.6 389.7L433.9 394.3A61.9 62.5 0 0 0 430.2 393.8Z" fill="#4a1a4a"/>
<path d="M435.6 389.9A66.5 67.1 0 0 1 440 390.9L438.9 395.4A61.9 62.5 0 0 0 434.7 394.4Z" fill="#4a80d0"/>
<path d="M440.9 391.1A66.5 67.1 0 0 1 445.1 392.4L443.6 396.8A61.9 62.5 0 0 0 439.7 395.6Z" fill="#3a7a8a"/>
<path d="M445.9 392.7A66.5 67.1 0 0 1 449.8 394.3L448 398.5A61.9 62.5 0 0 0 444.4 397.1Z" fill="#9a5a8a"/>
<path d="M450.7 394.7A66.5 67.1 0 0 1 454.2 396.4L452.1 400.5A61.9 62.5 0 0 0 448.8 398.9Z" fill="#4a8a8a"/>
<path d="M455.1 396.8A66.5 67.1 0 0 1 458.4 398.8L456 402.7A61.9 62.5 0 0 0 452.9 400.9Z" fill="#2a4a4a"/>
<path d="M459.2 399.3A66.5 67.1 0 0 1 462.2 401.3L459.5 405A61.9 62.5 0 0 0 456.7 403.1Z" fill="#0a0a0a"/>
<path d="M462.9 401.8A66.5 67.1 0 0 1 465.6 404L462.7 407.5A61.9 62.5 0 0 0 460.2 405.6Z" fill="#b0d890"/>
<path d="M466.3 404.6A66.5 67.1 0 0 1 468.8 406.7L465.6 410.1A61.9 62.5 0 0 0 463.4 408.1Z" fill="#c0b0e0"/>
<path d="M469.4 407.4A66.5 67.1 0 0 1 471.6 409.6L468.3 412.8A61.9 62.5 0 0 0 466.3 410.7Z" fill="#3a1a4a"/>
<path d="M472.2 410.3A66.5 67.1 0 0 1 474.2 412.4L470.7 415.4A61.9 62.5 0 0 0 468.9 413.4Z" fill="#3a6ac0"/>
<path d="M474.8 413.2A66.5 67.1 0 0 1 476.4 415.3L472.8 418.1A61.9 62.5 0 0 0 471.2 416.1Z" fill="#0a1a4a"/>
<path d="M477 416A66.5 67.1 0 0 1 478.4 418.1L474.6 420.7A61.9 62.5 0 0 0 473.3 418.8Z" fill="#2a8a8a"/>
<path d="M479 418.9A66.5 67.1 0 0 1 480.2 420.9L476.3 423.3A61.9 62.5 0 0 0 475.1 421.4Z" fill="#5a6a20"/>
<path d="M480.7 421.7A66.5 67.1 0 0 1 481.8 423.6L477.7 425.8A61.9 62.5 0 0 0 476.7 424Z" fill="#1a1a1a"/>
<path d="M482.2 424.4A66.5 67.1 0 0 1 483.1 426.2L479 428.2A61.9 62.5 0 0 0 478.1 426.5Z" fill="#3a3a3a"/>
<path d="M483.5 427A66.5 67.1 0 0 1 484.3 428.7L480.1 430.6A61.9 62.5 0 0 0 479.4 429Z" fill="#6a2a4a"/>
<path d="M484.6 429.5A66.5 67.1 0 0 1 485.2 430.9L481 432.6A61.9 62.5 0 0 0 480.4 431.3Z" fill="#f0e2e8"/>
<path d="M485.3 431.2A66.5 67.1 0 0 1 485.9 432.7L481.6 434.3A61.9 62.5 0 0 0 481.1 432.9Z" fill="#f0e2e8"/>
<path d="M486 433A66.5 67.1 0 0 1 486.5 434.5L482.2 435.9A61.9 62.5 0 0 0 481.7 434.5Z" fill="#f2f2f6"/>
<path d="M486.6 434.8A66.5 67.1 0 0 1 487.1 436.3L482.7 437.6A61.9 62.5 0 0 0 482.2 436.2Z" fill="#f2f2f6"/>
<path d="M487.2 436.6A66.5 67.1 0 0 1 487.6 438.1L483.2 439.3A61.9 62.5 0 0 0 482.8 437.9Z" fill="#f0e8dc"/>
<path d="M487.7 438.4A66.5 67.1 0 0 1 488.1 439.9L483.6 441A61.9 62.5 0 0 0 483.2 439.6Z" fill="#f2f2f6"/>
<path d="M488.2 440.2A66.5 67.1 0 0 1 488.5 441.7L484 442.7A61.9 62.5 0 0 0 483.7 441.3Z" fill="#e2ecf2"/>
<path d="M488.6 442A66.5 67.1 0 0 1 488.9 443.6L484.3 444.4A61.9 62.5 0 0 0 484.1 443Z" fill="#f2f2f6"/>
<path d="M488.9 443.9A66.5 67.1 0 0 1 489.2 445.4L484.6 446.2A61.9 62.5 0 0 0 484.4 444.7Z" fill="#f0e8dc"/>
<path d="M489.2 445.7A66.5 67.1 0 0 1 489.5 447.3L484.9 447.9A61.9 62.5 0 0 0 484.7 446.4Z" fill="#e2ecf2"/>
<path d="M489.5 447.6A66.5 67.1 0 0 1 489.7 449.2L485.1 449.6A61.9 62.5 0 0 0 484.9 448.2Z" fill="#f2f2f6"/>
<path d="M489.7 449.5A66.5 67.1 0 0 1 489.8 451.1L485.2 451.4A61.9 62.5 0 0 0 485.1 449.9Z" fill="#e2f2e8"/>
<path d="M489.8 451.4A66.5 67.1 0 0 1 489.9 452.9L485.3 453.1A61.9 62.5 0 0 0 485.3 451.7Z" fill="#f0e8dc"/>
<path d="M489.9 453.2A66.5 67.1 0 0 1 490 454.8L485.4 454.9A61.9 62.5 0 0 0 485.4 453.4Z" fill="#f0e8dc"/>
<path d="M490 455.1A66.5 67.1 0 0 1 490 456.7L485.4 456.7A61.9 62.5 0 0 0 485.4 455.2Z" fill="#e6f0e2"/>
<path d="M363.1 483.9A66.5 67.1 0 0 1 357.8 466.2L362.3 465.5A61.9 62.5 0 0 0 367.2 482Z" fill="#3a6a68"/>
<path d="M371.4 497.6A66.5 67.1 0 0 1 363.5 484.7L367.6 482.8A61.9 62.5 0 0 0 375 494.8Z" fill="#a89094"/>
<path d="M382.1 508.4A66.5 67.1 0 0 1 372 498.4L375.6 495.4A61.9 62.5 0 0 0 385 504.8Z" fill="#1a8a3c"/>
<path d="M391.9 515A66.5 67.1 0 0 1 382.9 509L385.7 505.4A61.9 62.5 0 0 0 394.1 510.9Z" fill="#b0a8e0"/>
<path d="M400.3 518.8A66.5 67.1 0 0 1 392.7 515.4L394.9 511.3A61.9 62.5 0 0 0 401.9 514.5Z" fill="#2a7a5a"/>
<path d="M408.6 521.3A66.5 67.1 0 0 1 401.1 519.1L402.7 514.8A61.9 62.5 0 0 0 409.6 516.8Z" fill="#6a3a40"/>
<path d="M416.8 522.7A66.5 67.1 0 0 1 409.5 521.5L410.5 517A61.9 62.5 0 0 0 417.3 518.1Z" fill="#a0a890"/>
<path d="M424.6 523A66.5 67.1 0 0 1 417.8 522.7L418.2 518.2A61.9 62.5 0 0 0 424.5 518.4Z" fill="#90d050"/>
<path d="M431.8 522.5A66.5 67.1 0 0 1 425.5 523L425.4 518.4A61.9 62.5 0 0 0 431.2 517.9Z" fill="#80d0e8"/>
<path d="M437.3 521.5A66.5 67.1 0 0 1 432.7 522.4L432.1 517.8A61.9 62.5 0 0 0 436.3 517Z" fill="#0a0a0a"/>
<path d="M442.1 520.3A66.5 67.1 0 0 1 438.2 521.3L437.2 516.9A61.9 62.5 0 0 0 440.8 515.9Z" fill="#7a2a3a"/>
<path d="M446.4 518.9A66.5 67.1 0 0 1 443 520.1L441.6 515.7A61.9 62.5 0 0 0 444.8 514.6Z" fill="#0a0a0a"/>
<path d="M451.3 516.9A66.5 67.1 0 0 1 447.3 518.6L445.6 514.3A61.9 62.5 0 0 0 449.4 512.7Z" fill="#5a5a6a"/>
<path d="M455.8 514.6A66.5 67.1 0 0 1 452.1 516.5L450.1 512.3A61.9 62.5 0 0 0 453.6 510.5Z" fill="#7aa890"/>
<path d="M459.9 512A66.5 67.1 0 0 1 456.6 514.1L454.3 510.1A61.9 62.5 0 0 0 457.4 508.2Z" fill="#0a0a0a"/>
<path d="M463.7 509.3A66.5 67.1 0 0 1 460.7 511.5L458.1 507.7A61.9 62.5 0 0 0 460.9 505.7Z" fill="#3a3a3a"/>
<path d="M467.1 506.5A66.5 67.1 0 0 1 464.4 508.8L461.6 505.1A61.9 62.5 0 0 0 464.1 503.1Z" fill="#2a5a4a"/>
<path d="M470.2 503.7A66.5 67.1 0 0 1 467.8 505.9L464.8 502.5A61.9 62.5 0 0 0 467 500.4Z" fill="#1a1a1a"/>
<path d="M473 500.8A66.5 67.1 0 0 1 470.9 503L467.6 499.8A61.9 62.5 0 0 0 469.5 497.7Z" fill="#4a8a6a"/>
<path d="M475.4 497.9A66.5 67.1 0 0 1 473.6 500.1L470.1 497A61.9 62.5 0 0 0 471.8 495Z" fill="#2a2a2a"/>
<path d="M477.5 495A66.5 67.1 0 0 1 476 497.1L472.3 494.3A61.9 62.5 0 0 0 473.8 492.3Z" fill="#0a0a0a"/>
<path d="M479.4 492.2A66.5 67.1 0 0 1 478.1 494.2L474.3 491.6A61.9 62.5 0 0 0 475.5 489.7Z" fill="#6a9a8a"/>
<path d="M481 489.6A66.5 67.1 0 0 1 479.9 491.4L476 489A61.9 62.5 0 0 0 477.1 487.2Z" fill="#1a1a1a"/>
<path d="M482.5 486.9A66.5 67.1 0 0 1 481.5 488.7L477.5 486.5A61.9 62.5 0 0 0 478.4 484.8Z" fill="#3a3a3a"/>
<path d="M483.6 484.7A66.5 67.1 0 0 1 482.9 486.2L478.8 484.1A61.9 62.5 0 0 0 479.4 482.7Z" fill="#eae4f0"/>
<path d="M484.4 482.9A66.5 67.1 0 0 1 483.7 484.4L479.5 482.5A61.9 62.5 0 0 0 480.2 481.1Z" fill="#e2ecf2"/>
<path d="M485.1 481.2A66.5 67.1 0 0 1 484.5 482.7L480.3 480.8A61.9 62.5 0 0 0 480.8 479.4Z" fill="#e2f2e8"/>
<path d="M485.8 479.4A66.5 67.1 0 0 1 485.2 480.9L481 479.2A61.9 62.5 0 0 0 481.5 477.8Z" fill="#f0e2e8"/>
<path d="M486.4 477.5A66.5 67.1 0 0 1 485.9 479.1L481.6 477.5A61.9 62.5 0 0 0 482.1 476.1Z" fill="#e4e0ee"/>
<path d="M487 475.7A66.5 67.1 0 0 1 486.5 477.2L482.2 475.8A61.9 62.5 0 0 0 482.6 474.3Z" fill="#eeecd4"/>
<path d="M487.6 473.8A66.5 67.1 0 0 1 487.1 475.4L482.7 474.1A61.9 62.5 0 0 0 483.1 472.6Z" fill="#f0e8dc"/>
<path d="M488.1 472A66.5 67.1 0 0 1 487.7 473.5L483.2 472.3A61.9 62.5 0 0 0 483.6 470.9Z" fill="#f2f2f6"/>
<path d="M488.5 470.1A66.5 67.1 0 0 1 488.1 471.7L483.7 470.6A61.9 62.5 0 0 0 484 469.1Z" fill="#dde2ea"/>
<path d="M488.9 468.2A66.5 67.1 0 0 1 488.6 469.8L484.1 468.8A61.9 62.5 0 0 0 484.4 467.4Z" fill="#e4e0ee"/>
<path d="M489.2 466.3A66.5 67.1 0 0 1 488.9 467.9L484.4 467.1A61.9 62.5 0 0 0 484.7 465.6Z" fill="#f0e2e8"/>
<path d="M354 447.1l-5.4 -0.7M358.3 431.6l-4.8 -1.8M364.7 417.6l-4.4 -2.9M372.2 407.7l-3.9 -3.6M380.1 401.1l-3.9 -4.9M386.8 396l-3.1 -5.1M392.5 392.5l-2.2 -4.6M398.7 390.3l-2.2 -5.7M404.9 388.1l-1.6 -5.7M410.9 386.9l-1.2 -6.6M416.8 385.8l-0.6 -6.4M422.6 385.3l-0.1 -6.4M428 385.8l0.4 -6.7M433.2 385.9l0.7 -5M438.5 387.1l1.4 -6.3M443.9 388.7l1.5 -5.1M449.1 390.4l2.1 -5.5M453.9 392.6l2.5 -5.2M458.3 395.1l2.8 -4.9M462.4 397.7l2.9 -4.4M466.3 400.3l3.3 -4.2M469.9 403l3.4 -3.8M472.7 406.3l4.1 -4.2M475.6 409.3l4.3 -3.9M478.4 412l4.1 -3.3M480.4 415.2l5.4 -3.8M356.9 476.1l-4.9 1.5M364.2 493.2l-5.1 3.2M374.3 506.2l-4 4.1M385.4 515.1l-3.3 5.1M395.1 520.2l-2.4 5.4M403.9 523.5l-1.7 5.7M412.6 525.5l-0.8 5.1M421.1 526l-0.2 6.4M428.9 526.1l0.5 6.4M435.6 525.4l0.9 5.3M441 524.2l1.3 4.9M445.7 522.5l1.9 5.8M450.6 520.7l2.3 5.5M455.4 518.4l2.3 4.5M460 515.9l3.4 5.6M464 513l3.1 4.3M468.1 510.4l4.2 5.1M471.1 507l3.6 3.9M474.3 504.1l3.9 3.7M477.2 501.3l4.1 3.5M479.5 498.1l4 3M481.6 495.2l4.3 2.9" fill="none" stroke="#4a4a4a" stroke-width="1.1" stroke-dasharray="1 0.4" stroke-opacity="0.75"/>
<path d="M482.3 418.1l5.6 -3.6M483.4 421.4l5.8 -3.3M484.9 424.1l5.5 -2.9M486.7 426.6l7.6 -3.5M486.8 429.4l7.6 -3.2M487.8 431.1l8 -3.1M488.2 433.1l10.2 -3.6M489 434.8l8.4 -2.7M489.6 436.7l7.9 -2.3M490.3 438.5l7.9 -2.1M490.1 440.6l8 -1.9M491 442.4l10.1 -2M491.4 444.3l8.9 -1.5M491.5 446.2l10.1 -1.4M491.4 448.2l10.4 -1.2M491.7 450.1l12.1 -1M491.7 452l10.1 -0.6M491.7 454l11.6 -0.3M491.8 455.9l12.8 0M483 492l4.9 3M484.6 489.3l5.8 3.2M485.4 486.5l8.1 4M485.8 484.5l10.9 5M487.1 482.9l8.4 3.6M487.7 481l9.8 3.8M488.1 479l9.2 3.3M489 477.2l10.7 3.5M489.6 475.3l12.3 3.6M490.2 473.4l10.8 2.8M490.6 471.4l11.6 2.7M490.7 469.4l11.6 2.3M491.4 467.5l10.2 1.7" fill="none" stroke="#555" stroke-width="1.3" stroke-dasharray="1.5 0.3" stroke-opacity="0.55"/>
<g font-size="10" fill="#231f20" style="filter:grayscale(1)">
<text x="5.5" y="17" textLength="35.5" lengthAdjust="spacingAndGlyphs">TRAV10</text>
<text x="122" y="20" textLength="36" lengthAdjust="spacingAndGlyphs">TRBV28</text>
<text x="168" y="20" textLength="36.5" lengthAdjust="spacingAndGlyphs">TRBV28</text>
<text x="292" y="20.5" textLength="36.8" lengthAdjust="spacingAndGlyphs">TRAV10</text>
<text x="331.25" y="20" textLength="38.8" lengthAdjust="spacingAndGlyphs">TRBV7-2</text>
<text x="459.5" y="20" textLength="55.5" lengthAdjust="spacingAndGlyphs">TRAV36DV7</text>
<text x="5.5" y="140.75" textLength="34.5" lengthAdjust="spacingAndGlyphs">TRAJ20</text>
<text x="118.75" y="140.5" textLength="39.2" lengthAdjust="spacingAndGlyphs">TRAJ1-2</text>
<text x="171.25" y="140.75" textLength="39.5" lengthAdjust="spacingAndGlyphs">TRAJ1-2</text>
<text x="288.75" y="140.5" textLength="35" lengthAdjust="spacingAndGlyphs">TRAJ20</text>
<text x="332" y="140.75" textLength="40.5" lengthAdjust="spacingAndGlyphs">TRBJ1- 2</text>
<text x="462.5" y="140.75" textLength="35" lengthAdjust="spacingAndGlyphs">TRAJ39</text>
<text x="5.5" y="200.5" textLength="40" lengthAdjust="spacingAndGlyphs">TRBV7-2</text>
<text x="133.75" y="215.5" textLength="55.8" lengthAdjust="spacingAndGlyphs">TRAV36DV7</text>
<text x="170.5" y="199.5" textLength="44" lengthAdjust="spacingAndGlyphs">TRBV20-1</text>
<text x="292" y="202.5" textLength="45.5" lengthAdjust="spacingAndGlyphs">TRAV13-2</text>
<text x="337.5" y="200.5" textLength="45" lengthAdjust="spacingAndGlyphs">TRBV20-1</text>
<text x="458.75" y="200.5" textLength="45.8" lengthAdjust="spacingAndGlyphs">TRAV13-2</text>
<text x="5.5" y="328.75" textLength="38.2" lengthAdjust="spacingAndGlyphs">TRBJ1-2</text>
<text x="131" y="329" textLength="35.5" lengthAdjust="spacingAndGlyphs">TRAJ39</text>
<text x="179.5" y="328.75" textLength="38" lengthAdjust="spacingAndGlyphs">TRBJ1-5</text>
<text x="286" y="329" textLength="36.5" lengthAdjust="spacingAndGlyphs">TRAJ40</text>
<text x="337.5" y="328.75" textLength="37.5" lengthAdjust="spacingAndGlyphs">TRBJ1-5</text>
<text x="462.5" y="329" textLength="35" lengthAdjust="spacingAndGlyphs">TRAJ40</text>
<text x="57" y="160.25" textLength="67.2" lengthAdjust="spacingAndGlyphs">SS8 tumor Th2</text>
<text x="63.75" y="172.5" textLength="53.2" lengthAdjust="spacingAndGlyphs">monoclonal</text>
<text x="219.5" y="160.25" textLength="73.5" lengthAdjust="spacingAndGlyphs">SS8 tumor Th17</text>
<text x="229.5" y="172.5" textLength="53.5" lengthAdjust="spacingAndGlyphs">monoclonal</text>
<text x="391" y="160.25" textLength="70" lengthAdjust="spacingAndGlyphs">SS3 tumor Th2</text>
<text x="399.5" y="172.5" textLength="53.5" lengthAdjust="spacingAndGlyphs">monoclonal</text>
<text x="53.75" y="349.25" textLength="73.2" lengthAdjust="spacingAndGlyphs">SS3 tumor Th17</text>
<text x="63.75" y="361.25" textLength="53.2" lengthAdjust="spacingAndGlyphs">monoclonal</text>
<text x="169.5" y="349.25" textLength="174.5" lengthAdjust="spacingAndGlyphs">SS17 tumor CD183+CD194+CD196+</text>
<text x="229.5" y="361.25" textLength="53.5" lengthAdjust="spacingAndGlyphs">monoclonal</text>
<text x="386.25" y="349.25" textLength="78.8" lengthAdjust="spacingAndGlyphs">SS17 tumor Th17</text>
<text x="399.5" y="361.25" textLength="53.5" lengthAdjust="spacingAndGlyphs">monoclonal</text>
<text x="54.5" y="542.5" textLength="71" lengthAdjust="spacingAndGlyphs">SS8 normal Th2</text>
<text x="66.5" y="555" textLength="47" lengthAdjust="spacingAndGlyphs">polyclonal</text>
<text x="217" y="542.5" textLength="78" lengthAdjust="spacingAndGlyphs">SS8 normal Th17</text>
<text x="232.5" y="555" textLength="47" lengthAdjust="spacingAndGlyphs">polyclonal</text>
<text x="337" y="542.5" textLength="178" lengthAdjust="spacingAndGlyphs">SS17 normal CD183+CD194+CD196+</text>
<text x="402.5" y="555" textLength="47" lengthAdjust="spacingAndGlyphs">polyclonal</text>
</g>
<path d="M0 0H520V564H0ZM1.1 1.1V562.4H518.5V1.1Z" fill="#000" fill-rule="evenodd"/>
</svg>
</body></html>
